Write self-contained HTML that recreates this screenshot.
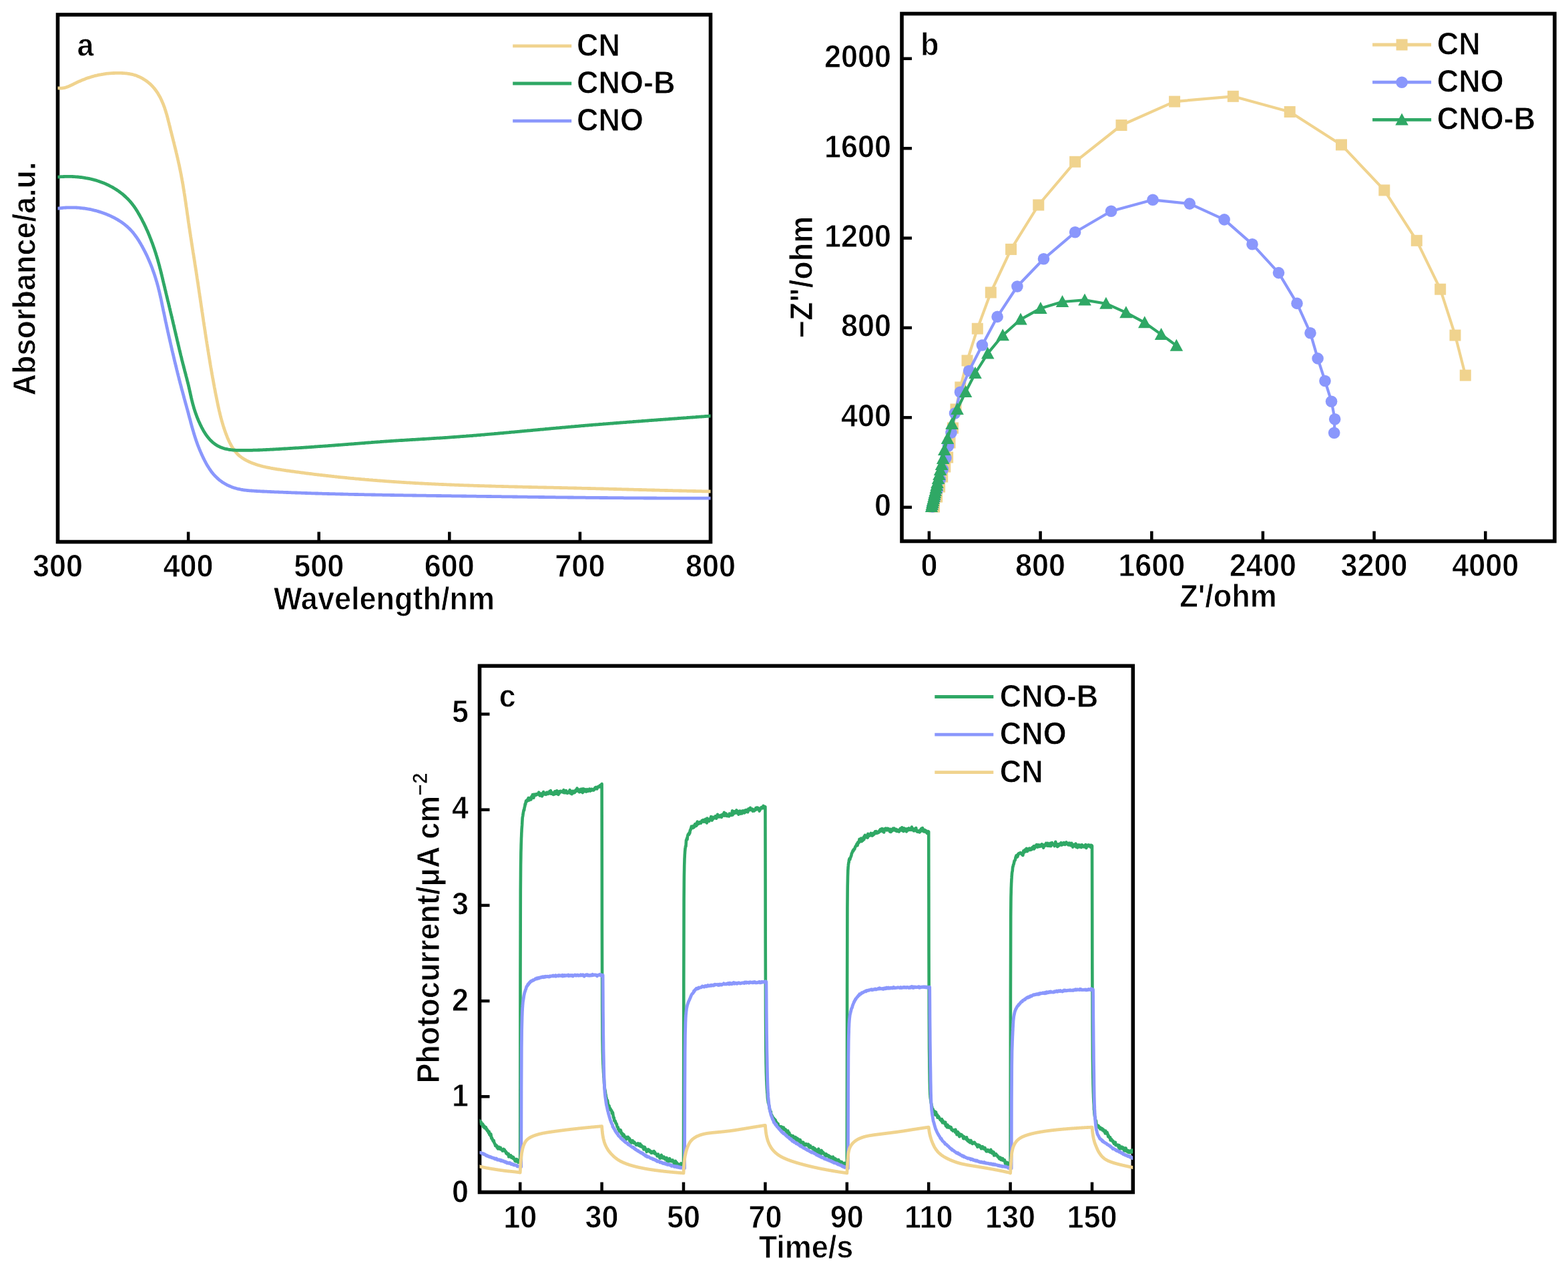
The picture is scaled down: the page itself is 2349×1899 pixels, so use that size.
<!DOCTYPE html>
<html><head><meta charset="utf-8"><title>Figure</title>
<style>html,body{margin:0;padding:0;background:#fff;overflow:hidden}svg{display:block}text{font-family:'Liberation Sans',Arial,sans-serif;font-weight:bold;stroke:#fff;stroke-width:0.9px;paint-order:fill}</style>
</head><body>
<svg width="2349" height="1899" viewBox="0 0 2349 1899">
<defs>
<clipPath id="ca"><rect x="86.5" y="22" width="978.0" height="789.5"/></clipPath>
<clipPath id="cc"><rect x="718.5" y="997.3" width="978.8" height="788.2"/></clipPath>
</defs>
<rect width="2349" height="1899" fill="#fff"/>
<rect x="86.5" y="22" width="978" height="789.5" fill="none" stroke="#000" stroke-width="5.6"/>
<text x="86.5" y="864" text-anchor="middle" font-size="47.5" textLength="75.1" lengthAdjust="spacingAndGlyphs">300</text>
<line x1="282.1" y1="811.5" x2="282.1" y2="796.5" stroke="#000" stroke-width="4.5"/>
<text x="282.1" y="864" text-anchor="middle" font-size="47.5" textLength="75.1" lengthAdjust="spacingAndGlyphs">400</text>
<line x1="477.7" y1="811.5" x2="477.7" y2="796.5" stroke="#000" stroke-width="4.5"/>
<text x="477.7" y="864" text-anchor="middle" font-size="47.5" textLength="75.1" lengthAdjust="spacingAndGlyphs">500</text>
<line x1="673.3" y1="811.5" x2="673.3" y2="796.5" stroke="#000" stroke-width="4.5"/>
<text x="673.3" y="864" text-anchor="middle" font-size="47.5" textLength="75.1" lengthAdjust="spacingAndGlyphs">600</text>
<line x1="868.9" y1="811.5" x2="868.9" y2="796.5" stroke="#000" stroke-width="4.5"/>
<text x="868.9" y="864" text-anchor="middle" font-size="47.5" textLength="75.1" lengthAdjust="spacingAndGlyphs">700</text>
<text x="1064.5" y="864" text-anchor="middle" font-size="47.5" textLength="75.1" lengthAdjust="spacingAndGlyphs">800</text>
<text x="575.5" y="912.5" text-anchor="middle" font-size="47.5" textLength="330.9" lengthAdjust="spacingAndGlyphs">Wavelength/nm</text>
<text x="53" y="417.5" text-anchor="middle" font-size="47.5" textLength="350.1" lengthAdjust="spacingAndGlyphs" transform="rotate(-90 53 417.5)">Absorbance/a.u.</text>
<text x="115.5" y="84" text-anchor="start" font-size="47.5" textLength="25" lengthAdjust="spacingAndGlyphs">a</text>
<g clip-path="url(#ca)">
<polyline points="86.5,131.8 88.1,132 89.6,132.2 91.1,132.2 92.6,132.1 94.1,131.9 95.6,131.7 97,131.4 98.4,131 99.8,130.5 101.2,130 102.6,129.5 104,128.9 105.3,128.3 106.7,127.6 108,127 109.4,126.3 110.7,125.6 112.1,125 113.4,124.3 114.8,123.6 116.1,123 117.5,122.4 118.9,121.8 120.3,121.2 121.6,120.6 123,120 124.4,119.4 125.8,118.9 127.2,118.4 128.6,117.8 130,117.3 131.4,116.8 132.8,116.4 134.2,115.9 135.7,115.5 137.1,115 138.5,114.6 139.9,114.2 141.4,113.8 142.8,113.4 144.3,113.1 145.7,112.8 147.2,112.4 148.7,112.1 150.1,111.8 151.6,111.6 153.1,111.3 154.5,111.1 156,110.8 157.5,110.6 159,110.4 160.5,110.2 162,110.1 163.5,109.9 165,109.8 166.5,109.7 168,109.6 169.6,109.5 171.1,109.5 172.6,109.4 174.1,109.4 175.6,109.4 177.1,109.4 178.6,109.4 180.1,109.4 181.7,109.4 183.2,109.5 184.7,109.6 186.2,109.7 187.7,109.8 189.2,109.9 190.7,110.1 192.1,110.3 193.6,110.5 195.1,110.8 196.5,111.1 198,111.4 199.4,111.8 200.9,112.2 202.3,112.6 203.7,113.1 205.1,113.6 206.5,114.2 207.9,114.8 209.3,115.4 210.6,116 211.9,116.7 213.3,117.4 214.6,118.2 215.8,119 217.1,119.8 218.3,120.6 219.6,121.5 220.8,122.4 222,123.3 223.1,124.3 224.2,125.2 225.4,126.2 226.4,127.3 227.5,128.3 228.5,129.4 229.5,130.5 230.5,131.7 231.5,132.8 232.4,134 233.3,135.2 234.2,136.4 235,137.6 235.9,138.9 236.7,140.1 237.4,141.4 238.2,142.7 238.9,144 239.7,145.4 240.4,146.7 241,148 241.7,149.4 242.3,150.8 242.9,152.2 243.5,153.6 244.1,155 244.7,156.4 245.2,157.8 245.7,159.2 246.3,160.6 246.8,162.1 247.2,163.5 247.7,164.9 248.2,166.4 248.6,167.8 249,169.3 249.5,170.7 249.9,172.1 250.3,173.6 250.7,175 251.1,176.5 251.4,177.9 251.8,179.4 252.2,180.8 252.5,182.3 252.9,183.7 253.3,185.2 253.6,186.6 254,188 254.4,189.5 254.7,190.9 255.1,192.4 255.4,193.8 255.8,195.3 256.2,196.8 256.5,198.2 256.9,199.7 257.3,201.1 257.6,202.6 258,204 258.4,205.5 258.7,206.9 259.1,208.4 259.5,209.8 259.8,211.3 260.2,212.7 260.6,214.2 260.9,215.6 261.3,217.1 261.6,218.6 262,220 262.4,221.5 262.7,222.9 263.1,224.4 263.4,225.9 263.8,227.3 264.1,228.8 264.5,230.2 264.8,231.7 265.2,233.2 265.5,234.6 265.9,236.1 266.2,237.5 266.5,239 266.9,240.5 267.2,241.9 267.5,243.4 267.8,244.9 268.2,246.3 268.5,247.8 268.8,249.3 269.1,250.7 269.4,252.2 269.7,253.7 270,255.1 270.3,256.6 270.6,258.1 270.9,259.6 271.2,261 271.5,262.5 271.7,264 272,265.5 272.3,266.9 272.6,268.4 272.8,269.9 273.1,271.4 273.3,272.8 273.6,274.3 273.9,275.8 274.1,277.3 274.4,278.8 274.6,280.2 274.8,281.7 275.1,283.2 275.3,284.7 275.6,286.2 275.8,287.6 276,289.1 276.3,290.6 276.5,292.1 276.7,293.6 277,295 277.2,296.5 277.4,298 277.6,299.5 277.8,301 278.1,302.5 278.3,303.9 278.5,305.4 278.7,306.9 278.9,308.4 279.1,309.9 279.4,311.4 279.6,312.8 279.8,314.3 280,315.8 280.2,317.3 280.4,318.8 280.6,320.3 280.8,321.8 281.1,323.2 281.3,324.7 281.5,326.2 281.7,327.7 281.9,329.2 282.1,330.7 282.3,332.2 282.5,333.6 282.8,335.1 283,336.6 283.2,338.1 283.4,339.6 283.6,341.1 283.9,342.5 284.1,344 284.3,345.5 284.5,347 284.7,348.5 285,350 285.2,351.4 285.4,352.9 285.6,354.4 285.9,355.9 286.1,357.4 286.3,358.8 286.6,360.3 286.8,361.8 287,363.3 287.2,364.8 287.5,366.3 287.7,367.7 287.9,369.2 288.2,370.7 288.4,372.2 288.6,373.7 288.9,375.1 289.1,376.6 289.3,378.1 289.6,379.6 289.8,381.1 290.1,382.5 290.3,384 290.5,385.5 290.8,387 291,388.5 291.2,390 291.5,391.4 291.7,392.9 291.9,394.4 292.1,395.9 292.4,397.4 292.6,398.8 292.8,400.3 293.1,401.8 293.3,403.3 293.5,404.8 293.8,406.3 294,407.7 294.2,409.2 294.4,410.7 294.7,412.2 294.9,413.7 295.1,415.1 295.3,416.6 295.6,418.1 295.8,419.6 296,421.1 296.2,422.6 296.5,424 296.7,425.5 296.9,427 297.1,428.5 297.3,430 297.6,431.5 297.8,433 298,434.4 298.2,435.9 298.4,437.4 298.7,438.9 298.9,440.4 299.1,441.9 299.3,443.3 299.5,444.8 299.8,446.3 300,447.8 300.2,449.3 300.4,450.8 300.6,452.3 300.9,453.7 301.1,455.2 301.3,456.7 301.5,458.2 301.7,459.7 302,461.2 302.2,462.6 302.4,464.1 302.6,465.6 302.8,467.1 303.1,468.6 303.3,470.1 303.5,471.5 303.7,473 303.9,474.5 304.2,476 304.4,477.5 304.6,479 304.8,480.5 305,481.9 305.3,483.4 305.5,484.9 305.7,486.4 305.9,487.9 306.2,489.4 306.4,490.8 306.6,492.3 306.8,493.8 307.1,495.3 307.3,496.8 307.5,498.3 307.7,499.7 308,501.2 308.2,502.7 308.4,504.2 308.6,505.7 308.9,507.2 309.1,508.6 309.3,510.1 309.6,511.6 309.8,513.1 310,514.6 310.3,516.1 310.5,517.5 310.7,519 311,520.5 311.2,522 311.4,523.5 311.7,524.9 311.9,526.4 312.2,527.9 312.4,529.4 312.6,530.9 312.9,532.3 313.1,533.8 313.4,535.3 313.6,536.8 313.9,538.3 314.1,539.7 314.3,541.2 314.6,542.7 314.8,544.2 315.1,545.7 315.3,547.1 315.6,548.6 315.8,550.1 316.1,551.6 316.4,553 316.6,554.5 316.9,556 317.1,557.5 317.4,558.9 317.6,560.4 317.9,561.9 318.2,563.4 318.4,564.9 318.7,566.3 319,567.8 319.2,569.3 319.5,570.8 319.8,572.2 320,573.7 320.3,575.2 320.6,576.6 320.9,578.1 321.1,579.6 321.4,581.1 321.7,582.5 322,584 322.3,585.5 322.5,587 322.8,588.4 323.1,589.9 323.4,591.4 323.7,592.8 324,594.3 324.3,595.8 324.6,597.2 324.9,598.7 325.2,600.2 325.5,601.6 325.8,603.1 326.1,604.6 326.4,606 326.7,607.5 327,609 327.3,610.4 327.7,611.9 328,613.4 328.3,614.8 328.7,616.3 329,617.7 329.4,619.2 329.7,620.7 330.1,622.1 330.4,623.6 330.8,625 331.2,626.5 331.6,627.9 332,629.4 332.4,630.8 332.8,632.2 333.2,633.7 333.6,635.1 334.1,636.6 334.5,638 335,639.4 335.4,640.9 335.9,642.3 336.4,643.7 336.9,645.2 337.4,646.6 337.9,648 338.4,649.4 338.9,650.8 339.5,652.2 340.1,653.7 340.6,655.1 341.2,656.5 341.8,657.9 342.4,659.3 343.1,660.6 343.7,662 344.4,663.4 345.1,664.7 345.8,666 346.5,667.3 347.2,668.6 348,669.9 348.8,671.2 349.7,672.4 350.5,673.6 351.4,674.8 352.3,676 353.2,677.1 354.2,678.2 355.2,679.3 356.2,680.4 357.3,681.4 358.4,682.4 359.5,683.3 360.7,684.2 361.9,685.1 363.2,686 364.4,686.8 365.7,687.6 367,688.3 368.3,689.1 369.7,689.8 371,690.5 372.4,691.1 373.7,691.8 375.1,692.4 376.5,693 377.9,693.5 379.3,694.1 380.7,694.6 382.1,695.1 383.5,695.6 384.9,696 386.4,696.5 387.8,696.9 389.3,697.3 390.7,697.7 392.2,698.1 393.6,698.5 395.1,698.8 396.6,699.2 398,699.5 399.5,699.8 401,700.1 402.4,700.4 403.9,700.7 405.4,701 406.9,701.3 408.4,701.5 409.9,701.8 411.4,702 412.9,702.3 414.3,702.5 415.8,702.8 417.3,703 418.8,703.2 420.3,703.4 421.8,703.7 423.3,703.9 424.8,704.1 426.3,704.3 427.7,704.5 429.2,704.8 430.7,705 432.2,705.2 433.7,705.4 435.2,705.6 436.7,705.8 438.1,706 439.6,706.2 441.1,706.4 442.6,706.6 444.1,706.8 445.6,707 447,707.2 448.5,707.4 450,707.6 451.5,707.8 453,708 454.5,708.2 455.9,708.4 457.4,708.6 458.9,708.8 460.4,709 461.9,709.2 463.4,709.4 464.8,709.5 466.3,709.7 467.8,709.9 469.3,710.1 470.8,710.3 472.3,710.5 473.8,710.6 475.3,710.8 476.7,711 478.2,711.2 479.7,711.3 481.2,711.5 482.7,711.7 484.2,711.9 485.7,712 487.2,712.2 488.6,712.4 490.1,712.5 491.6,712.7 493.1,712.9 494.6,713 496.1,713.2 497.6,713.4 499.1,713.5 500.6,713.7 502.1,713.8 503.6,714 505,714.2 506.5,714.3 508,714.5 509.5,714.6 511,714.8 512.5,714.9 514,715.1 515.5,715.2 517,715.4 518.5,715.5 520,715.7 521.5,715.8 523,716 524.4,716.1 525.9,716.3 527.4,716.4 528.9,716.5 530.4,716.7 531.9,716.8 533.4,717 534.9,717.1 536.4,717.2 537.9,717.4 539.4,717.5 540.9,717.6 542.4,717.8 543.9,717.9 545.4,718 546.9,718.2 548.4,718.3 549.9,718.4 551.3,718.5 552.8,718.7 554.3,718.8 555.8,718.9 557.3,719 558.8,719.2 560.3,719.3 561.8,719.4 563.3,719.5 564.8,719.6 566.3,719.8 567.8,719.9 569.3,720 570.8,720.1 572.3,720.2 573.8,720.3 575.3,720.4 576.8,720.6 578.3,720.7 579.8,720.8 581.3,720.9 582.8,721 584.3,721.1 585.8,721.2 587.3,721.3 588.8,721.4 590.3,721.5 591.8,721.6 593.3,721.7 594.8,721.8 596.2,721.9 597.7,722 599.2,722.1 600.7,722.2 602.2,722.3 603.7,722.4 605.2,722.5 606.7,722.6 608.2,722.7 609.7,722.8 611.2,722.9 612.7,722.9 614.2,723 615.7,723.1 617.2,723.2 618.7,723.3 620.2,723.4 621.7,723.5 623.2,723.6 624.7,723.6 626.2,723.7 627.7,723.8 629.2,723.9 630.7,724 632.2,724 633.7,724.1 635.2,724.2 636.7,724.3 638.2,724.3 639.7,724.4 641.2,724.5 642.7,724.6 644.2,724.6 645.7,724.7 647.2,724.8 648.7,724.9 650.2,724.9 651.7,725 653.2,725.1 654.7,725.1 656.2,725.2 657.7,725.3 659.2,725.3 660.7,725.4 662.2,725.5 663.7,725.5 665.2,725.6 666.7,725.7 668.2,725.7 669.7,725.8 671.2,725.9 672.6,725.9 674.1,726 675.6,726 677.1,726.1 678.6,726.2 680.1,726.2 681.6,726.3 683.1,726.3 684.6,726.4 686.1,726.4 687.6,726.5 689.1,726.6 690.6,726.6 692.1,726.7 693.6,726.7 695.1,726.8 696.6,726.8 698.1,726.9 699.6,726.9 701.1,727 702.6,727 704.1,727.1 705.6,727.1 707.1,727.2 708.6,727.2 710.1,727.3 711.6,727.3 713.1,727.4 714.6,727.4 716.1,727.5 717.6,727.5 719.1,727.6 720.6,727.6 722.1,727.7 723.6,727.7 725.1,727.7 726.6,727.8 728.1,727.8 729.6,727.9 731.1,727.9 732.6,728 734.1,728 735.6,728 737.1,728.1 738.6,728.1 740.1,728.2 741.6,728.2 743.1,728.3 744.6,728.3 746.1,728.3 747.6,728.4 749.1,728.4 750.6,728.4 752.1,728.5 753.6,728.5 755.1,728.6 756.6,728.6 758.1,728.6 759.6,728.7 761.1,728.7 762.6,728.8 764.1,728.8 765.6,728.8 767.1,728.9 768.6,728.9 770.1,728.9 771.6,729 773.1,729 774.6,729 776.1,729.1 777.6,729.1 779.1,729.1 780.6,729.2 782.1,729.2 783.6,729.3 785.1,729.3 786.6,729.3 788.1,729.4 789.6,729.4 791.1,729.4 792.6,729.5 794.1,729.5 795.6,729.5 797.1,729.6 798.6,729.6 800.1,729.6 801.6,729.7 803.1,729.7 804.6,729.7 806.1,729.8 807.6,729.8 809.1,729.8 810.6,729.9 812.1,729.9 813.6,729.9 815.1,730 816.6,730 818.1,730 819.6,730.1 821.1,730.1 822.6,730.1 824.1,730.2 825.6,730.2 827.1,730.2 828.6,730.2 830.1,730.3 831.6,730.3 833.1,730.3 834.6,730.4 836.1,730.4 837.6,730.4 839.1,730.5 840.6,730.5 842.1,730.6 843.6,730.6 845.1,730.6 846.6,730.7 848.1,730.7 849.6,730.7 851.1,730.8 852.6,730.8 854.1,730.8 855.6,730.9 857.1,730.9 858.6,730.9 860.1,731 861.6,731 863.1,731 864.6,731.1 866.1,731.1 867.6,731.1 869.1,731.2 870.6,731.2 872.1,731.3 873.6,731.3 875.1,731.3 876.6,731.4 878.1,731.4 879.6,731.4 881.1,731.5 882.6,731.5 884.1,731.5 885.6,731.6 887.1,731.6 888.6,731.7 890.1,731.7 891.6,731.7 893.1,731.8 894.6,731.8 896.1,731.8 897.6,731.9 899.1,731.9 900.6,732 902.1,732 903.6,732 905.1,732.1 906.6,732.1 908.1,732.2 909.6,732.2 911.1,732.2 912.6,732.3 914,732.3 915.5,732.4 917,732.4 918.5,732.4 920,732.5 921.5,732.5 923,732.5 924.5,732.6 926,732.6 927.5,732.7 929,732.7 930.5,732.7 932,732.8 933.5,732.8 935,732.9 936.5,732.9 938,732.9 939.5,733 941,733 942.5,733.1 944,733.1 945.5,733.1 947,733.2 948.5,733.2 950,733.3 951.5,733.3 953,733.3 954.5,733.4 956,733.4 957.5,733.5 959,733.5 960.5,733.5 962,733.6 963.5,733.6 965,733.6 966.5,733.7 968,733.7 969.5,733.8 971,733.8 972.5,733.8 974,733.9 975.5,733.9 977,734 978.5,734 980,734 981.5,734.1 983,734.1 984.5,734.2 986,734.2 987.5,734.2 989,734.3 990.5,734.3 992,734.3 993.5,734.4 995,734.4 996.5,734.5 998,734.5 999.5,734.5 1001,734.6 1002.5,734.6 1004,734.6 1005.5,734.7 1007,734.7 1008.5,734.8 1010,734.8 1011.5,734.8 1013,734.9 1014.5,734.9 1016,734.9 1017.5,735 1019,735 1020.5,735 1022,735.1 1023.5,735.1 1025,735.1 1026.5,735.2 1028,735.2 1029.5,735.3 1031,735.3 1032.5,735.3 1034,735.4 1035.5,735.4 1037,735.4 1038.5,735.5 1040,735.5 1041.5,735.5 1043,735.6 1044.5,735.6 1046,735.6 1047.5,735.7 1049,735.7 1050.5,735.7 1052,735.8 1053.5,735.8 1055,735.8 1056.5,735.8 1058,735.9 1059.5,735.9 1061,735.9 1062.5,736 1064,736" fill="none" stroke="#F0D38E" stroke-width="4.8" stroke-linejoin="round" stroke-linecap="round"/>
<polyline points="86.5,312.2 88,312 89.5,311.8 91,311.6 92.5,311.5 94,311.3 95.5,311.2 97,311.1 98.5,311 100,310.9 101.5,310.9 103,310.8 104.5,310.8 106,310.8 107.5,310.8 109,310.8 110.5,310.8 112,310.9 113.5,310.9 115,311 116.5,311.1 117.9,311.2 119.4,311.3 120.9,311.5 122.4,311.6 123.9,311.8 125.4,312 126.9,312.2 128.3,312.4 129.8,312.6 131.3,312.9 132.8,313.1 134.2,313.4 135.7,313.7 137.2,314 138.6,314.4 140.1,314.7 141.5,315.1 143,315.4 144.4,315.8 145.9,316.2 147.3,316.6 148.8,317.1 150.2,317.5 151.6,318 153.1,318.5 154.5,319 155.9,319.5 157.3,320 158.7,320.6 160.1,321.1 161.5,321.7 162.9,322.3 164.3,322.9 165.7,323.5 167,324.2 168.4,324.8 169.7,325.5 171.1,326.2 172.4,326.9 173.7,327.6 175,328.3 176.3,329.1 177.6,329.9 178.9,330.7 180.2,331.5 181.4,332.3 182.7,333.2 183.9,334.1 185.1,334.9 186.3,335.8 187.4,336.8 188.6,337.7 189.7,338.7 190.9,339.7 192,340.7 193.1,341.7 194.1,342.7 195.2,343.8 196.2,344.9 197.2,346 198.2,347.1 199.2,348.2 200.1,349.4 201,350.6 201.9,351.8 202.8,353 203.7,354.2 204.6,355.4 205.4,356.6 206.2,357.9 207.1,359.2 207.9,360.4 208.7,361.7 209.4,363 210.2,364.3 211,365.6 211.7,366.9 212.5,368.2 213.2,369.5 213.9,370.8 214.6,372.1 215.3,373.5 216,374.8 216.7,376.1 217.4,377.5 218.1,378.8 218.7,380.2 219.4,381.5 220,382.9 220.7,384.2 221.3,385.6 221.9,387 222.5,388.3 223.1,389.7 223.7,391.1 224.3,392.5 224.9,393.9 225.5,395.2 226,396.6 226.6,398 227.1,399.4 227.7,400.8 228.2,402.2 228.7,403.7 229.2,405.1 229.7,406.5 230.2,407.9 230.7,409.3 231.2,410.7 231.7,412.2 232.1,413.6 232.6,415 233,416.5 233.5,417.9 233.9,419.3 234.3,420.8 234.8,422.2 235.2,423.6 235.6,425.1 236,426.5 236.4,428 236.8,429.4 237.2,430.9 237.5,432.3 237.9,433.8 238.3,435.2 238.6,436.7 239,438.2 239.3,439.6 239.6,441.1 240,442.5 240.3,444 240.6,445.5 241,446.9 241.3,448.4 241.6,449.9 241.9,451.3 242.2,452.8 242.5,454.3 242.8,455.7 243.1,457.2 243.4,458.7 243.7,460.1 244,461.6 244.3,463.1 244.6,464.5 244.9,466 245.3,467.5 245.6,468.9 245.9,470.4 246.2,471.9 246.5,473.3 246.8,474.8 247.1,476.3 247.4,477.7 247.7,479.2 248,480.7 248.3,482.1 248.7,483.6 249,485.1 249.3,486.5 249.6,488 249.9,489.5 250.2,490.9 250.6,492.4 250.9,493.9 251.2,495.3 251.5,496.8 251.9,498.3 252.2,499.7 252.5,501.2 252.8,502.7 253.2,504.1 253.5,505.6 253.8,507.1 254.2,508.5 254.5,510 254.8,511.5 255.2,512.9 255.5,514.4 255.8,515.8 256.2,517.3 256.5,518.8 256.8,520.2 257.2,521.7 257.5,523.2 257.8,524.6 258.2,526.1 258.5,527.5 258.9,529 259.2,530.5 259.6,531.9 259.9,533.4 260.3,534.8 260.6,536.3 260.9,537.7 261.3,539.2 261.6,540.7 262,542.1 262.3,543.6 262.7,545 263.1,546.5 263.4,548 263.8,549.4 264.1,550.9 264.5,552.3 264.8,553.8 265.2,555.2 265.6,556.7 265.9,558.1 266.3,559.6 266.7,561 267,562.5 267.4,564 267.8,565.4 268.1,566.9 268.5,568.3 268.9,569.8 269.3,571.2 269.6,572.7 270,574.1 270.4,575.6 270.8,577 271.2,578.5 271.5,579.9 271.9,581.4 272.3,582.8 272.7,584.3 273.1,585.7 273.5,587.2 273.9,588.6 274.3,590.1 274.7,591.5 275.1,593 275.4,594.4 275.8,595.9 276.2,597.3 276.6,598.7 277,600.2 277.4,601.6 277.8,603.1 278.2,604.5 278.6,606 279,607.4 279.4,608.9 279.8,610.3 280.2,611.8 280.6,613.2 281,614.7 281.4,616.1 281.8,617.6 282.2,619 282.5,620.5 282.9,621.9 283.3,623.4 283.7,624.8 284.1,626.3 284.5,627.7 284.9,629.2 285.3,630.6 285.6,632.1 286,633.5 286.4,634.9 286.8,636.4 287.2,637.8 287.6,639.3 288,640.7 288.4,642.2 288.8,643.6 289.3,645 289.7,646.5 290.1,647.9 290.5,649.4 291,650.8 291.4,652.2 291.8,653.6 292.3,655.1 292.8,656.5 293.2,657.9 293.7,659.3 294.2,660.7 294.7,662.1 295.2,663.6 295.7,665 296.2,666.4 296.8,667.8 297.3,669.1 297.9,670.5 298.4,671.9 299,673.3 299.6,674.7 300.2,676.1 300.8,677.5 301.4,678.8 302,680.2 302.6,681.6 303.2,682.9 303.9,684.3 304.5,685.7 305.2,687 305.9,688.4 306.6,689.8 307.3,691.1 308,692.4 308.7,693.8 309.4,695.1 310.2,696.4 311,697.7 311.8,699 312.6,700.3 313.4,701.6 314.2,702.8 315.1,704 315.9,705.3 316.8,706.5 317.7,707.7 318.7,708.8 319.6,710 320.6,711.1 321.6,712.2 322.6,713.3 323.7,714.3 324.8,715.4 325.9,716.4 327,717.4 328.1,718.3 329.3,719.3 330.5,720.2 331.7,721.1 332.9,721.9 334.1,722.7 335.4,723.5 336.7,724.3 338,725 339.3,725.8 340.6,726.5 342,727.1 343.4,727.7 344.7,728.3 346.1,728.9 347.5,729.5 348.9,730 350.4,730.5 351.8,730.9 353.2,731.3 354.7,731.7 356.1,732.1 357.6,732.4 359.1,732.7 360.5,733 362,733.3 363.5,733.5 365,733.8 366.5,734 368,734.1 369.5,734.3 371,734.5 372.5,734.6 374,734.8 375.5,734.9 377,735 378.5,735.1 380,735.2 381.5,735.3 383,735.4 384.5,735.5 386,735.6 387.5,735.7 389,735.7 390.5,735.8 392,735.9 393.5,736 395,736 396.5,736.1 398,736.2 399.5,736.2 401,736.3 402.5,736.4 404,736.4 405.5,736.5 407,736.6 408.5,736.6 410,736.7 411.5,736.8 413,736.8 414.5,736.9 416,736.9 417.5,737 419,737.1 420.5,737.1 422,737.2 423.5,737.2 425,737.3 426.5,737.4 428,737.4 429.5,737.5 431,737.5 432.4,737.6 433.9,737.6 435.4,737.7 436.9,737.8 438.4,737.8 439.9,737.9 441.4,737.9 442.9,738 444.4,738 445.9,738.1 447.4,738.1 448.9,738.2 450.4,738.2 451.9,738.3 453.4,738.3 454.9,738.4 456.4,738.4 457.9,738.5 459.4,738.5 460.9,738.6 462.4,738.6 463.9,738.7 465.4,738.7 466.9,738.8 468.4,738.8 469.9,738.9 471.4,738.9 472.9,739 474.4,739 475.9,739 477.4,739.1 478.9,739.1 480.4,739.2 481.9,739.2 483.4,739.3 484.9,739.3 486.4,739.3 487.9,739.4 489.4,739.4 490.9,739.5 492.4,739.5 493.9,739.6 495.4,739.6 496.9,739.6 498.4,739.7 499.9,739.7 501.4,739.7 502.9,739.8 504.4,739.8 505.9,739.9 507.4,739.9 508.9,739.9 510.4,740 511.9,740 513.4,740 514.9,740.1 516.4,740.1 517.9,740.1 519.4,740.2 520.9,740.2 522.4,740.3 523.9,740.3 525.4,740.3 526.9,740.4 528.4,740.4 529.9,740.4 531.4,740.5 532.9,740.5 534.4,740.5 535.9,740.5 537.4,740.6 538.9,740.6 540.4,740.6 541.9,740.7 543.4,740.7 544.9,740.7 546.4,740.8 547.9,740.8 549.4,740.8 550.9,740.9 552.4,740.9 553.9,740.9 555.4,740.9 556.9,741 558.4,741 559.9,741 561.4,741 562.9,741.1 564.4,741.1 565.9,741.1 567.4,741.2 568.9,741.2 570.4,741.2 571.9,741.2 573.4,741.3 574.9,741.3 576.4,741.3 577.9,741.3 579.4,741.4 580.9,741.4 582.4,741.4 583.9,741.4 585.4,741.5 586.9,741.5 588.4,741.5 589.9,741.5 591.4,741.6 592.9,741.6 594.4,741.6 595.9,741.6 597.4,741.7 598.9,741.7 600.4,741.7 601.9,741.7 603.4,741.7 604.9,741.8 606.4,741.8 607.9,741.8 609.4,741.8 610.9,741.9 612.4,741.9 613.9,741.9 615.4,741.9 616.9,741.9 618.4,742 619.9,742 621.4,742 622.9,742 624.4,742.1 625.9,742.1 627.4,742.1 628.9,742.1 630.4,742.1 631.9,742.2 633.4,742.2 634.9,742.2 636.4,742.2 637.9,742.2 639.4,742.3 640.9,742.3 642.4,742.3 643.9,742.3 645.4,742.3 646.9,742.4 648.4,742.4 649.9,742.4 651.4,742.4 652.9,742.4 654.4,742.5 655.9,742.5 657.4,742.5 658.9,742.5 660.4,742.5 661.9,742.6 663.4,742.6 664.9,742.6 666.4,742.6 667.9,742.6 669.4,742.7 670.9,742.7 672.4,742.7 673.9,742.7 675.4,742.7 676.9,742.8 678.4,742.8 679.9,742.8 681.4,742.8 682.9,742.8 684.4,742.9 685.9,742.9 687.4,742.9 688.9,742.9 690.4,742.9 691.9,743 693.4,743 694.9,743 696.4,743 697.9,743 699.4,743.1 700.9,743.1 702.4,743.1 703.9,743.1 705.4,743.1 706.9,743.2 708.4,743.2 709.9,743.2 711.4,743.2 712.9,743.2 714.4,743.3 715.9,743.3 717.4,743.3 718.9,743.3 720.4,743.3 721.9,743.4 723.4,743.4 724.9,743.4 726.4,743.4 727.9,743.4 729.4,743.5 730.9,743.5 732.4,743.5 733.9,743.5 735.4,743.5 736.9,743.6 738.4,743.6 739.9,743.6 741.4,743.6 742.9,743.6 744.4,743.7 745.9,743.7 747.4,743.7 748.9,743.7 750.4,743.7 751.9,743.8 753.4,743.8 754.9,743.8 756.4,743.8 757.9,743.8 759.4,743.8 760.9,743.9 762.4,743.9 763.9,743.9 765.4,743.9 766.9,743.9 768.4,744 769.9,744 771.4,744 772.9,744 774.4,744 775.9,744.1 777.4,744.1 778.9,744.1 780.4,744.1 781.9,744.1 783.4,744.2 784.9,744.2 786.4,744.2 787.9,744.2 789.4,744.2 790.9,744.3 792.4,744.3 793.9,744.3 795.4,744.3 796.9,744.3 798.4,744.3 799.9,744.4 801.4,744.4 802.9,744.4 804.4,744.4 805.9,744.4 807.4,744.5 808.9,744.5 810.4,744.5 811.9,744.5 813.4,744.5 814.9,744.5 816.4,744.6 817.9,744.6 819.4,744.6 820.9,744.6 822.4,744.6 823.9,744.7 825.4,744.7 826.9,744.7 828.4,744.7 829.9,744.7 831.4,744.7 832.9,744.8 834.4,744.8 835.9,744.8 837.4,744.8 838.9,744.8 840.4,744.8 841.9,744.9 843.4,744.9 844.9,744.9 846.4,744.9 847.9,744.9 849.4,744.9 850.9,745 852.4,745 853.9,745 855.4,745 856.9,745 858.4,745 859.9,745.1 861.4,745.1 862.9,745.1 864.4,745.1 865.9,745.1 867.4,745.1 868.9,745.2 870.4,745.2 871.9,745.2 873.4,745.2 874.9,745.2 876.4,745.2 877.9,745.3 879.4,745.3 880.9,745.3 882.4,745.3 883.9,745.3 885.4,745.3 886.9,745.3 888.4,745.4 889.9,745.4 891.4,745.4 892.9,745.4 894.4,745.4 895.9,745.4 897.4,745.4 898.9,745.5 900.4,745.5 901.9,745.5 903.4,745.5 904.9,745.5 906.4,745.5 907.9,745.5 909.4,745.5 910.9,745.6 912.4,745.6 913.9,745.6 915.4,745.6 916.9,745.6 918.4,745.6 919.9,745.6 921.4,745.6 922.9,745.7 924.4,745.7 925.9,745.7 927.4,745.7 928.9,745.7 930.4,745.7 931.9,745.7 933.4,745.7 934.9,745.8 936.4,745.8 937.9,745.8 939.4,745.8 940.9,745.8 942.4,745.8 943.9,745.8 945.4,745.8 946.9,745.8 948.4,745.9 949.9,745.9 951.4,745.9 952.9,745.9 954.4,745.9 955.9,745.9 957.4,745.9 958.9,745.9 960.4,745.9 961.9,745.9 963.4,745.9 964.9,746 966.4,746 967.9,746 969.4,746 970.9,746 972.4,746 973.9,746 975.4,746 976.9,746 978.4,746 979.9,746 981.4,746 982.9,746 984.4,746.1 985.9,746.1 987.4,746.1 988.9,746.1 990.4,746.1 991.9,746.1 993.4,746.1 994.9,746.1 996.4,746.1 997.9,746.1 999.4,746.1 1000.9,746.1 1002.4,746.1 1003.9,746.1 1005.4,746.1 1006.9,746.1 1008.4,746.1 1009.9,746.2 1011.4,746.2 1012.9,746.2 1014.4,746.2 1015.9,746.2 1017.4,746.2 1018.9,746.2 1020.4,746.2 1021.9,746.2 1023.4,746.2 1024.9,746.2 1026.4,746.2 1027.9,746.2 1029.4,746.2 1030.9,746.2 1032.4,746.2 1033.9,746.2 1035.4,746.2 1036.9,746.2 1038.4,746.2 1039.9,746.2 1041.4,746.2 1042.9,746.2 1044.4,746.2 1045.9,746.2 1047.4,746.2 1048.9,746.2 1050.4,746.2 1051.9,746.2 1053.4,746.2 1054.9,746.2 1056.4,746.2 1057.9,746.2 1059.4,746.2 1060.9,746.2 1062.4,746.2 1063.9,746.2 1064,746.2" fill="none" stroke="#8A97FC" stroke-width="4.8" stroke-linejoin="round" stroke-linecap="round"/>
<polyline points="86.5,265.1 88,265 89.5,264.8 91,264.7 92.5,264.6 94,264.6 95.5,264.5 97,264.4 98.5,264.4 100,264.4 101.5,264.4 103,264.4 104.5,264.4 106,264.4 107.5,264.4 109,264.5 110.5,264.6 112,264.7 113.5,264.8 115,264.9 116.5,265 117.9,265.1 119.4,265.3 120.9,265.5 122.4,265.7 123.9,265.9 125.4,266.1 126.9,266.3 128.3,266.6 129.8,266.8 131.3,267.1 132.8,267.4 134.2,267.7 135.7,268 137.2,268.4 138.6,268.7 140.1,269.1 141.5,269.5 143,269.9 144.4,270.3 145.8,270.8 147.3,271.2 148.7,271.7 150.1,272.2 151.5,272.7 152.9,273.2 154.3,273.8 155.7,274.3 157.1,274.9 158.5,275.5 159.9,276.1 161.2,276.8 162.6,277.4 163.9,278.1 165.3,278.8 166.6,279.5 167.9,280.2 169.2,280.9 170.5,281.7 171.8,282.5 173.1,283.3 174.4,284.1 175.6,284.9 176.9,285.7 178.1,286.6 179.3,287.5 180.5,288.4 181.7,289.3 182.9,290.2 184.1,291.2 185.2,292.1 186.3,293.1 187.4,294.1 188.5,295.1 189.6,296.2 190.7,297.2 191.7,298.3 192.8,299.4 193.8,300.5 194.8,301.6 195.8,302.7 196.7,303.9 197.7,305 198.6,306.2 199.5,307.4 200.4,308.6 201.3,309.8 202.1,311.1 203,312.3 203.8,313.6 204.6,314.8 205.4,316.1 206.2,317.4 206.9,318.7 207.7,320 208.4,321.3 209.2,322.6 209.9,323.9 210.6,325.2 211.4,326.5 212.1,327.9 212.8,329.2 213.4,330.5 214.1,331.9 214.8,333.2 215.5,334.5 216.1,335.9 216.8,337.2 217.4,338.6 218.1,339.9 218.7,341.3 219.3,342.7 219.9,344 220.6,345.4 221.2,346.8 221.8,348.2 222.3,349.5 222.9,350.9 223.5,352.3 224.1,353.7 224.6,355.1 225.2,356.5 225.7,357.9 226.3,359.3 226.8,360.7 227.3,362.1 227.9,363.5 228.4,364.9 228.9,366.3 229.4,367.7 229.9,369.2 230.4,370.6 230.9,372 231.4,373.4 231.8,374.8 232.3,376.3 232.8,377.7 233.2,379.1 233.7,380.6 234.1,382 234.6,383.4 235,384.9 235.4,386.3 235.9,387.7 236.3,389.2 236.7,390.6 237.1,392.1 237.5,393.5 237.9,395 238.3,396.4 238.7,397.9 239.1,399.3 239.4,400.8 239.8,402.2 240.2,403.7 240.6,405.1 240.9,406.6 241.3,408 241.6,409.5 242,410.9 242.4,412.4 242.7,413.8 243.1,415.3 243.4,416.8 243.7,418.2 244.1,419.7 244.4,421.1 244.8,422.6 245.1,424 245.5,425.5 245.8,427 246.2,428.4 246.5,429.9 246.9,431.3 247.2,432.8 247.6,434.3 247.9,435.7 248.3,437.2 248.6,438.6 249,440.1 249.3,441.5 249.7,443 250,444.5 250.4,445.9 250.7,447.4 251.1,448.8 251.4,450.3 251.8,451.7 252.2,453.2 252.5,454.7 252.9,456.1 253.2,457.6 253.6,459 253.9,460.5 254.3,462 254.6,463.4 255,464.9 255.3,466.3 255.7,467.8 256,469.3 256.4,470.7 256.7,472.2 257.1,473.6 257.4,475.1 257.8,476.6 258.1,478 258.5,479.5 258.8,480.9 259.1,482.4 259.5,483.9 259.8,485.3 260.2,486.8 260.5,488.2 260.9,489.7 261.2,491.2 261.5,492.6 261.9,494.1 262.2,495.5 262.6,497 262.9,498.5 263.2,499.9 263.6,501.4 263.9,502.8 264.3,504.3 264.6,505.8 264.9,507.2 265.3,508.7 265.6,510.1 266,511.6 266.3,513.1 266.7,514.5 267,516 267.3,517.4 267.7,518.9 268,520.4 268.4,521.8 268.7,523.3 269.1,524.7 269.4,526.2 269.8,527.6 270.1,529.1 270.5,530.6 270.8,532 271.2,533.5 271.6,534.9 271.9,536.4 272.3,537.8 272.6,539.3 273,540.8 273.4,542.2 273.7,543.7 274.1,545.1 274.5,546.6 274.9,548 275.2,549.5 275.6,550.9 276,552.4 276.4,553.8 276.7,555.3 277.1,556.7 277.5,558.2 277.9,559.6 278.3,561.1 278.6,562.5 279,564 279.4,565.5 279.8,566.9 280.1,568.4 280.5,569.8 280.9,571.3 281.2,572.7 281.6,574.2 282,575.6 282.3,577.1 282.7,578.6 283,580 283.3,581.5 283.7,582.9 284,584.4 284.3,585.9 284.7,587.3 285,588.8 285.3,590.3 285.6,591.7 286,593.2 286.3,594.7 286.6,596.1 287,597.6 287.3,599 287.7,600.5 288,601.9 288.4,603.4 288.8,604.8 289.2,606.3 289.6,607.7 290,609.1 290.4,610.6 290.8,612 291.3,613.4 291.7,614.8 292.2,616.3 292.7,617.7 293.2,619.1 293.7,620.5 294.2,621.9 294.7,623.3 295.2,624.7 295.8,626.1 296.4,627.5 296.9,628.9 297.5,630.3 298.1,631.6 298.8,633 299.4,634.4 300,635.8 300.7,637.1 301.4,638.5 302,639.8 302.7,641.2 303.5,642.5 304.2,643.9 304.9,645.2 305.7,646.5 306.5,647.8 307.3,649.1 308.2,650.4 309,651.6 309.9,652.8 310.8,654 311.8,655.2 312.7,656.4 313.7,657.5 314.7,658.7 315.8,659.7 316.8,660.8 317.9,661.8 319,662.8 320.2,663.7 321.4,664.6 322.6,665.5 323.8,666.3 325.1,667.1 326.4,667.8 327.7,668.5 329,669.1 330.3,669.7 331.7,670.3 333.1,670.8 334.5,671.3 335.9,671.7 337.3,672.1 338.7,672.4 340.2,672.7 341.6,673 343.1,673.3 344.6,673.5 346.1,673.7 347.6,673.8 349.1,674 350.6,674.1 352.1,674.2 353.6,674.3 355.2,674.3 356.7,674.4 358.2,674.4 359.7,674.4 361.3,674.4 362.8,674.4 364.3,674.4 365.9,674.4 367.4,674.4 368.9,674.4 370.4,674.4 371.9,674.4 373.4,674.4 375,674.3 376.5,674.3 378,674.3 379.5,674.2 381,674.2 382.5,674.2 384,674.1 385.5,674.1 387,674 388.5,674 390,673.9 391.5,673.8 393,673.8 394.4,673.7 395.9,673.7 397.4,673.6 398.9,673.5 400.4,673.4 401.9,673.4 403.4,673.3 404.9,673.2 406.4,673.1 407.9,673.1 409.3,673 410.8,672.9 412.3,672.8 413.8,672.7 415.3,672.7 416.8,672.6 418.3,672.5 419.8,672.4 421.3,672.3 422.7,672.2 424.2,672.1 425.7,672 427.2,672 428.7,671.9 430.2,671.8 431.7,671.7 433.2,671.6 434.7,671.5 436.2,671.4 437.7,671.3 439.2,671.2 440.7,671.1 442.2,671 443.7,670.9 445.2,670.8 446.7,670.8 448.2,670.7 449.7,670.6 451.1,670.5 452.6,670.4 454.1,670.3 455.6,670.2 457.1,670.1 458.6,670 460.1,669.9 461.6,669.8 463.1,669.7 464.6,669.6 466.1,669.5 467.6,669.4 469.1,669.3 470.6,669.2 472.1,669 473.6,668.9 475.1,668.8 476.6,668.7 478.1,668.6 479.6,668.5 481.1,668.4 482.6,668.3 484.1,668.2 485.6,668.1 487.1,668 488.6,667.9 490.1,667.8 491.6,667.6 493.1,667.5 494.6,667.4 496.1,667.3 497.6,667.2 499.1,667.1 500.6,667 502.1,666.9 503.6,666.7 505.1,666.6 506.6,666.5 508.1,666.4 509.6,666.3 511.1,666.2 512.6,666.1 514.1,665.9 515.6,665.8 517.1,665.7 518.6,665.6 520.1,665.5 521.6,665.4 523.1,665.2 524.6,665.1 526.1,665 527.6,664.9 529.1,664.8 530.6,664.6 532,664.5 533.5,664.4 535,664.3 536.5,664.2 538,664.1 539.5,663.9 541,663.8 542.5,663.7 544,663.6 545.5,663.5 547,663.3 548.5,663.2 550,663.1 551.5,663 553,662.9 554.5,662.8 555.9,662.7 557.4,662.5 558.9,662.4 560.4,662.3 561.9,662.2 563.4,662.1 564.9,662 566.4,661.9 567.9,661.8 569.4,661.7 570.9,661.5 572.4,661.4 573.9,661.3 575.4,661.2 576.9,661.1 578.4,661 579.9,660.9 581.3,660.8 582.8,660.7 584.3,660.6 585.8,660.5 587.3,660.4 588.8,660.3 590.3,660.2 591.8,660.1 593.3,660 594.8,659.9 596.3,659.8 597.8,659.7 599.3,659.6 600.8,659.5 602.3,659.5 603.8,659.4 605.3,659.3 606.8,659.2 608.3,659.1 609.8,659 611.3,658.9 612.8,658.8 614.3,658.7 615.8,658.6 617.3,658.5 618.8,658.4 620.3,658.4 621.8,658.3 623.3,658.2 624.8,658.1 626.3,658 627.8,657.9 629.2,657.8 630.7,657.7 632.2,657.6 633.7,657.5 635.2,657.5 636.7,657.4 638.2,657.3 639.7,657.2 641.2,657.1 642.7,657 644.2,656.9 645.7,656.8 647.2,656.7 648.7,656.6 650.2,656.5 651.7,656.4 653.2,656.3 654.7,656.2 656.2,656.2 657.7,656.1 659.2,656 660.7,655.9 662.2,655.8 663.7,655.7 665.2,655.6 666.7,655.5 668.2,655.4 669.7,655.3 671.2,655.2 672.7,655.1 674.2,654.9 675.7,654.8 677.2,654.7 678.7,654.6 680.2,654.5 681.7,654.4 683.2,654.3 684.6,654.2 686.1,654.1 687.6,654 689.1,653.9 690.6,653.7 692.1,653.6 693.6,653.5 695.1,653.4 696.6,653.3 698.1,653.2 699.6,653 701.1,652.9 702.6,652.8 704.1,652.7 705.6,652.6 707.1,652.5 708.6,652.3 710.1,652.2 711.6,652.1 713.1,652 714.6,651.8 716.1,651.7 717.5,651.6 719,651.5 720.5,651.3 722,651.2 723.5,651.1 725,651 726.5,650.8 728,650.7 729.5,650.6 731,650.4 732.5,650.3 734,650.2 735.5,650.1 737,649.9 738.5,649.8 740,649.7 741.5,649.5 743,649.4 744.4,649.3 745.9,649.1 747.4,649 748.9,648.9 750.4,648.7 751.9,648.6 753.4,648.5 754.9,648.3 756.4,648.2 757.9,648.1 759.4,647.9 760.9,647.8 762.4,647.7 763.9,647.5 765.4,647.4 766.9,647.2 768.4,647.1 769.8,647 771.3,646.8 772.8,646.7 774.3,646.6 775.8,646.4 777.3,646.3 778.8,646.1 780.3,646 781.8,645.9 783.3,645.7 784.8,645.6 786.3,645.4 787.8,645.3 789.3,645.2 790.8,645 792.2,644.9 793.7,644.8 795.2,644.6 796.7,644.5 798.2,644.3 799.7,644.2 801.2,644.1 802.7,643.9 804.2,643.8 805.7,643.6 807.2,643.5 808.7,643.4 810.2,643.2 811.7,643.1 813.2,643 814.6,642.8 816.1,642.7 817.6,642.5 819.1,642.4 820.6,642.3 822.1,642.1 823.6,642 825.1,641.9 826.6,641.7 828.1,641.6 829.6,641.4 831.1,641.3 832.6,641.2 834.1,641 835.6,640.9 837.1,640.8 838.5,640.6 840,640.5 841.5,640.4 843,640.2 844.5,640.1 846,640 847.5,639.8 849,639.7 850.5,639.6 852,639.4 853.5,639.3 855,639.2 856.5,639 858,638.9 859.5,638.8 861,638.6 862.5,638.5 863.9,638.4 865.4,638.3 866.9,638.1 868.4,638 869.9,637.9 871.4,637.7 872.9,637.6 874.4,637.5 875.9,637.4 877.4,637.2 878.9,637.1 880.4,637 881.9,636.9 883.4,636.7 884.9,636.6 886.4,636.5 887.9,636.4 889.4,636.2 890.9,636.1 892.3,636 893.8,635.9 895.3,635.8 896.8,635.6 898.3,635.5 899.8,635.4 901.3,635.3 902.8,635.2 904.3,635 905.8,634.9 907.3,634.8 908.8,634.7 910.3,634.6 911.8,634.4 913.3,634.3 914.8,634.2 916.3,634.1 917.8,634 919.3,633.8 920.8,633.7 922.3,633.6 923.8,633.5 925.2,633.4 926.7,633.3 928.2,633.1 929.7,633 931.2,632.9 932.7,632.8 934.2,632.7 935.7,632.6 937.2,632.5 938.7,632.3 940.2,632.2 941.7,632.1 943.2,632 944.7,631.9 946.2,631.8 947.7,631.7 949.2,631.5 950.7,631.4 952.2,631.3 953.7,631.2 955.2,631.1 956.7,631 958.2,630.9 959.6,630.8 961.1,630.6 962.6,630.5 964.1,630.4 965.6,630.3 967.1,630.2 968.6,630.1 970.1,630 971.6,629.9 973.1,629.7 974.6,629.6 976.1,629.5 977.6,629.4 979.1,629.3 980.6,629.2 982.1,629.1 983.6,629 985.1,628.9 986.6,628.7 988.1,628.6 989.6,628.5 991.1,628.4 992.6,628.3 994.1,628.2 995.6,628.1 997,628 998.5,627.9 1000,627.8 1001.5,627.6 1003,627.5 1004.5,627.4 1006,627.3 1007.5,627.2 1009,627.1 1010.5,627 1012,626.9 1013.5,626.8 1015,626.6 1016.5,626.5 1018,626.4 1019.5,626.3 1021,626.2 1022.5,626.1 1024,626 1025.5,625.9 1027,625.8 1028.5,625.7 1030,625.5 1031.5,625.4 1033,625.3 1034.4,625.2 1035.9,625.1 1037.4,625 1038.9,624.9 1040.4,624.8 1041.9,624.7 1043.4,624.5 1044.9,624.4 1046.4,624.3 1047.9,624.2 1049.4,624.1 1050.9,624 1052.4,623.9 1053.9,623.8 1055.4,623.6 1056.9,623.5 1058.4,623.4 1059.9,623.3 1061.4,623.2 1062.9,623.1 1064,623" fill="none" stroke="#2FA865" stroke-width="4.8" stroke-linejoin="round" stroke-linecap="round"/>
</g>
<line x1="768.2" y1="68.9" x2="856.2" y2="68.9" stroke="#F0D38E" stroke-width="4.8"/>
<text x="864" y="83.6" text-anchor="start" font-size="47.5" textLength="65" lengthAdjust="spacingAndGlyphs">CN</text>
<line x1="768.2" y1="125" x2="856.2" y2="125" stroke="#2FA865" stroke-width="4.8"/>
<text x="864" y="139.7" text-anchor="start" font-size="47.5" textLength="147.5" lengthAdjust="spacingAndGlyphs">CNO-B</text>
<line x1="768.2" y1="181.1" x2="856.2" y2="181.1" stroke="#8A97FC" stroke-width="4.8"/>
<text x="864" y="195.8" text-anchor="start" font-size="47.5" textLength="100" lengthAdjust="spacingAndGlyphs">CNO</text>
<rect x="1351" y="20.5" width="978" height="790" fill="none" stroke="#000" stroke-width="5.6"/>
<line x1="1391.9" y1="810.5" x2="1391.9" y2="795.5" stroke="#000" stroke-width="4.5"/>
<text x="1391.9" y="863" text-anchor="middle" font-size="47.5" textLength="25" lengthAdjust="spacingAndGlyphs">0</text>
<line x1="1558.6" y1="810.5" x2="1558.6" y2="795.5" stroke="#000" stroke-width="4.5"/>
<text x="1558.6" y="863" text-anchor="middle" font-size="47.5" textLength="75.1" lengthAdjust="spacingAndGlyphs">800</text>
<line x1="1725.3" y1="810.5" x2="1725.3" y2="795.5" stroke="#000" stroke-width="4.5"/>
<text x="1725.3" y="863" text-anchor="middle" font-size="47.5" textLength="100.1" lengthAdjust="spacingAndGlyphs">1600</text>
<line x1="1891.9" y1="810.5" x2="1891.9" y2="795.5" stroke="#000" stroke-width="4.5"/>
<text x="1891.9" y="863" text-anchor="middle" font-size="47.5" textLength="100.1" lengthAdjust="spacingAndGlyphs">2400</text>
<line x1="2058.6" y1="810.5" x2="2058.6" y2="795.5" stroke="#000" stroke-width="4.5"/>
<text x="2058.6" y="863" text-anchor="middle" font-size="47.5" textLength="100.1" lengthAdjust="spacingAndGlyphs">3200</text>
<line x1="2225.3" y1="810.5" x2="2225.3" y2="795.5" stroke="#000" stroke-width="4.5"/>
<text x="2225.3" y="863" text-anchor="middle" font-size="47.5" textLength="100.1" lengthAdjust="spacingAndGlyphs">4000</text>
<line x1="1351" y1="759.7" x2="1366" y2="759.7" stroke="#000" stroke-width="4.5"/>
<text x="1335" y="773.1" text-anchor="end" font-size="47.5" textLength="25" lengthAdjust="spacingAndGlyphs">0</text>
<line x1="1351" y1="625.3" x2="1366" y2="625.3" stroke="#000" stroke-width="4.5"/>
<text x="1335" y="638.7" text-anchor="end" font-size="47.5" textLength="75.1" lengthAdjust="spacingAndGlyphs">400</text>
<line x1="1351" y1="490.9" x2="1366" y2="490.9" stroke="#000" stroke-width="4.5"/>
<text x="1335" y="504.3" text-anchor="end" font-size="47.5" textLength="75.1" lengthAdjust="spacingAndGlyphs">800</text>
<line x1="1351" y1="356.6" x2="1366" y2="356.6" stroke="#000" stroke-width="4.5"/>
<text x="1335" y="370" text-anchor="end" font-size="47.5" textLength="100.1" lengthAdjust="spacingAndGlyphs">1200</text>
<line x1="1351" y1="222.2" x2="1366" y2="222.2" stroke="#000" stroke-width="4.5"/>
<text x="1335" y="235.6" text-anchor="end" font-size="47.5" textLength="100.1" lengthAdjust="spacingAndGlyphs">1600</text>
<line x1="1351" y1="87.8" x2="1366" y2="87.8" stroke="#000" stroke-width="4.5"/>
<text x="1335" y="101.2" text-anchor="end" font-size="47.5" textLength="100.1" lengthAdjust="spacingAndGlyphs">2000</text>
<text x="1840" y="909.2" text-anchor="middle" font-size="47.5" textLength="145.7" lengthAdjust="spacingAndGlyphs">Z'/ohm</text>
<text x="1217" y="415" text-anchor="middle" font-size="47.5" textLength="182.6" lengthAdjust="spacingAndGlyphs" transform="rotate(-90 1217 415)">−Z"/ohm</text>
<text x="1379" y="82.5" text-anchor="start" font-size="47.5" textLength="27.5" lengthAdjust="spacingAndGlyphs">b</text>
<polyline points="1399.5,759 1403.6,744 1407.6,729 1411.7,714 1415.8,699 1419.6,685 1423,663 1427.5,641 1432,613 1438.8,580 1449,540 1464.3,492.2 1484.3,438 1514.6,373.4 1555.8,307 1610.6,242.3 1680,187.5 1759.6,152.1 1847.3,144.3 1932.2,167.5 2009.5,216.9 2073.8,284.9 2122.3,360.3 2157.7,433.2 2180,502.1 2195.3,562.1" fill="none" stroke="#F0D38E" stroke-width="4.2" stroke-linejoin="round" stroke-linecap="round"/>
<rect x="1391" y="750.5" width="17" height="17" fill="#F0D38E"/>
<rect x="1395.1" y="735.5" width="17" height="17" fill="#F0D38E"/>
<rect x="1399.1" y="720.5" width="17" height="17" fill="#F0D38E"/>
<rect x="1403.2" y="705.5" width="17" height="17" fill="#F0D38E"/>
<rect x="1407.3" y="690.5" width="17" height="17" fill="#F0D38E"/>
<rect x="1411.1" y="676.5" width="17" height="17" fill="#F0D38E"/>
<rect x="1414.5" y="654.5" width="17" height="17" fill="#F0D38E"/>
<rect x="1419" y="632.5" width="17" height="17" fill="#F0D38E"/>
<rect x="1423.5" y="604.5" width="17" height="17" fill="#F0D38E"/>
<rect x="1430.3" y="571.5" width="17" height="17" fill="#F0D38E"/>
<rect x="1440.5" y="531.5" width="17" height="17" fill="#F0D38E"/>
<rect x="1455.8" y="483.7" width="17" height="17" fill="#F0D38E"/>
<rect x="1475.8" y="429.5" width="17" height="17" fill="#F0D38E"/>
<rect x="1506.1" y="364.9" width="17" height="17" fill="#F0D38E"/>
<rect x="1547.3" y="298.5" width="17" height="17" fill="#F0D38E"/>
<rect x="1602.1" y="233.8" width="17" height="17" fill="#F0D38E"/>
<rect x="1671.5" y="179" width="17" height="17" fill="#F0D38E"/>
<rect x="1751.1" y="143.6" width="17" height="17" fill="#F0D38E"/>
<rect x="1838.8" y="135.8" width="17" height="17" fill="#F0D38E"/>
<rect x="1923.7" y="159" width="17" height="17" fill="#F0D38E"/>
<rect x="2001" y="208.4" width="17" height="17" fill="#F0D38E"/>
<rect x="2065.3" y="276.4" width="17" height="17" fill="#F0D38E"/>
<rect x="2113.8" y="351.8" width="17" height="17" fill="#F0D38E"/>
<rect x="2149.2" y="424.7" width="17" height="17" fill="#F0D38E"/>
<rect x="2171.5" y="493.6" width="17" height="17" fill="#F0D38E"/>
<rect x="2186.8" y="553.6" width="17" height="17" fill="#F0D38E"/>
<polyline points="1397,759 1400.1,748 1404,734 1408.3,718 1412.3,703 1416.9,686 1420.5,668 1425,648 1430.5,619 1438.5,587.2 1451.7,555.5 1471.4,517 1494.1,474.4 1523.9,429 1563.5,387.8 1610.6,347.8 1664.6,316.3 1727,299.3 1782.2,305.1 1834.1,328.9 1876,365.7 1915.5,408.6 1943,454.4 1963,498.7 1974.1,536.9 1985,570.5 1994.6,601.2 1999.7,627.7 1998.7,648.3" fill="none" stroke="#8A97FC" stroke-width="4.2" stroke-linejoin="round" stroke-linecap="round"/>
<circle cx="1397" cy="759" r="8.8" fill="#8A97FC"/>
<circle cx="1400.1" cy="748" r="8.8" fill="#8A97FC"/>
<circle cx="1404" cy="734" r="8.8" fill="#8A97FC"/>
<circle cx="1408.3" cy="718" r="8.8" fill="#8A97FC"/>
<circle cx="1412.3" cy="703" r="8.8" fill="#8A97FC"/>
<circle cx="1416.9" cy="686" r="8.8" fill="#8A97FC"/>
<circle cx="1420.5" cy="668" r="8.8" fill="#8A97FC"/>
<circle cx="1425" cy="648" r="8.8" fill="#8A97FC"/>
<circle cx="1430.5" cy="619" r="8.8" fill="#8A97FC"/>
<circle cx="1438.5" cy="587.2" r="8.8" fill="#8A97FC"/>
<circle cx="1451.7" cy="555.5" r="8.8" fill="#8A97FC"/>
<circle cx="1471.4" cy="517" r="8.8" fill="#8A97FC"/>
<circle cx="1494.1" cy="474.4" r="8.8" fill="#8A97FC"/>
<circle cx="1523.9" cy="429" r="8.8" fill="#8A97FC"/>
<circle cx="1563.5" cy="387.8" r="8.8" fill="#8A97FC"/>
<circle cx="1610.6" cy="347.8" r="8.8" fill="#8A97FC"/>
<circle cx="1664.6" cy="316.3" r="8.8" fill="#8A97FC"/>
<circle cx="1727" cy="299.3" r="8.8" fill="#8A97FC"/>
<circle cx="1782.2" cy="305.1" r="8.8" fill="#8A97FC"/>
<circle cx="1834.1" cy="328.9" r="8.8" fill="#8A97FC"/>
<circle cx="1876" cy="365.7" r="8.8" fill="#8A97FC"/>
<circle cx="1915.5" cy="408.6" r="8.8" fill="#8A97FC"/>
<circle cx="1943" cy="454.4" r="8.8" fill="#8A97FC"/>
<circle cx="1963" cy="498.7" r="8.8" fill="#8A97FC"/>
<circle cx="1974.1" cy="536.9" r="8.8" fill="#8A97FC"/>
<circle cx="1985" cy="570.5" r="8.8" fill="#8A97FC"/>
<circle cx="1994.6" cy="601.2" r="8.8" fill="#8A97FC"/>
<circle cx="1999.7" cy="627.7" r="8.8" fill="#8A97FC"/>
<circle cx="1998.7" cy="648.3" r="8.8" fill="#8A97FC"/>
<polyline points="1395.5,759 1396.2,756 1396.9,753 1397.6,750 1398.4,747 1399.1,744 1399.8,741 1400.5,738 1401.2,735 1402.2,731 1403.1,727 1404.1,723 1405.5,717 1406.9,711 1408.6,704 1410.5,696 1412.6,687 1414.8,674 1419.4,657 1426,635 1434,613 1446.6,587 1461,559 1479.7,529.4 1502.2,502.2 1529,478.4 1558.9,461.8 1591.5,452 1625,449.4 1656.9,454.7 1686.9,468.2 1714.8,483.2 1739.6,500.9 1762.4,517.6" fill="none" stroke="#2FA865" stroke-width="4.2" stroke-linejoin="round" stroke-linecap="round"/>
<polygon points="1395.5,749.1 1385.8,767.1 1405.2,767.1" fill="#2FA865"/>
<polygon points="1396.2,746.1 1386.5,764.1 1406,764.1" fill="#2FA865"/>
<polygon points="1396.9,743.1 1387.2,761.1 1406.7,761.1" fill="#2FA865"/>
<polygon points="1397.6,740.1 1387.9,758.1 1407.4,758.1" fill="#2FA865"/>
<polygon points="1398.4,737.1 1388.6,755.1 1408.1,755.1" fill="#2FA865"/>
<polygon points="1399.1,734.1 1389.3,752.1 1408.8,752.1" fill="#2FA865"/>
<polygon points="1399.8,731.1 1390,749.1 1409.5,749.1" fill="#2FA865"/>
<polygon points="1400.5,728.1 1390.8,746.1 1410.2,746.1" fill="#2FA865"/>
<polygon points="1401.2,725.1 1391.5,743.1 1411,743.1" fill="#2FA865"/>
<polygon points="1402.2,721.1 1392.4,739.1 1411.9,739.1" fill="#2FA865"/>
<polygon points="1403.1,717.1 1393.4,735.1 1412.9,735.1" fill="#2FA865"/>
<polygon points="1404.1,713.1 1394.3,731.1 1413.8,731.1" fill="#2FA865"/>
<polygon points="1405.5,707.1 1395.8,725.1 1415.2,725.1" fill="#2FA865"/>
<polygon points="1406.9,701.1 1397.2,719.1 1416.7,719.1" fill="#2FA865"/>
<polygon points="1408.6,694.1 1398.8,712.1 1418.3,712.1" fill="#2FA865"/>
<polygon points="1410.5,686.1 1400.8,704.1 1420.2,704.1" fill="#2FA865"/>
<polygon points="1412.6,677.1 1402.9,695.1 1422.4,695.1" fill="#2FA865"/>
<polygon points="1414.8,664.1 1405,682.1 1424.5,682.1" fill="#2FA865"/>
<polygon points="1419.4,647.1 1409.7,665.1 1429.2,665.1" fill="#2FA865"/>
<polygon points="1426,625.1 1416.2,643.1 1435.8,643.1" fill="#2FA865"/>
<polygon points="1434,603.1 1424.2,621.1 1443.8,621.1" fill="#2FA865"/>
<polygon points="1446.6,577.1 1436.8,595.1 1456.3,595.1" fill="#2FA865"/>
<polygon points="1461,549.1 1451.2,567.1 1470.8,567.1" fill="#2FA865"/>
<polygon points="1479.7,519.5 1470,537.5 1489.5,537.5" fill="#2FA865"/>
<polygon points="1502.2,492.3 1492.5,510.3 1512,510.3" fill="#2FA865"/>
<polygon points="1529,468.5 1519.2,486.5 1538.8,486.5" fill="#2FA865"/>
<polygon points="1558.9,451.9 1549.2,469.9 1568.7,469.9" fill="#2FA865"/>
<polygon points="1591.5,442.1 1581.8,460.1 1601.2,460.1" fill="#2FA865"/>
<polygon points="1625,439.5 1615.2,457.5 1634.8,457.5" fill="#2FA865"/>
<polygon points="1656.9,444.8 1647.2,462.8 1666.7,462.8" fill="#2FA865"/>
<polygon points="1686.9,458.3 1677.2,476.3 1696.7,476.3" fill="#2FA865"/>
<polygon points="1714.8,473.3 1705,491.3 1724.5,491.3" fill="#2FA865"/>
<polygon points="1739.6,491 1729.8,509 1749.3,509" fill="#2FA865"/>
<polygon points="1762.4,507.7 1752.7,525.7 1772.2,525.7" fill="#2FA865"/>
<line x1="2056.1" y1="67" x2="2144.1" y2="67" stroke="#F0D38E" stroke-width="4.8"/>
<rect x="2091.6" y="58.5" width="17" height="17" fill="#F0D38E"/>
<text x="2152.8" y="81.5" text-anchor="start" font-size="47.5" textLength="65" lengthAdjust="spacingAndGlyphs">CN</text>
<line x1="2056.1" y1="123.2" x2="2144.1" y2="123.2" stroke="#8A97FC" stroke-width="4.8"/>
<circle cx="2100.1" cy="123.2" r="8.8" fill="#8A97FC"/>
<text x="2152.8" y="137.7" text-anchor="start" font-size="47.5" textLength="100" lengthAdjust="spacingAndGlyphs">CNO</text>
<line x1="2056.1" y1="179.4" x2="2144.1" y2="179.4" stroke="#2FA865" stroke-width="4.8"/>
<polygon points="2100.1,169.5 2090.3,187.5 2109.8,187.5" fill="#2FA865"/>
<text x="2152.8" y="193.9" text-anchor="start" font-size="47.5" textLength="147.5" lengthAdjust="spacingAndGlyphs">CNO-B</text>
<rect x="718.5" y="997.3" width="978.8" height="788.2" fill="none" stroke="#000" stroke-width="5.6"/>
<line x1="779.2" y1="1785.5" x2="779.2" y2="1770.5" stroke="#000" stroke-width="4.5"/>
<text x="779.2" y="1839" text-anchor="middle" font-size="47.5" textLength="50.1" lengthAdjust="spacingAndGlyphs">10</text>
<line x1="901.6" y1="1785.5" x2="901.6" y2="1770.5" stroke="#000" stroke-width="4.5"/>
<text x="901.6" y="1839" text-anchor="middle" font-size="47.5" textLength="50.1" lengthAdjust="spacingAndGlyphs">30</text>
<line x1="1024" y1="1785.5" x2="1024" y2="1770.5" stroke="#000" stroke-width="4.5"/>
<text x="1024" y="1839" text-anchor="middle" font-size="47.5" textLength="50.1" lengthAdjust="spacingAndGlyphs">50</text>
<line x1="1146.4" y1="1785.5" x2="1146.4" y2="1770.5" stroke="#000" stroke-width="4.5"/>
<text x="1146.4" y="1839" text-anchor="middle" font-size="47.5" textLength="50.1" lengthAdjust="spacingAndGlyphs">70</text>
<line x1="1268.8" y1="1785.5" x2="1268.8" y2="1770.5" stroke="#000" stroke-width="4.5"/>
<text x="1268.8" y="1839" text-anchor="middle" font-size="47.5" textLength="50.1" lengthAdjust="spacingAndGlyphs">90</text>
<line x1="1391.2" y1="1785.5" x2="1391.2" y2="1770.5" stroke="#000" stroke-width="4.5"/>
<text x="1391.2" y="1839" text-anchor="middle" font-size="47.5" textLength="72.6" lengthAdjust="spacingAndGlyphs">110</text>
<line x1="1513.6" y1="1785.5" x2="1513.6" y2="1770.5" stroke="#000" stroke-width="4.5"/>
<text x="1513.6" y="1839" text-anchor="middle" font-size="47.5" textLength="75.1" lengthAdjust="spacingAndGlyphs">130</text>
<line x1="1636" y1="1785.5" x2="1636" y2="1770.5" stroke="#000" stroke-width="4.5"/>
<text x="1636" y="1839" text-anchor="middle" font-size="47.5" textLength="75.1" lengthAdjust="spacingAndGlyphs">150</text>
<text x="702" y="1801.2" text-anchor="end" font-size="47.5" textLength="25" lengthAdjust="spacingAndGlyphs">0</text>
<line x1="718.5" y1="1642.3" x2="733.5" y2="1642.3" stroke="#000" stroke-width="4.5"/>
<text x="702" y="1657.4" text-anchor="end" font-size="47.5" textLength="25" lengthAdjust="spacingAndGlyphs">1</text>
<line x1="718.5" y1="1499.1" x2="733.5" y2="1499.1" stroke="#000" stroke-width="4.5"/>
<text x="702" y="1513.6" text-anchor="end" font-size="47.5" textLength="25" lengthAdjust="spacingAndGlyphs">2</text>
<line x1="718.5" y1="1355.9" x2="733.5" y2="1355.9" stroke="#000" stroke-width="4.5"/>
<text x="702" y="1369.9" text-anchor="end" font-size="47.5" textLength="25" lengthAdjust="spacingAndGlyphs">3</text>
<line x1="718.5" y1="1212.7" x2="733.5" y2="1212.7" stroke="#000" stroke-width="4.5"/>
<text x="702" y="1226.1" text-anchor="end" font-size="47.5" textLength="25" lengthAdjust="spacingAndGlyphs">4</text>
<line x1="718.5" y1="1069.5" x2="733.5" y2="1069.5" stroke="#000" stroke-width="4.5"/>
<text x="702" y="1082.3" text-anchor="end" font-size="47.5" textLength="25" lengthAdjust="spacingAndGlyphs">5</text>
<text x="1207.5" y="1884" text-anchor="middle" font-size="47.5" textLength="141.7" lengthAdjust="spacingAndGlyphs">Time/s</text>
<text x="658" y="1622.6" font-size="47.5" textLength="430.9" lengthAdjust="spacingAndGlyphs" transform="rotate(-90 658 1622.6)">Photocurrent/μA cm</text>
<text x="640" y="1191.6" font-size="31.7" textLength="34.2" lengthAdjust="spacingAndGlyphs" transform="rotate(-90 640 1191.6)">−2</text>
<text x="747.7" y="1058.5" text-anchor="start" font-size="47.5" textLength="25" lengthAdjust="spacingAndGlyphs">c</text>
<g clip-path="url(#cc)">
<polyline points="718,1678.1 718.2,1678.2 718.3,1678.4 718.5,1678.5 718.6,1678.6 718.8,1678.7 718.9,1678.9 719.1,1679 719.2,1679.1 719.4,1679.3 719.5,1679.4 719.7,1679.6 719.8,1679.7 720,1679.9 720.1,1680 720.3,1680.2 720.4,1680.3 720.6,1680.5 720.8,1680.6 720.9,1683 721.1,1683.7 721.5,1682.8 722,1684 722.5,1683 723,1683.3 723.5,1683.9 724,1687.5 724.5,1686.1 725,1686.6 725.5,1686.4 726,1689.3 726.4,1688.4 726.9,1689.7 727.4,1689.9 727.9,1688.2 728.4,1691.3 728.9,1691.1 729.4,1690.9 729.9,1693.3 730.4,1693 730.9,1693.1 731.3,1694 731.8,1696.3 732.3,1695.9 732.8,1694.9 733.3,1699.2 733.8,1697.6 734.3,1699.4 734.8,1700.9 735.3,1698.3 735.7,1700.8 736.2,1704.7 736.7,1703.8 737.2,1704.9 737.7,1706.8 738.2,1707 738.7,1708.8 739.2,1708.2 739.7,1708.1 740.2,1711.2 740.6,1711.6 741.1,1712.8 741.6,1713.3 742.1,1715.9 742.6,1715.8 743.1,1716 743.6,1715.3 744.1,1715.6 744.6,1718.5 745.1,1718.3 745.5,1717.3 746,1720.4 746.5,1718.8 747,1718.9 747.5,1717.9 748,1719.3 748.5,1720.7 749,1720.8 749.5,1720.3 749.9,1718.8 750.4,1721.3 750.9,1721.2 751.4,1721.2 751.9,1721.9 752.4,1722.7 752.9,1723.6 753.4,1722.3 753.9,1722.2 754.4,1720.8 754.8,1721.5 755.3,1722.4 755.8,1722 756.3,1724.1 756.8,1723.7 757.3,1724.6 757.8,1724.6 758.3,1727.2 758.8,1725.8 759.2,1727.7 759.7,1728.4 760.2,1727.7 760.7,1729 761.2,1728.9 761.7,1727.8 762.2,1732.4 762.7,1732.1 763.2,1730.9 763.7,1731.2 764.1,1732.1 764.6,1731.1 765.1,1730.3 765.6,1731.3 766.1,1733.6 766.6,1732.5 767.1,1732.2 767.6,1734.1 768.1,1732.9 768.6,1735 769,1733 769.5,1734.5 770,1734.9 770.5,1736.6 771,1736.5 771.5,1738.7 772,1738.6 772.5,1736.4 773,1739.4 773.4,1736 773.9,1739 774.4,1736.2 774.9,1738.7 775.4,1737.5 775.9,1739 776.4,1741 776.9,1738.5 777.4,1738.7 777.9,1739.9 778.3,1740.1 778.8,1740 779.2,1740 779.4,1578.2 779.5,1462.1 779.7,1383.2 779.8,1334.2 780,1309.5 780.1,1295.2 780.3,1284.6 780.4,1276.4 780.6,1270 780.7,1264.6 780.9,1259.9 781,1255.7 781.2,1251.8 781.3,1248.2 781.5,1245.1 781.6,1242.2 781.8,1239.5 782,1237.1 782.1,1235.9 782.3,1231.6 782.7,1224.6 783.2,1222.1 783.7,1218.4 784.2,1215.6 784.7,1212.9 785.2,1213.2 785.7,1209.3 786.2,1208 786.7,1204.1 787.2,1204.7 787.6,1201.8 788.1,1199.4 788.6,1200.6 789.1,1200.3 789.6,1198.3 790.1,1197.7 790.6,1199 791.1,1197.3 791.6,1195 792.1,1197.6 792.5,1196.9 793,1198.3 793.5,1195.9 794,1197.3 794.5,1197.3 795,1194.7 795.5,1197.4 796,1193.7 796.5,1192.6 796.9,1194 797.4,1193.1 797.9,1190 798.4,1193.4 798.9,1194.1 799.4,1194.8 799.9,1192.4 800.4,1189.7 800.9,1190.1 801.4,1191.3 801.8,1190.9 802.3,1190.2 802.8,1189.5 803.3,1190.6 803.8,1190 804.3,1189.1 804.8,1189.9 805.3,1189.8 805.8,1189.1 806.3,1188.9 806.7,1188.3 807.2,1186.6 807.7,1188.4 808.2,1189.1 808.7,1191.4 809.2,1188.8 809.7,1191.3 810.2,1191.6 810.7,1188.5 811.1,1188.5 811.6,1189.6 812.1,1192.4 812.6,1190.6 813.1,1190.2 813.6,1187.9 814.1,1186 814.6,1188 815.1,1188.8 815.6,1189.2 816,1188.2 816.5,1188.7 817,1189.7 817.5,1188.6 818,1189.8 818.5,1187.1 819,1187.1 819.5,1186.7 820,1188.9 820.4,1187 820.9,1188.2 821.4,1188.8 821.9,1187.9 822.4,1188.3 822.9,1187.7 823.4,1185 823.9,1186 824.4,1184.7 824.9,1184.1 825.3,1188.7 825.8,1188.1 826.3,1186.7 826.8,1186.8 827.3,1188.8 827.8,1187.5 828.3,1187.9 828.8,1190 829.3,1189.8 829.8,1187.2 830.2,1186.8 830.7,1189.4 831.2,1185.3 831.7,1186.2 832.2,1185.3 832.7,1188 833.2,1187.6 833.7,1188.6 834.2,1184.2 834.6,1187.5 835.1,1185.2 835.6,1187.4 836.1,1187.3 836.6,1190 837.1,1188.2 837.6,1185.3 838.1,1187.8 838.6,1185 839.1,1185.1 839.5,1185.8 840,1185 840.5,1186 841,1185.3 841.5,1185.7 842,1186 842.5,1186.2 843,1186.4 843.5,1185.9 843.9,1184.5 844.4,1183.2 844.9,1187.3 845.4,1184.8 845.9,1186.4 846.4,1187.2 846.9,1184.8 847.4,1186.9 847.9,1184.1 848.4,1187.1 848.8,1185.8 849.3,1186.8 849.8,1187.9 850.3,1186.1 850.8,1187.2 851.3,1185.9 851.8,1186.4 852.3,1187.2 852.8,1184.9 853.3,1184.6 853.7,1183.2 854.2,1186.3 854.7,1185.6 855.2,1188.3 855.7,1185.9 856.2,1188.8 856.7,1189 857.2,1186.9 857.7,1184.8 858.1,1188 858.6,1187.6 859.1,1186.4 859.6,1187.2 860.1,1184.9 860.6,1187.1 861.1,1186.9 861.6,1184.4 862.1,1185.4 862.6,1183.2 863,1184.5 863.5,1184.4 864,1184.6 864.5,1180.5 865,1184 865.5,1183.8 866,1184.3 866.5,1183.9 867,1184.6 867.5,1182.5 867.9,1186.3 868.4,1186 868.9,1185.4 869.4,1185.7 869.9,1182.7 870.4,1181.9 870.9,1184.4 871.4,1185.8 871.9,1184.1 872.3,1181.6 872.8,1187.1 873.3,1182.4 873.8,1184.3 874.3,1181.4 874.8,1184.6 875.3,1183.1 875.8,1185.3 876.3,1185.3 876.8,1182.2 877.2,1182.6 877.7,1183.8 878.2,1184.3 878.7,1185.5 879.2,1183 879.7,1182.3 880.2,1182.8 880.7,1182.8 881.2,1184.8 881.6,1183.6 882.1,1183.8 882.6,1182.5 883.1,1181.6 883.6,1184.2 884.1,1184.5 884.6,1182.2 885.1,1182.8 885.6,1182.9 886.1,1182 886.5,1183.6 887,1181.9 887.5,1183.1 888,1182.8 888.5,1183.4 889,1183.5 889.5,1183.4 890,1181.8 890.5,1182.2 891,1180.5 891.4,1179.9 891.9,1181.3 892.4,1179 892.9,1180.6 893.4,1179.3 893.9,1179.3 894.4,1181.4 894.9,1178.8 895.4,1178.5 895.8,1179.2 896.3,1178.7 896.8,1177.8 897.3,1178.6 897.8,1177.8 898.3,1178 898.8,1176.4 899.3,1178.5 899.8,1176.4 900.3,1175.9 900.7,1175.2 901.2,1175.4 901.6,1174 901.8,1299.4 901.9,1392.7 902.1,1460.5 902.2,1507.9 902.4,1538.9 902.5,1556.4 902.7,1566.5 902.8,1574.2 903,1580.3 903.1,1585.3 903.3,1589.5 903.4,1593.1 903.6,1596.3 903.7,1599.3 903.9,1602.2 904,1605.1 904.2,1607.8 904.4,1610.4 904.5,1613.5 904.7,1613.9 905.1,1622.2 905.6,1627.8 906.1,1631.8 906.6,1633.1 907.1,1637.8 907.6,1639.9 908.1,1643.6 908.6,1644.6 909.1,1647.8 909.6,1648.9 910,1647.9 910.5,1651.3 911,1654.8 911.5,1655.4 912,1656.2 912.5,1656 913,1658.9 913.5,1661.6 914,1660 914.5,1660.8 914.9,1662.3 915.4,1662.1 915.9,1663.4 916.4,1663.5 916.9,1667.5 917.4,1666.5 917.9,1666.2 918.4,1669.6 918.9,1672.6 919.3,1674.3 919.8,1674 920.3,1678.5 920.8,1678.9 921.3,1678.4 921.8,1679.2 922.3,1681.7 922.8,1681.7 923.3,1683.2 923.8,1683.5 924.2,1685.7 924.7,1687.8 925.2,1687.9 925.7,1688 926.2,1691 926.7,1691.3 927.2,1691.3 927.7,1694 928.2,1692.8 928.7,1694.5 929.1,1693 929.6,1692.5 930.1,1693.7 930.6,1697.2 931.1,1696.2 931.6,1698.4 932.1,1698.9 932.6,1697.7 933.1,1701.1 933.5,1698.7 934,1701 934.5,1699.1 935,1700.9 935.5,1703.1 936,1702.3 936.5,1702.2 937,1703.6 937.5,1703.4 938,1704.8 938.4,1706.2 938.9,1703.1 939.4,1703.2 939.9,1703.6 940.4,1703.8 940.9,1702.8 941.4,1705.2 941.9,1705.7 942.4,1705.4 942.8,1705 943.3,1708.6 943.8,1706.5 944.3,1709 944.8,1710.3 945.3,1708.5 945.8,1709.9 946.3,1711.4 946.8,1710.1 947.3,1708.8 947.7,1708.3 948.2,1710.4 948.7,1709.6 949.2,1709.9 949.7,1711.9 950.2,1710.4 950.7,1711.1 951.2,1712.2 951.7,1712.8 952.2,1712.8 952.6,1713.7 953.1,1714.8 953.6,1714.8 954.1,1713.3 954.6,1714.2 955.1,1712.8 955.6,1712.4 956.1,1714.1 956.6,1712.6 957,1715.8 957.5,1714.2 958,1715.8 958.5,1713.1 959,1713 959.5,1716.9 960,1715.9 960.5,1715 961,1715.5 961.5,1716.2 961.9,1717.9 962.4,1717.7 962.9,1718.1 963.4,1719 963.9,1717.5 964.4,1721.5 964.9,1718.2 965.4,1720.4 965.9,1717.9 966.3,1719.1 966.8,1721.4 967.3,1720.6 967.8,1722.6 968.3,1723.5 968.8,1724.8 969.3,1723 969.8,1722 970.3,1721.9 970.8,1722.7 971.2,1721.4 971.7,1723.3 972.2,1724 972.7,1723.2 973.2,1722.8 973.7,1725 974.2,1725.2 974.7,1725.3 975.2,1725.3 975.7,1726.6 976.1,1724.6 976.6,1726.6 977.1,1725.7 977.6,1726.3 978.1,1725.5 978.6,1725.5 979.1,1726.5 979.6,1724 980.1,1725.9 980.5,1725.2 981,1725.7 981.5,1728.2 982,1728.3 982.5,1727.7 983,1728.5 983.5,1728.8 984,1729.4 984.5,1731.4 985,1729.2 985.4,1731.1 985.9,1728.5 986.4,1730.6 986.9,1731.7 987.4,1731.9 987.9,1731.4 988.4,1734.3 988.9,1734.6 989.4,1733.4 989.9,1733.8 990.3,1732 990.8,1729.8 991.3,1732.9 991.8,1731.5 992.3,1734.2 992.8,1733.2 993.3,1734.4 993.8,1733.8 994.3,1733.7 994.7,1732.5 995.2,1734.9 995.7,1734.9 996.2,1736.1 996.7,1735.1 997.2,1735.4 997.7,1735 998.2,1735.6 998.7,1733.9 999.2,1738.5 999.6,1736.7 1000.1,1736.6 1000.6,1737.9 1001.1,1738.9 1001.6,1737.8 1002.1,1739.4 1002.6,1737.8 1003.1,1735 1003.6,1736 1004,1738.3 1004.5,1738.7 1005,1738.5 1005.5,1737.6 1006,1739.2 1006.5,1738.8 1007,1737.5 1007.5,1737.4 1008,1738.7 1008.5,1739.6 1008.9,1740.1 1009.4,1740.6 1009.9,1742.8 1010.4,1739.9 1010.9,1741.5 1011.4,1740 1011.9,1738.9 1012.4,1739.7 1012.9,1742.9 1013.4,1740.8 1013.8,1741.1 1014.3,1744.1 1014.8,1745 1015.3,1744.1 1015.8,1746.2 1016.3,1743.3 1016.8,1748.2 1017.3,1746.4 1017.8,1745.1 1018.2,1744.4 1018.7,1744 1019.2,1743.9 1019.7,1743.8 1020.2,1742.5 1020.7,1746.7 1021.2,1744.5 1021.7,1745.1 1022.2,1744.5 1022.7,1745.2 1023.1,1746.5 1023.6,1746.2 1024,1745.4 1024.2,1585.3 1024.3,1470.6 1024.5,1393.3 1024.6,1346.5 1024.8,1324.3 1024.9,1312.1 1025.1,1302.9 1025.2,1295.9 1025.4,1290.5 1025.5,1286.2 1025.7,1282.8 1025.8,1280 1026,1277.6 1026.1,1275.5 1026.3,1273.6 1026.4,1271.9 1026.6,1270.4 1026.8,1269 1026.9,1267.7 1027.1,1268.2 1027.5,1267.3 1028,1258.4 1028.5,1258 1029,1255.5 1029.5,1257.2 1030,1252.5 1030.5,1250.7 1031,1249.3 1031.5,1250.2 1032,1250.1 1032.4,1247.4 1032.9,1248.4 1033.4,1247.1 1033.9,1243.3 1034.4,1243.2 1034.9,1241.2 1035.4,1240 1035.9,1237.7 1036.4,1238 1036.9,1239.9 1037.3,1238.2 1037.8,1240 1038.3,1239.4 1038.8,1236.8 1039.3,1239.2 1039.8,1237 1040.3,1238.3 1040.8,1236.2 1041.3,1234 1041.7,1237.1 1042.2,1235.3 1042.7,1237 1043.2,1236.6 1043.7,1236 1044.2,1232.1 1044.7,1230.7 1045.2,1232.7 1045.7,1233.9 1046.2,1231.8 1046.6,1233.8 1047.1,1232 1047.6,1232.3 1048.1,1232.2 1048.6,1231.2 1049.1,1232.3 1049.6,1231.1 1050.1,1232.7 1050.6,1230.7 1051.1,1231.1 1051.5,1229 1052,1230.3 1052.5,1228.4 1053,1228.1 1053.5,1230.3 1054,1230.2 1054.5,1230.7 1055,1228.1 1055.5,1227.7 1055.9,1228.5 1056.4,1229.7 1056.9,1226.9 1057.4,1231.1 1057.9,1227.5 1058.4,1229.4 1058.9,1232.4 1059.4,1225.5 1059.9,1227.6 1060.4,1229.7 1060.8,1228.2 1061.3,1228.5 1061.8,1228.3 1062.3,1229.9 1062.8,1228 1063.3,1226.4 1063.8,1226.6 1064.3,1225.8 1064.8,1225.6 1065.2,1223.1 1065.7,1227 1066.2,1226 1066.7,1228.6 1067.2,1227 1067.7,1223.8 1068.2,1226.5 1068.7,1224.8 1069.2,1224.9 1069.7,1225.3 1070.1,1224.4 1070.6,1224.7 1071.1,1224.5 1071.6,1222.3 1072.1,1223.2 1072.6,1225.5 1073.1,1225.7 1073.6,1224.7 1074.1,1223.9 1074.6,1222.3 1075,1219.8 1075.5,1221.2 1076,1221.9 1076.5,1221.6 1077,1223.5 1077.5,1223.3 1078,1222.6 1078.5,1222.2 1079,1223 1079.4,1221.2 1079.9,1222 1080.4,1222.2 1080.9,1223.9 1081.4,1220.3 1081.9,1221.2 1082.4,1219.8 1082.9,1220.6 1083.4,1219 1083.9,1221.5 1084.3,1219.7 1084.8,1216.8 1085.3,1221.6 1085.8,1218.5 1086.3,1218.1 1086.8,1219.4 1087.3,1218.7 1087.8,1218.6 1088.3,1221.9 1088.7,1220.4 1089.2,1222 1089.7,1221.4 1090.2,1222 1090.7,1221.4 1091.2,1220.5 1091.7,1220.5 1092.2,1222.5 1092.7,1218.6 1093.2,1218.8 1093.6,1219.2 1094.1,1220.5 1094.6,1219.7 1095.1,1218.9 1095.6,1218.7 1096.1,1221 1096.6,1217.6 1097.1,1214.2 1097.6,1220.5 1098.1,1216.2 1098.5,1216.5 1099,1217.4 1099.5,1215.3 1100,1218.2 1100.5,1216.7 1101,1215.5 1101.5,1216.8 1102,1217.3 1102.5,1216.2 1102.9,1216.4 1103.4,1213.4 1103.9,1216.7 1104.4,1214.6 1104.9,1217.9 1105.4,1214.9 1105.9,1216.2 1106.4,1219.7 1106.9,1216.2 1107.4,1217.7 1107.8,1216.4 1108.3,1214.5 1108.8,1218.1 1109.3,1218.5 1109.8,1215 1110.3,1216.9 1110.8,1215 1111.3,1216.1 1111.8,1218.3 1112.3,1216.2 1112.7,1214.3 1113.2,1214.7 1113.7,1216.3 1114.2,1216.6 1114.7,1216.2 1115.2,1217.3 1115.7,1213.8 1116.2,1215.7 1116.7,1216.3 1117.1,1214.4 1117.6,1213 1118.1,1213 1118.6,1213.6 1119.1,1214.5 1119.6,1213.5 1120.1,1216.2 1120.6,1215.1 1121.1,1211.6 1121.6,1213.3 1122,1212 1122.5,1211.1 1123,1211.7 1123.5,1212.8 1124,1209.8 1124.5,1212.1 1125,1212.9 1125.5,1211.6 1126,1211.7 1126.4,1213.4 1126.9,1212.5 1127.4,1211.8 1127.9,1214.8 1128.4,1212.8 1128.9,1213.4 1129.4,1213.6 1129.9,1214.3 1130.4,1213.1 1130.9,1212.2 1131.3,1211.8 1131.8,1212.9 1132.3,1210.2 1132.8,1212.6 1133.3,1211.5 1133.8,1209.5 1134.3,1211.6 1134.8,1211.7 1135.3,1209.8 1135.8,1212.3 1136.2,1212.7 1136.7,1211.9 1137.2,1210.6 1137.7,1214.6 1138.2,1213.1 1138.7,1212.6 1139.2,1211.7 1139.7,1211.2 1140.2,1210.7 1140.6,1209.1 1141.1,1209.8 1141.6,1209 1142.1,1208.6 1142.6,1210.4 1143.1,1209.6 1143.6,1206.9 1144.1,1208.7 1144.6,1209.7 1145.1,1208.8 1145.5,1209.6 1146,1208.1 1146.4,1208.4 1146.6,1325.1 1146.7,1412.1 1146.9,1475.9 1147,1521.3 1147.2,1552 1147.3,1570.7 1147.5,1582.7 1147.6,1592.4 1147.8,1600.2 1147.9,1606.7 1148.1,1612 1148.2,1616.6 1148.4,1620.5 1148.5,1623.8 1148.7,1626.8 1148.8,1629.4 1149,1631.8 1149.2,1634 1149.3,1636.4 1149.5,1637.5 1149.9,1644.7 1150.4,1647.8 1150.9,1651.7 1151.4,1652.2 1151.9,1654.9 1152.4,1657.6 1152.9,1660.9 1153.4,1662.2 1153.9,1664.1 1154.4,1664.9 1154.8,1664.8 1155.3,1670 1155.8,1669.3 1156.3,1670.6 1156.8,1671.1 1157.3,1673.1 1157.8,1673.2 1158.3,1675 1158.8,1674.3 1159.3,1675.4 1159.7,1676.1 1160.2,1675.9 1160.7,1677.2 1161.2,1680.1 1161.7,1677.6 1162.2,1679.3 1162.7,1681.4 1163.2,1680.6 1163.7,1681.5 1164.1,1684.3 1164.6,1685.1 1165.1,1682.7 1165.6,1683.2 1166.1,1686.7 1166.6,1687.7 1167.1,1686.9 1167.6,1687 1168.1,1689 1168.6,1687.8 1169,1689.2 1169.5,1688.7 1170,1687.1 1170.5,1689.3 1171,1688.8 1171.5,1687.8 1172,1688.7 1172.5,1690.6 1173,1690.2 1173.5,1691.4 1173.9,1688.5 1174.4,1690.3 1174.9,1691.9 1175.4,1691.8 1175.9,1691.4 1176.4,1692.2 1176.9,1691.5 1177.4,1692.6 1177.9,1695.8 1178.3,1695.6 1178.8,1698.2 1179.3,1697 1179.8,1696.8 1180.3,1693.6 1180.8,1696.7 1181.3,1698.9 1181.8,1697.3 1182.3,1696.5 1182.8,1698.8 1183.2,1699.6 1183.7,1699.9 1184.2,1699.8 1184.7,1700.7 1185.2,1702.2 1185.7,1700.6 1186.2,1702.2 1186.7,1701.9 1187.2,1703.3 1187.6,1702.9 1188.1,1701.2 1188.6,1704.3 1189.1,1703 1189.6,1702.9 1190.1,1704.2 1190.6,1703.6 1191.1,1705.1 1191.6,1703.1 1192.1,1703.6 1192.5,1704.9 1193,1707.7 1193.5,1707.5 1194,1706.1 1194.5,1704.8 1195,1706.5 1195.5,1706 1196,1708.1 1196.5,1707.5 1197,1707.6 1197.4,1707.4 1197.9,1710.2 1198.4,1706.9 1198.9,1707.3 1199.4,1711 1199.9,1711.5 1200.4,1710.3 1200.9,1711.5 1201.4,1714.1 1201.8,1710.6 1202.3,1711.6 1202.8,1713.7 1203.3,1710.7 1203.8,1713.9 1204.3,1715.2 1204.8,1714.2 1205.3,1715.5 1205.8,1714.4 1206.3,1713.5 1206.7,1714.3 1207.2,1714.7 1207.7,1713.1 1208.2,1714.7 1208.7,1714.5 1209.2,1715.1 1209.7,1715 1210.2,1714.1 1210.7,1715.9 1211.1,1713.7 1211.6,1717.5 1212.1,1716.7 1212.6,1718.5 1213.1,1717.7 1213.6,1717.2 1214.1,1715.8 1214.6,1718.8 1215.1,1718.6 1215.6,1718.9 1216,1719.1 1216.5,1719.5 1217,1718.9 1217.5,1720.4 1218,1718.3 1218.5,1719 1219,1720.4 1219.5,1721.7 1220,1722.7 1220.5,1719.8 1220.9,1723.8 1221.4,1720.9 1221.9,1722.6 1222.4,1724 1222.9,1724.8 1223.4,1723.1 1223.9,1722.4 1224.4,1725.3 1224.9,1723.5 1225.3,1721.5 1225.8,1722.6 1226.3,1720.7 1226.8,1725.3 1227.3,1724.8 1227.8,1728.1 1228.3,1724.4 1228.8,1727.6 1229.3,1729.1 1229.8,1725.7 1230.2,1725.6 1230.7,1722.9 1231.2,1726.4 1231.7,1726.6 1232.2,1726.8 1232.7,1725.4 1233.2,1727.3 1233.7,1726.5 1234.2,1727.4 1234.7,1728.4 1235.1,1727.8 1235.6,1728.6 1236.1,1730.4 1236.6,1728.2 1237.1,1731.2 1237.6,1728.3 1238.1,1728.6 1238.6,1730.2 1239.1,1731.2 1239.5,1731.1 1240,1730.1 1240.5,1730.4 1241,1731.2 1241.5,1730.6 1242,1733.1 1242.5,1732 1243,1734.9 1243.5,1732.1 1244,1733 1244.4,1734.3 1244.9,1732.6 1245.4,1733.8 1245.9,1738 1246.4,1735.5 1246.9,1737.4 1247.4,1734.3 1247.9,1732.5 1248.4,1736.2 1248.8,1735.4 1249.3,1735.9 1249.8,1735.7 1250.3,1735.3 1250.8,1734.9 1251.3,1737.8 1251.8,1735.5 1252.3,1738.4 1252.8,1737.1 1253.3,1736.6 1253.7,1737.6 1254.2,1739.5 1254.7,1738.3 1255.2,1738.5 1255.7,1738.2 1256.2,1736.9 1256.7,1740.6 1257.2,1738.9 1257.7,1740 1258.2,1739.8 1258.6,1740.4 1259.1,1739.8 1259.6,1740.5 1260.1,1740.3 1260.6,1740.9 1261.1,1740.3 1261.6,1745.2 1262.1,1741.6 1262.6,1743.4 1263,1743.2 1263.5,1743.9 1264,1745.2 1264.5,1743 1265,1743.3 1265.5,1741.9 1266,1744.8 1266.5,1742 1267,1743.7 1267.5,1745 1267.9,1746 1268.4,1746.9 1268.8,1746.8 1269,1591.1 1269.1,1479.6 1269.3,1404.6 1269.4,1359.7 1269.6,1338.9 1269.7,1327.6 1269.9,1319 1270,1312.5 1270.2,1307.5 1270.3,1303.7 1270.5,1300.8 1270.6,1298.6 1270.8,1296.9 1270.9,1295.4 1271.1,1294.1 1271.2,1293 1271.4,1292 1271.6,1291.1 1271.7,1291.5 1271.9,1288.4 1272.3,1287 1272.8,1285.6 1273.3,1287.3 1273.8,1284.9 1274.3,1284 1274.8,1282.3 1275.3,1281.7 1275.8,1278.3 1276.3,1277.7 1276.8,1276.1 1277.2,1275.2 1277.7,1274 1278.2,1274.7 1278.7,1272.4 1279.2,1272.5 1279.7,1272.2 1280.2,1271.6 1280.7,1269.9 1281.2,1268.5 1281.7,1267.5 1282.1,1267.5 1282.6,1266 1283.1,1265.9 1283.6,1263.9 1284.1,1264.8 1284.6,1266.1 1285.1,1261.5 1285.6,1262.2 1286.1,1262.7 1286.5,1260.2 1287,1260.8 1287.5,1256.8 1288,1258 1288.5,1260.4 1289,1258 1289.5,1259 1290,1255.5 1290.5,1259.3 1291,1260 1291.4,1257 1291.9,1257.4 1292.4,1257 1292.9,1258.5 1293.4,1254.7 1293.9,1253.6 1294.4,1256.9 1294.9,1252.4 1295.4,1253.9 1295.9,1250.7 1296.3,1253 1296.8,1253.1 1297.3,1252.2 1297.8,1253 1298.3,1254.2 1298.8,1252.1 1299.3,1253.6 1299.8,1254.5 1300.3,1248.8 1300.7,1250.9 1301.2,1251.6 1301.7,1250.1 1302.2,1251.5 1302.7,1251.6 1303.2,1250.9 1303.7,1250.7 1304.2,1249 1304.7,1247.9 1305.2,1250.8 1305.6,1249.7 1306.1,1249.5 1306.6,1251.6 1307.1,1250.2 1307.6,1251 1308.1,1247.8 1308.6,1247.8 1309.1,1248.1 1309.6,1249.5 1310,1247.9 1310.5,1247.9 1311,1245.4 1311.5,1246.5 1312,1247.2 1312.5,1245 1313,1245.4 1313.5,1247.9 1314,1246.1 1314.5,1247.1 1314.9,1246.8 1315.4,1246.2 1315.9,1247 1316.4,1246.6 1316.9,1245.9 1317.4,1244 1317.9,1243.4 1318.4,1245.3 1318.9,1242.1 1319.4,1243.5 1319.8,1242.9 1320.3,1242.8 1320.8,1244.2 1321.3,1241 1321.8,1243.5 1322.3,1245.1 1322.8,1241.7 1323.3,1243.2 1323.8,1242.7 1324.2,1246.4 1324.7,1241.6 1325.2,1241.7 1325.7,1242 1326.2,1241.8 1326.7,1240.6 1327.2,1242.3 1327.7,1241.7 1328.2,1243.3 1328.7,1242.6 1329.1,1240.8 1329.6,1241.3 1330.1,1243.2 1330.6,1240.9 1331.1,1241.9 1331.6,1243.1 1332.1,1241.8 1332.6,1244.1 1333.1,1245.5 1333.5,1245.5 1334,1241.9 1334.5,1245.9 1335,1243.9 1335.5,1242.7 1336,1243 1336.5,1244.4 1337,1243 1337.5,1242 1338,1240.6 1338.4,1242.5 1338.9,1243 1339.4,1240.5 1339.9,1241.1 1340.4,1242.1 1340.9,1243.6 1341.4,1242.1 1341.9,1242.6 1342.4,1241.9 1342.9,1244.6 1343.3,1242.6 1343.8,1243.5 1344.3,1244.9 1344.8,1242.9 1345.3,1243.9 1345.8,1244.4 1346.3,1243.4 1346.8,1245.6 1347.3,1242.9 1347.7,1243.7 1348.2,1242.5 1348.7,1240.8 1349.2,1243.5 1349.7,1243.4 1350.2,1242 1350.7,1241.2 1351.2,1239.3 1351.7,1242.1 1352.2,1244.3 1352.6,1241.8 1353.1,1244.3 1353.6,1244.9 1354.1,1240.2 1354.6,1243 1355.1,1242.1 1355.6,1242.5 1356.1,1241.1 1356.6,1242.8 1357.1,1242 1357.5,1244.5 1358,1245.3 1358.5,1242.2 1359,1241.4 1359.5,1242.7 1360,1242.5 1360.5,1242.4 1361,1243.2 1361.5,1240.4 1361.9,1242 1362.4,1242.3 1362.9,1242.6 1363.4,1241.5 1363.9,1241.7 1364.4,1240.8 1364.9,1242.9 1365.4,1240.6 1365.9,1238.6 1366.4,1242.2 1366.8,1242 1367.3,1240.9 1367.8,1241.2 1368.3,1241.8 1368.8,1244.2 1369.3,1241.5 1369.8,1244.2 1370.3,1243.7 1370.8,1241.9 1371.2,1242.8 1371.7,1242.1 1372.2,1240 1372.7,1242.6 1373.2,1243.5 1373.7,1245.5 1374.2,1245.4 1374.7,1245.6 1375.2,1244.3 1375.7,1245.3 1376.1,1245 1376.6,1244.3 1377.1,1245.6 1377.6,1246.3 1378.1,1246.1 1378.6,1243.9 1379.1,1243.2 1379.6,1241.9 1380.1,1241.2 1380.6,1243 1381,1242 1381.5,1244.3 1382,1240.1 1382.5,1242.1 1383,1243.7 1383.5,1244.8 1384,1242.5 1384.5,1245.5 1385,1245 1385.4,1243.1 1385.9,1243.8 1386.4,1244.6 1386.9,1243.8 1387.4,1246.3 1387.9,1244.6 1388.4,1245.9 1388.9,1247.8 1389.4,1246.9 1389.9,1248.3 1390.3,1245 1390.8,1248.2 1391.2,1245.6 1391.4,1347.4 1391.5,1422.9 1391.7,1479 1391.8,1520.3 1392,1550.1 1392.1,1570.7 1392.3,1586 1392.4,1598.7 1392.6,1609.2 1392.7,1617.8 1392.9,1624.8 1393,1630.4 1393.2,1634.8 1393.3,1638 1393.5,1640.5 1393.6,1642.6 1393.8,1644.4 1394,1646 1394.1,1646.1 1394.3,1647.5 1394.7,1651.2 1395.2,1653.2 1395.7,1656.3 1396.2,1657.6 1396.7,1662 1397.2,1663.3 1397.7,1661.1 1398.2,1664 1398.7,1663.6 1399.2,1664 1399.6,1665.1 1400.1,1665.7 1400.6,1664.5 1401.1,1669.7 1401.6,1666.1 1402.1,1665.7 1402.6,1668.9 1403.1,1670.4 1403.6,1670.1 1404.1,1669.5 1404.5,1673.7 1405,1672.2 1405.5,1672.4 1406,1672 1406.5,1673.4 1407,1673.5 1407.5,1675.3 1408,1675.3 1408.5,1677 1408.9,1676.7 1409.4,1676.9 1409.9,1677.4 1410.4,1678.9 1410.9,1676.1 1411.4,1678.8 1411.9,1681.4 1412.4,1678.2 1412.9,1680.9 1413.4,1680 1413.8,1681.1 1414.3,1681.2 1414.8,1681.7 1415.3,1683 1415.8,1682.6 1416.3,1680.7 1416.8,1686.1 1417.3,1684.2 1417.8,1684.5 1418.3,1687.3 1418.7,1688 1419.2,1684.6 1419.7,1688.3 1420.2,1685.5 1420.7,1687.3 1421.2,1688.5 1421.7,1687.9 1422.2,1687.9 1422.7,1687.4 1423.1,1688.4 1423.6,1689.3 1424.1,1689.3 1424.6,1688.1 1425.1,1689.5 1425.6,1692 1426.1,1692 1426.6,1691.6 1427.1,1692.9 1427.6,1693.6 1428,1693.5 1428.5,1693.3 1429,1693.2 1429.5,1692.3 1430,1693.7 1430.5,1692.2 1431,1695.7 1431.5,1691.9 1432,1694.6 1432.4,1695.4 1432.9,1696.6 1433.4,1699.1 1433.9,1696.4 1434.4,1696.7 1434.9,1695.2 1435.4,1699.6 1435.9,1696.6 1436.4,1699.5 1436.9,1699 1437.3,1702.3 1437.8,1698.8 1438.3,1699.9 1438.8,1698.7 1439.3,1699.8 1439.8,1700.9 1440.3,1699.1 1440.8,1700.4 1441.3,1700.7 1441.8,1700.6 1442.2,1701.1 1442.7,1702.9 1443.2,1705.1 1443.7,1705.2 1444.2,1702.3 1444.7,1703 1445.2,1703.7 1445.7,1704.5 1446.2,1704.3 1446.6,1704.6 1447.1,1705.4 1447.6,1706.4 1448.1,1703.3 1448.6,1705.9 1449.1,1707.4 1449.6,1708.6 1450.1,1708.6 1450.6,1706.9 1451.1,1707.8 1451.5,1709.8 1452,1709.7 1452.5,1710 1453,1711.1 1453.5,1708.9 1454,1709.8 1454.5,1707.9 1455,1711.5 1455.5,1711.4 1455.9,1710.1 1456.4,1711.5 1456.9,1713 1457.4,1712.2 1457.9,1711.3 1458.4,1711.4 1458.9,1711.5 1459.4,1710.7 1459.9,1710.8 1460.4,1712 1460.8,1712.8 1461.3,1713 1461.8,1713.3 1462.3,1713.5 1462.8,1714.9 1463.3,1714.6 1463.8,1715 1464.3,1717.7 1464.8,1717 1465.3,1714.7 1465.7,1715.7 1466.2,1714.7 1466.7,1717.2 1467.2,1715.3 1467.7,1715.4 1468.2,1716.8 1468.7,1718.3 1469.2,1717.4 1469.7,1717.5 1470.1,1720.3 1470.6,1718.1 1471.1,1717.3 1471.6,1719.3 1472.1,1717.2 1472.6,1720.1 1473.1,1719.7 1473.6,1720 1474.1,1720.3 1474.6,1720.2 1475,1721.2 1475.5,1718.9 1476,1720.4 1476.5,1721.6 1477,1723.2 1477.5,1724.2 1478,1722.7 1478.5,1724.5 1479,1722.7 1479.5,1723.8 1479.9,1722 1480.4,1723.6 1480.9,1723.8 1481.4,1724.6 1481.9,1724.4 1482.4,1723.9 1482.9,1724 1483.4,1725.7 1483.9,1724.4 1484.3,1721.8 1484.8,1725.5 1485.3,1725.5 1485.8,1725.8 1486.3,1727.1 1486.8,1724.6 1487.3,1726.2 1487.8,1726.2 1488.3,1725.3 1488.8,1725.7 1489.2,1730.5 1489.7,1728.3 1490.2,1729.1 1490.7,1729.6 1491.2,1730.1 1491.7,1730.2 1492.2,1728.2 1492.7,1729.6 1493.2,1730.3 1493.6,1730.1 1494.1,1730.5 1494.6,1732.3 1495.1,1732.9 1495.6,1732.2 1496.1,1733.9 1496.6,1734.7 1497.1,1735.4 1497.6,1734.3 1498.1,1735.3 1498.5,1733.6 1499,1734 1499.5,1736.8 1500,1734.9 1500.5,1734.9 1501,1735.6 1501.5,1737.3 1502,1735 1502.5,1737.5 1503,1738 1503.4,1738 1503.9,1737.2 1504.4,1737.1 1504.9,1737.2 1505.4,1739.1 1505.9,1742.4 1506.4,1741.9 1506.9,1742.3 1507.4,1741.3 1507.8,1743.7 1508.3,1742 1508.8,1740.9 1509.3,1742.8 1509.8,1742.8 1510.3,1743.9 1510.8,1744.8 1511.3,1743.8 1511.8,1742.4 1512.3,1742.9 1512.7,1744.9 1513.2,1743.8 1513.6,1745.4 1513.8,1595.2 1513.9,1487.7 1514.1,1415.7 1514.2,1372.8 1514.4,1353.5 1514.5,1343.6 1514.7,1336.4 1514.8,1330.9 1515,1326.6 1515.1,1323.1 1515.3,1320 1515.4,1317.2 1515.6,1314.7 1515.7,1312.4 1515.9,1310.3 1516,1308.4 1516.2,1306.8 1516.4,1305.2 1516.5,1305.3 1516.7,1304.5 1517.1,1299.3 1517.6,1297.6 1518.1,1295.2 1518.6,1294.3 1519.1,1292.1 1519.6,1289.5 1520.1,1289 1520.6,1288.4 1521.1,1286.7 1521.6,1283.6 1522,1283.7 1522.5,1281.3 1523,1282.8 1523.5,1282.2 1524,1283.4 1524.5,1282.6 1525,1279.4 1525.5,1279.9 1526,1278.5 1526.5,1278 1526.9,1277.9 1527.4,1278 1527.9,1277.7 1528.4,1277.3 1528.9,1277.9 1529.4,1277.5 1529.9,1278 1530.4,1279.2 1530.9,1278.6 1531.3,1279.9 1531.8,1277.6 1532.3,1281 1532.8,1278.3 1533.3,1274.4 1533.8,1276.7 1534.3,1276.5 1534.8,1274.7 1535.3,1272.9 1535.8,1274.2 1536.2,1273.2 1536.7,1273.8 1537.2,1275 1537.7,1270.8 1538.2,1274.6 1538.7,1275 1539.2,1274.9 1539.7,1273.8 1540.2,1272.8 1540.7,1271.4 1541.1,1271.6 1541.6,1273 1542.1,1270.5 1542.6,1271.3 1543.1,1271.2 1543.6,1272.9 1544.1,1272 1544.6,1271.8 1545.1,1270.7 1545.5,1272.3 1546,1270.2 1546.5,1269.2 1547,1270.3 1547.5,1269.6 1548,1269.7 1548.5,1267.3 1549,1271.5 1549.5,1269.4 1550,1270.1 1550.4,1269.3 1550.9,1266.9 1551.4,1268.6 1551.9,1267.4 1552.4,1268.1 1552.9,1265.1 1553.4,1265.6 1553.9,1266.3 1554.4,1268.6 1554.8,1268.4 1555.3,1265.2 1555.8,1266.8 1556.3,1266.8 1556.8,1265.8 1557.3,1267.9 1557.8,1265.5 1558.3,1266.8 1558.8,1266.2 1559.3,1267.3 1559.7,1265.7 1560.2,1267.1 1560.7,1264.3 1561.2,1264.6 1561.7,1265.3 1562.2,1265.8 1562.7,1265.7 1563.2,1269.6 1563.7,1265.5 1564.2,1266.7 1564.6,1265.4 1565.1,1266.2 1565.6,1266.6 1566.1,1265 1566.6,1264 1567.1,1262.9 1567.6,1265.8 1568.1,1265.8 1568.6,1263.1 1569,1266.7 1569.5,1262.8 1570,1265.5 1570.5,1266.5 1571,1264.9 1571.5,1263.8 1572,1266.9 1572.5,1263.6 1573,1265.5 1573.5,1262.8 1573.9,1265.1 1574.4,1267.1 1574.9,1264 1575.4,1263.7 1575.9,1262 1576.4,1262.6 1576.9,1263.4 1577.4,1264.4 1577.9,1265.1 1578.3,1264.7 1578.8,1265.2 1579.3,1264.8 1579.8,1267.1 1580.3,1263.9 1580.8,1263.9 1581.3,1260.7 1581.8,1263 1582.3,1265.1 1582.8,1263.8 1583.2,1265.6 1583.7,1265.6 1584.2,1268 1584.7,1264.4 1585.2,1264.3 1585.7,1266.9 1586.2,1266 1586.7,1264.4 1587.2,1263.9 1587.7,1263.7 1588.1,1265.4 1588.6,1265 1589.1,1263.5 1589.6,1262.2 1590.1,1264.7 1590.6,1265.5 1591.1,1263 1591.6,1265.1 1592.1,1263.5 1592.5,1264.5 1593,1263.6 1593.5,1262 1594,1262.8 1594.5,1262.7 1595,1264.8 1595.5,1264.9 1596,1262.7 1596.5,1262.1 1597,1262.6 1597.4,1261.4 1597.9,1263.5 1598.4,1263.8 1598.9,1264 1599.4,1264.6 1599.9,1264.2 1600.4,1265.3 1600.9,1262.8 1601.4,1264.7 1601.9,1262.8 1602.3,1265.2 1602.8,1262.8 1603.3,1265.8 1603.8,1263.4 1604.3,1266.3 1604.8,1265 1605.3,1262.8 1605.8,1265.1 1606.3,1264.5 1606.7,1265.5 1607.2,1268.6 1607.7,1265.2 1608.2,1265.5 1608.7,1267.3 1609.2,1264.9 1609.7,1266.6 1610.2,1266.5 1610.7,1265.8 1611.2,1266.8 1611.6,1263.6 1612.1,1268.5 1612.6,1265.8 1613.1,1265.5 1613.6,1269.1 1614.1,1269.4 1614.6,1266.6 1615.1,1267.6 1615.6,1266.5 1616,1265.5 1616.5,1266.4 1617,1266.6 1617.5,1268.5 1618,1265.7 1618.5,1267.5 1619,1266.5 1619.5,1267 1620,1269 1620.5,1265.4 1620.9,1265.9 1621.4,1265.7 1621.9,1267.9 1622.4,1267 1622.9,1267.2 1623.4,1267.3 1623.9,1268.4 1624.4,1266.6 1624.9,1266.8 1625.4,1266.9 1625.8,1268.1 1626.3,1265.1 1626.8,1266.3 1627.3,1270 1627.8,1267.6 1628.3,1267.2 1628.8,1265.8 1629.3,1267.5 1629.8,1266.9 1630.2,1267.1 1630.7,1265.4 1631.2,1266.3 1631.7,1266.2 1632.2,1267 1632.7,1265.9 1633.2,1267.4 1633.7,1268.6 1634.2,1265.8 1634.7,1267.5 1635.1,1266.8 1635.6,1266.3 1636,1267.1 1636.2,1367.4 1636.3,1442.4 1636.5,1497.9 1636.6,1538.3 1636.8,1566.5 1636.9,1585 1637.1,1597.8 1637.2,1608 1637.4,1616.5 1637.5,1623.4 1637.7,1629.4 1637.8,1634.4 1638,1638.8 1638.1,1642.8 1638.3,1646.3 1638.4,1649.5 1638.6,1652.4 1638.8,1655.2 1638.9,1661.9 1639.1,1661.9 1639.5,1667.9 1640,1672 1640.5,1672.9 1641,1676.6 1641.5,1678.4 1642,1678.6 1642.5,1683.9 1643,1684.5 1643.5,1685.2 1644,1686.8 1644.4,1685.4 1644.9,1687.9 1645.4,1685.9 1645.9,1686.6 1646.4,1687.4 1646.9,1689 1647.4,1688.3 1647.9,1688.3 1648.4,1691 1648.9,1689.6 1649.3,1689.7 1649.8,1690.8 1650.3,1689.8 1650.8,1689.9 1651.3,1692.4 1651.8,1691.6 1652.3,1692.7 1652.8,1691.4 1653.3,1693.9 1653.7,1693.1 1654.2,1693.9 1654.7,1693.5 1655.2,1695.7 1655.7,1697.5 1656.2,1693.5 1656.7,1695.7 1657.2,1695 1657.7,1696.8 1658.2,1697 1658.6,1696 1659.1,1698.8 1659.6,1698.6 1660.1,1702.3 1660.6,1700.7 1661.1,1702.6 1661.6,1703.5 1662.1,1703.8 1662.6,1704.1 1663.1,1703.2 1663.5,1707.6 1664,1706.3 1664.5,1707.4 1665,1706.1 1665.5,1708 1666,1707.8 1666.5,1709 1667,1708.5 1667.5,1709 1667.9,1711.2 1668.4,1711.2 1668.9,1713 1669.4,1711.6 1669.9,1710.6 1670.4,1712.6 1670.9,1710.8 1671.4,1714.9 1671.9,1715.1 1672.4,1715.1 1672.8,1714.6 1673.3,1714.7 1673.8,1715.3 1674.3,1715.5 1674.8,1714.7 1675.3,1716.5 1675.8,1718.3 1676.3,1718.5 1676.8,1715.2 1677.2,1720.7 1677.7,1718.9 1678.2,1717.3 1678.7,1718.1 1679.2,1720 1679.7,1719.4 1680.2,1718.4 1680.7,1717.7 1681.2,1720.2 1681.7,1718.6 1682.1,1719.6 1682.6,1718.6 1683.1,1719 1683.6,1721.7 1684.1,1723.5 1684.6,1721.7 1685.1,1720 1685.6,1721.5 1686.1,1721.8 1686.6,1719.4 1687,1723.9 1687.5,1722.1 1688,1724.3 1688.5,1724.1 1689,1724.4 1689.5,1722.9 1690,1725.5 1690.5,1724.7 1691,1725.8 1691.4,1723.6 1691.9,1725.4 1692.4,1724.8 1692.9,1726 1693.4,1725.7 1693.9,1723.5 1694.4,1724.1 1694.9,1722.8 1695.4,1722.6 1695.9,1724.3 1696.3,1725.3 1696.8,1722.5 1700.3,1723.9" fill="none" stroke="#2FA865" stroke-width="4.6" stroke-linejoin="round" stroke-linecap="round"/>
<polyline points="719.5,1726.1 719.7,1726.1 719.8,1726.2 720,1726.3 720.1,1726.4 720.3,1726.4 720.4,1726.5 720.6,1726.6 720.8,1726.7 720.9,1726.7 721.1,1726.8 721.2,1726.9 721.4,1726.9 721.5,1727 721.7,1727.1 721.8,1727.2 722,1727.2 722.1,1727.3 722.3,1727.4 722.4,1727.2 722.6,1727.5 723.1,1727.9 723.6,1727.7 724.1,1728.5 724.5,1728.7 725,1728 725.5,1728.5 726,1728.9 726.5,1728.9 727,1729.1 727.5,1730.2 728,1730.1 728.5,1730.8 729,1730.6 729.4,1731 729.9,1730.5 730.4,1731 730.9,1731.6 731.4,1731.5 731.9,1732.2 732.4,1731.9 732.9,1731.9 733.4,1732.2 733.9,1732.9 734.3,1732.6 734.8,1732.4 735.3,1732.8 735.8,1732.8 736.3,1733.8 736.8,1733.5 737.3,1734 737.8,1734 738.3,1734 738.7,1733.9 739.2,1734.5 739.7,1734.4 740.2,1735.2 740.7,1735.3 741.2,1734.7 741.7,1735.1 742.2,1736 742.7,1735.7 743.2,1735.4 743.6,1735.1 744.1,1735.6 744.6,1735.9 745.1,1737.1 745.6,1736.8 746.1,1736.7 746.6,1737 747.1,1736.9 747.6,1737.3 748,1736.7 748.5,1737 749,1737.8 749.5,1738.2 750,1737.3 750.5,1738.4 751,1737.8 751.5,1737.7 752,1738.8 752.5,1738.6 752.9,1739.1 753.4,1739 753.9,1739.3 754.4,1738.9 754.9,1739.5 755.4,1740 755.9,1739.7 756.4,1740.4 756.9,1740.5 757.4,1739.8 757.8,1741.1 758.3,1741.1 758.8,1740.9 759.3,1741.4 759.8,1742 760.3,1741.1 760.8,1741.8 761.3,1741.8 761.8,1741.9 762.2,1742.2 762.7,1742.4 763.2,1742 763.7,1741.4 764.2,1742.1 764.7,1742.3 765.2,1743.3 765.7,1743 766.2,1743.5 766.7,1742.9 767.1,1743.5 767.6,1743.4 768.1,1743.7 768.6,1744 769.1,1744.5 769.6,1743.9 770.1,1744.9 770.6,1745 771.1,1744.7 771.5,1745.1 772,1744.9 772.5,1744.8 773,1745.2 773.5,1745.5 774,1745.8 774.5,1745.6 775,1746.8 775.5,1746.2 776,1746.7 776.4,1746.9 776.9,1746.6 777.4,1746.8 777.9,1746.7 778.4,1746.7 778.9,1748 779.4,1747.3 779.9,1746.7 780.4,1747.2 780.7,1747.6 780.9,1678.7 781,1628.6 781.2,1593.1 781.3,1569 781.5,1553.9 781.6,1543.3 781.8,1535 782,1528.3 782.1,1523 782.3,1518.6 782.4,1515 782.6,1512 782.7,1509.4 782.9,1507.2 783,1505.2 783.2,1503.4 783.3,1501.8 783.5,1500.3 783.6,1499.3 783.8,1498.3 784.3,1495.1 784.8,1491.6 785.3,1489.2 785.7,1487.4 786.2,1485.6 786.7,1484.3 787.2,1482.4 787.7,1481.7 788.2,1479.9 788.7,1478 789.2,1477.1 789.7,1476.9 790.2,1476.2 790.6,1474.7 791.1,1473.8 791.6,1474.5 792.1,1473.5 792.6,1472.6 793.1,1471.5 793.6,1471.9 794.1,1470.8 794.6,1470.7 795.1,1469.4 795.5,1469.7 796,1469.7 796.5,1469.4 797,1468.6 797.5,1468.4 798,1468.6 798.5,1467.8 799,1468.2 799.5,1467.6 799.9,1467.7 800.4,1467.4 800.9,1466.9 801.4,1466.8 801.9,1465.9 802.4,1465.6 802.9,1465.8 803.4,1466 803.9,1465.1 804.4,1466 804.8,1465.9 805.3,1464.7 805.8,1464.5 806.3,1464.4 806.8,1464.7 807.3,1465.1 807.8,1464.5 808.3,1464 808.8,1464.4 809.2,1464.1 809.7,1464.3 810.2,1464.1 810.7,1463.3 811.2,1463.2 811.7,1463.8 812.2,1463.7 812.7,1463.4 813.2,1462.7 813.7,1463.4 814.1,1463 814.6,1463.8 815.1,1463.4 815.6,1462.7 816.1,1462.4 816.6,1463.2 817.1,1463 817.6,1462.2 818.1,1462.8 818.6,1462.9 819,1462.5 819.5,1462.6 820,1462.2 820.5,1462.3 821,1462.8 821.5,1462.5 822,1462.4 822.5,1463 823,1462.7 823.4,1462 823.9,1462.8 824.4,1461.8 824.9,1462.1 825.4,1462.1 825.9,1461.9 826.4,1461.8 826.9,1461.5 827.4,1462 827.9,1461.9 828.3,1461.8 828.8,1460.9 829.3,1461.2 829.8,1462 830.3,1461.6 830.8,1461.9 831.3,1461.6 831.8,1461.4 832.3,1460.7 832.8,1462.2 833.2,1461 833.7,1461.2 834.2,1461.7 834.7,1461.4 835.2,1461.4 835.7,1461.3 836.2,1460.8 836.7,1461.7 837.2,1460.7 837.6,1461.4 838.1,1460.8 838.6,1461.2 839.1,1460.9 839.6,1461.2 840.1,1460.9 840.6,1461.3 841.1,1461.5 841.6,1460.9 842.1,1461 842.5,1460.4 843,1462.1 843.5,1461.3 844,1460.8 844.5,1461.7 845,1461.3 845.5,1460.4 846,1460.6 846.5,1461.6 846.9,1460.6 847.4,1460.7 847.9,1460.7 848.4,1460.7 848.9,1460.8 849.4,1461.3 849.9,1461 850.4,1460.5 850.9,1460.8 851.4,1460 851.8,1460.9 852.3,1461.7 852.8,1461 853.3,1460.7 853.8,1460.8 854.3,1461.1 854.8,1461.3 855.3,1460.4 855.8,1461.3 856.3,1460.7 856.7,1461.1 857.2,1461.3 857.7,1460.5 858.2,1462.1 858.7,1461.3 859.2,1460.9 859.7,1461.1 860.2,1460.6 860.7,1460.8 861.1,1460.9 861.6,1460 862.1,1460.8 862.6,1460.8 863.1,1461.2 863.6,1460.9 864.1,1460.3 864.6,1460.2 865.1,1460.4 865.6,1460.8 866,1460.2 866.5,1461.2 867,1460.8 867.5,1460.8 868,1461 868.5,1460.5 869,1460.9 869.5,1461 870,1459.8 870.4,1460.3 870.9,1460.2 871.4,1460.8 871.9,1460.2 872.4,1460.4 872.9,1460.4 873.4,1459.9 873.9,1461.1 874.4,1460.7 874.9,1460.9 875.3,1462.3 875.8,1461.3 876.3,1460.5 876.8,1460.2 877.3,1460.6 877.8,1459.9 878.3,1459.8 878.8,1460.5 879.3,1459.8 879.8,1459.7 880.2,1460.4 880.7,1461 881.2,1460.1 881.7,1460.8 882.2,1461 882.7,1460.9 883.2,1461.2 883.7,1460.4 884.2,1460.4 884.6,1460.2 885.1,1460.5 885.6,1461 886.1,1460.6 886.6,1460.3 887.1,1460.8 887.6,1459.3 888.1,1460.5 888.6,1460.6 889.1,1459.8 889.5,1459.8 890,1460.2 890.5,1460.3 891,1460 891.5,1459.9 892,1460 892.5,1460.5 893,1460.3 893.5,1460.1 893.9,1460.3 894.4,1461.9 894.9,1461.1 895.4,1460.9 895.9,1460.6 896.4,1460.3 896.9,1459.9 897.4,1459.9 897.9,1460 898.4,1460 898.8,1459.3 899.3,1460.4 899.8,1460.1 900.3,1459.7 900.8,1460.3 901.3,1461.4 901.8,1460.5 902.3,1460.7 902.8,1460.7 903.1,1460.4 903.3,1490.1 903.4,1513.3 903.6,1531.9 903.7,1547.2 903.9,1560 904,1570.7 904.2,1580.1 904.4,1588.6 904.5,1596.2 904.7,1602.9 904.8,1608.9 905,1614.1 905.1,1618.7 905.3,1622.6 905.4,1626 905.6,1628.8 905.7,1631.3 905.9,1633.5 906,1635.7 906.2,1637.5 906.7,1642.3 907.2,1645.7 907.7,1649.5 908.1,1652.4 908.6,1655.3 909.1,1657.1 909.6,1659.6 910.1,1662.1 910.6,1664.1 911.1,1665.5 911.6,1668.3 912.1,1669.5 912.6,1671.3 913,1673.2 913.5,1674.4 914,1676.4 914.5,1678 915,1679.1 915.5,1680.7 916,1681.5 916.5,1682.9 917,1683.7 917.5,1684.6 917.9,1687.3 918.4,1687.1 918.9,1688.8 919.4,1689.2 919.9,1690.6 920.4,1691 920.9,1691.3 921.4,1693.3 921.9,1693.4 922.3,1694.3 922.8,1695.8 923.3,1695.8 923.8,1696.7 924.3,1697.5 924.8,1698.4 925.3,1697.6 925.8,1699.5 926.3,1700.7 926.8,1701 927.2,1701.3 927.7,1701.9 928.2,1702.3 928.7,1703.1 929.2,1703 929.7,1703.9 930.2,1704.8 930.7,1705 931.2,1705.5 931.6,1705.6 932.1,1706.3 932.6,1707 933.1,1707.4 933.6,1707.7 934.1,1707.4 934.6,1708.8 935.1,1708.8 935.6,1709.1 936.1,1710.1 936.5,1710.2 937,1710.6 937.5,1711.2 938,1711.2 938.5,1711.4 939,1711.8 939.5,1712.6 940,1712.7 940.5,1712.4 941,1714.1 941.4,1714 941.9,1714.1 942.4,1714.6 942.9,1714.9 943.4,1715.4 943.9,1715.5 944.4,1715.6 944.9,1716.5 945.4,1716.8 945.8,1717.1 946.3,1717.5 946.8,1717.6 947.3,1718.3 947.8,1718 948.3,1717.9 948.8,1718.2 949.3,1718.9 949.8,1719.9 950.3,1719.5 950.7,1720.5 951.2,1720.7 951.7,1720.4 952.2,1721.7 952.7,1721.4 953.2,1721.9 953.7,1722.5 954.2,1722.9 954.7,1722.8 955.1,1723.4 955.6,1723.1 956.1,1723.4 956.6,1724.5 957.1,1724.5 957.6,1724.7 958.1,1725.3 958.6,1725.5 959.1,1725.4 959.6,1725.8 960,1726.7 960.5,1726.7 961,1726.5 961.5,1727.3 962,1727.5 962.5,1727 963,1727.3 963.5,1728.6 964,1729 964.5,1728.7 964.9,1729.6 965.4,1729.7 965.9,1730 966.4,1729.8 966.9,1731.2 967.4,1731.4 967.9,1731.4 968.4,1730.8 968.9,1731.4 969.3,1732.4 969.8,1731.9 970.3,1732.1 970.8,1732.6 971.3,1732.9 971.8,1732.9 972.3,1732.7 972.8,1733.3 973.3,1733.5 973.8,1733.9 974.2,1734.3 974.7,1734.7 975.2,1734.6 975.7,1735 976.2,1735.1 976.7,1734.8 977.2,1735.2 977.7,1735.2 978.2,1736.3 978.7,1735.7 979.1,1736.3 979.6,1736.6 980.1,1736.9 980.6,1736.4 981.1,1736.7 981.6,1737.5 982.1,1737.9 982.6,1737.7 983.1,1738.1 983.5,1737.6 984,1739.1 984.5,1739.5 985,1739.1 985.5,1739.3 986,1739.4 986.5,1739.4 987,1739 987.5,1739.8 988,1740 988.4,1740.6 988.9,1740.1 989.4,1740.1 989.9,1740.8 990.4,1740.6 990.9,1741.2 991.4,1740.8 991.9,1741.3 992.4,1741.9 992.8,1741.9 993.3,1742.3 993.8,1742.6 994.3,1742.1 994.8,1742.1 995.3,1741.7 995.8,1742.6 996.3,1742.8 996.8,1743.3 997.3,1742.5 997.7,1742.9 998.2,1743.4 998.7,1743.1 999.2,1743.4 999.7,1744.3 1000.2,1743.5 1000.7,1743.8 1001.2,1744.2 1001.7,1744.3 1002.2,1743.7 1002.6,1743.9 1003.1,1744 1003.6,1745.2 1004.1,1745.2 1004.6,1744.8 1005.1,1745.7 1005.6,1745.7 1006.1,1746.2 1006.6,1745 1007,1745.5 1007.5,1745.7 1008,1746 1008.5,1746.4 1009,1746.5 1009.5,1746.5 1010,1747.1 1010.5,1746.5 1011,1747.1 1011.5,1747.3 1011.9,1746.7 1012.4,1747 1012.9,1746.8 1013.4,1747.3 1013.9,1748 1014.4,1747 1014.9,1747.8 1015.4,1747.1 1015.9,1748.1 1016.3,1748.3 1016.8,1747.7 1017.3,1747.8 1017.8,1748 1018.3,1748.6 1018.8,1748 1019.3,1749.1 1019.8,1748.8 1020.3,1748.9 1020.8,1749 1021.2,1748.6 1021.7,1749.1 1022.2,1748.9 1022.7,1748.9 1023.2,1749.8 1023.7,1749.7 1024.2,1749.4 1024.7,1749.6 1025.2,1749.2 1025.5,1749.7 1025.7,1682.3 1025.8,1633.4 1026,1598.9 1026.1,1575.6 1026.3,1561.2 1026.4,1551.1 1026.6,1543.1 1026.8,1536.8 1026.9,1531.7 1027.1,1527.6 1027.2,1524.5 1027.4,1522 1027.5,1520 1027.7,1518.2 1027.8,1516.7 1028,1515.3 1028.1,1514 1028.3,1512.9 1028.4,1511 1028.6,1510.2 1029.1,1507.8 1029.6,1505.7 1030.1,1503.9 1030.5,1503 1031,1501.3 1031.5,1500.1 1032,1499 1032.5,1498 1033,1496.8 1033.5,1495.6 1034,1494.7 1034.5,1493.1 1035,1492.1 1035.4,1491 1035.9,1490 1036.4,1489 1036.9,1488.7 1037.4,1487.8 1037.9,1487.6 1038.4,1487 1038.9,1486.2 1039.4,1484.3 1039.9,1485 1040.3,1483.7 1040.8,1482.8 1041.3,1483.1 1041.8,1482 1042.3,1481.4 1042.8,1481.3 1043.3,1480.3 1043.8,1480.6 1044.3,1480.9 1044.7,1480.2 1045.2,1480.4 1045.7,1480.6 1046.2,1480.3 1046.7,1478.9 1047.2,1479.8 1047.7,1479.4 1048.2,1479.4 1048.7,1478.9 1049.2,1478.9 1049.6,1478.7 1050.1,1478.9 1050.6,1478.7 1051.1,1478.3 1051.6,1477.8 1052.1,1477 1052.6,1477.4 1053.1,1477.1 1053.6,1477.5 1054,1477.5 1054.5,1478 1055,1477.4 1055.5,1478 1056,1477.2 1056.5,1476.5 1057,1477 1057.5,1476.6 1058,1477.1 1058.5,1477.5 1058.9,1476.9 1059.4,1476.7 1059.9,1476 1060.4,1475.6 1060.9,1476.7 1061.4,1476.4 1061.9,1476.3 1062.4,1476.3 1062.9,1476.5 1063.4,1475.9 1063.8,1475.7 1064.3,1475.5 1064.8,1476.2 1065.3,1475.6 1065.8,1476.2 1066.3,1475.2 1066.8,1476 1067.3,1475.8 1067.8,1475.7 1068.2,1475.8 1068.7,1476 1069.2,1476.1 1069.7,1474.6 1070.2,1475 1070.7,1475 1071.2,1474.2 1071.7,1475 1072.2,1474.6 1072.7,1474.8 1073.1,1474.4 1073.6,1474.5 1074.1,1474.6 1074.6,1474.8 1075.1,1474.7 1075.6,1474.3 1076.1,1475.5 1076.6,1474.7 1077.1,1474.9 1077.5,1474.6 1078,1475.3 1078.5,1474 1079,1474.5 1079.5,1474.3 1080,1474.4 1080.5,1474.9 1081,1474.3 1081.5,1474.9 1082,1474.5 1082.4,1474.1 1082.9,1473.9 1083.4,1473.7 1083.9,1473.8 1084.4,1472.8 1084.9,1473.5 1085.4,1474 1085.9,1473.8 1086.4,1473.9 1086.9,1473.7 1087.3,1473.8 1087.8,1474.1 1088.3,1473.2 1088.8,1473.7 1089.3,1473.7 1089.8,1473.7 1090.3,1473.5 1090.8,1472.6 1091.3,1472.9 1091.7,1472.6 1092.2,1474.1 1092.7,1472.7 1093.2,1472.3 1093.7,1472.1 1094.2,1472.8 1094.7,1473.6 1095.2,1472.8 1095.7,1473.2 1096.2,1473.8 1096.6,1473.2 1097.1,1472.5 1097.6,1472.3 1098.1,1472.4 1098.6,1473 1099.1,1471.5 1099.6,1473 1100.1,1472.6 1100.6,1473.1 1101.1,1472 1101.5,1472.3 1102,1472.2 1102.5,1472.5 1103,1472.5 1103.5,1472.4 1104,1473.3 1104.5,1472.1 1105,1472.1 1105.5,1472.6 1105.9,1472.4 1106.4,1472.3 1106.9,1471.7 1107.4,1472.1 1107.9,1472.2 1108.4,1472.6 1108.9,1473 1109.4,1472.7 1109.9,1472.5 1110.4,1472.6 1110.8,1472.4 1111.3,1472 1111.8,1472 1112.3,1472 1112.8,1471.8 1113.3,1472 1113.8,1472.1 1114.3,1471.8 1114.8,1472.6 1115.2,1471.2 1115.7,1472.1 1116.2,1471.1 1116.7,1471.5 1117.2,1471 1117.7,1471.5 1118.2,1472 1118.7,1471.1 1119.2,1471.6 1119.7,1471.6 1120.1,1471.5 1120.6,1471.1 1121.1,1471.2 1121.6,1471.5 1122.1,1472.1 1122.6,1471.7 1123.1,1471.5 1123.6,1470.9 1124.1,1471.4 1124.6,1471.5 1125,1471 1125.5,1471.4 1126,1471.4 1126.5,1471.2 1127,1471.8 1127.5,1470.9 1128,1471 1128.5,1471.4 1129,1471.7 1129.4,1471.2 1129.9,1470.6 1130.4,1471.4 1130.9,1471.5 1131.4,1470.8 1131.9,1471.7 1132.4,1472 1132.9,1471.4 1133.4,1471.6 1133.9,1471.5 1134.3,1471.7 1134.8,1471.2 1135.3,1471.3 1135.8,1471.5 1136.3,1471.2 1136.8,1470.7 1137.3,1470.4 1137.8,1470.4 1138.3,1470.5 1138.8,1471.8 1139.2,1471.2 1139.7,1471 1140.2,1470.7 1140.7,1471.5 1141.2,1470.2 1141.7,1470.8 1142.2,1471.1 1142.7,1470.7 1143.2,1470.8 1143.6,1470.8 1144.1,1470.4 1144.6,1470.5 1145.1,1470.8 1145.6,1470.5 1146.1,1470.3 1146.6,1470.7 1147.1,1469.8 1147.6,1470.9 1147.9,1470.5 1148.1,1495.9 1148.2,1516.3 1148.4,1533.3 1148.5,1547.6 1148.7,1559.9 1148.8,1570.7 1149,1580.5 1149.2,1589.7 1149.3,1598.1 1149.5,1605.7 1149.6,1612.5 1149.8,1618.5 1149.9,1623.7 1150.1,1628.2 1150.2,1632 1150.4,1635.1 1150.5,1637.8 1150.7,1640.2 1150.8,1642.4 1151,1644.7 1151.5,1649.3 1152,1654.7 1152.5,1657 1152.9,1660 1153.4,1663.4 1153.9,1665.5 1154.4,1666.8 1154.9,1669.4 1155.4,1670.9 1155.9,1671.8 1156.4,1673.5 1156.9,1674.5 1157.4,1676.2 1157.8,1676.9 1158.3,1677.6 1158.8,1678.9 1159.3,1680.9 1159.8,1680.8 1160.3,1681.9 1160.8,1682.9 1161.3,1682.8 1161.8,1684.5 1162.3,1683.8 1162.7,1685.4 1163.2,1685.1 1163.7,1686.4 1164.2,1687.6 1164.7,1687.8 1165.2,1688.4 1165.7,1688.9 1166.2,1689.2 1166.7,1690.5 1167.1,1690.4 1167.6,1690.6 1168.1,1691.6 1168.6,1692.3 1169.1,1693 1169.6,1692.9 1170.1,1693.5 1170.6,1694.8 1171.1,1695.3 1171.6,1694.8 1172,1696.2 1172.5,1696 1173,1696.7 1173.5,1697.5 1174,1697.3 1174.5,1697.9 1175,1697.7 1175.5,1697.9 1176,1699.2 1176.4,1699.1 1176.9,1699.5 1177.4,1700.6 1177.9,1701.1 1178.4,1700.5 1178.9,1701.8 1179.4,1702.2 1179.9,1702.7 1180.4,1702.9 1180.9,1703.5 1181.3,1703.3 1181.8,1703.4 1182.3,1704.4 1182.8,1705.3 1183.3,1705.1 1183.8,1706.1 1184.3,1706.3 1184.8,1706 1185.3,1705.8 1185.8,1707 1186.2,1708 1186.7,1707.7 1187.2,1709.1 1187.7,1708.9 1188.2,1708.6 1188.7,1709.1 1189.2,1710.2 1189.7,1710.6 1190.2,1710 1190.6,1710.7 1191.1,1711 1191.6,1711 1192.1,1711.6 1192.6,1712.4 1193.1,1711.7 1193.6,1712.5 1194.1,1713 1194.6,1713.4 1195.1,1713.2 1195.5,1714 1196,1713.8 1196.5,1714.6 1197,1714.4 1197.5,1715.3 1198,1715.6 1198.5,1716.4 1199,1716.4 1199.5,1716.1 1200,1715.5 1200.4,1717.3 1200.9,1717.5 1201.4,1717.3 1201.9,1717.6 1202.4,1718.2 1202.9,1718.3 1203.4,1719.3 1203.9,1719.3 1204.4,1719.1 1204.8,1719.1 1205.3,1719.9 1205.8,1720.3 1206.3,1720.2 1206.8,1720.3 1207.3,1720.8 1207.8,1721.5 1208.3,1721.5 1208.8,1721.5 1209.3,1722.4 1209.7,1722.8 1210.2,1722.4 1210.7,1722.7 1211.2,1722.7 1211.7,1723.2 1212.2,1723.7 1212.7,1723.8 1213.2,1724.5 1213.7,1724.7 1214.1,1725 1214.6,1725.3 1215.1,1725 1215.6,1726 1216.1,1725.6 1216.6,1726 1217.1,1725.3 1217.6,1726 1218.1,1726.4 1218.6,1726.4 1219,1726.9 1219.5,1727.4 1220,1727 1220.5,1727.6 1221,1727.5 1221.5,1728.1 1222,1728.4 1222.5,1729 1223,1729.7 1223.5,1729.2 1223.9,1729.6 1224.4,1729.6 1224.9,1730.1 1225.4,1730.5 1225.9,1731 1226.4,1730.6 1226.9,1730.6 1227.4,1731.6 1227.9,1731.5 1228.3,1731.5 1228.8,1732.4 1229.3,1732.4 1229.8,1733 1230.3,1732.3 1230.8,1732.9 1231.3,1733.4 1231.8,1733.8 1232.3,1733.7 1232.8,1733.5 1233.2,1734.1 1233.7,1734.3 1234.2,1734.2 1234.7,1735.3 1235.2,1734.9 1235.7,1735 1236.2,1735.7 1236.7,1736.1 1237.2,1736 1237.6,1736.2 1238.1,1736.5 1238.6,1736.4 1239.1,1736.7 1239.6,1737.2 1240.1,1737.3 1240.6,1737.1 1241.1,1737.1 1241.6,1737.2 1242.1,1738.2 1242.5,1737.8 1243,1738.1 1243.5,1738.6 1244,1738.7 1244.5,1738.7 1245,1738.5 1245.5,1739.7 1246,1739.3 1246.5,1739.7 1247,1740.1 1247.4,1739.8 1247.9,1740.1 1248.4,1741 1248.9,1741 1249.4,1741 1249.9,1741.6 1250.4,1741.2 1250.9,1741.7 1251.4,1741.7 1251.8,1741.9 1252.3,1741.8 1252.8,1742.6 1253.3,1742.8 1253.8,1742.2 1254.3,1743.2 1254.8,1743.4 1255.3,1743.9 1255.8,1743.2 1256.3,1743.8 1256.7,1744 1257.2,1744.3 1257.7,1744.6 1258.2,1745 1258.7,1745.2 1259.2,1745 1259.7,1745.2 1260.2,1745 1260.7,1746.1 1261.2,1746.2 1261.6,1746.7 1262.1,1746 1262.6,1747.2 1263.1,1746.7 1263.6,1746.6 1264.1,1747.4 1264.6,1747.2 1265.1,1748.3 1265.6,1747.7 1266,1748.4 1266.5,1747.9 1267,1748.1 1267.5,1748.6 1268,1748.4 1268.5,1748.9 1269,1749.2 1269.5,1749.5 1270,1750 1270.3,1749.7 1270.5,1684.9 1270.6,1637.9 1270.8,1604.7 1270.9,1582.3 1271.1,1568.5 1271.2,1558.7 1271.4,1551 1271.6,1544.9 1271.7,1540 1271.9,1536.1 1272,1533 1272.2,1530.6 1272.3,1528.6 1272.5,1526.9 1272.6,1525.3 1272.8,1524 1272.9,1522.7 1273.1,1521.6 1273.2,1520.2 1273.4,1519.4 1273.9,1517.5 1274.4,1515.2 1274.9,1513.5 1275.3,1511.6 1275.8,1510.1 1276.3,1509.5 1276.8,1508 1277.3,1505.7 1277.8,1504.7 1278.3,1503.3 1278.8,1502.3 1279.3,1500.7 1279.8,1500.6 1280.2,1498.8 1280.7,1498.7 1281.2,1497.3 1281.7,1496.1 1282.2,1496.3 1282.7,1495 1283.2,1494.6 1283.7,1493.8 1284.2,1493.2 1284.7,1493.1 1285.1,1492.6 1285.6,1491.3 1286.1,1490.7 1286.6,1490.7 1287.1,1490.6 1287.6,1488.8 1288.1,1488.9 1288.6,1488.8 1289.1,1489 1289.5,1488.5 1290,1487.9 1290.5,1488 1291,1486.7 1291.5,1487 1292,1486.6 1292.5,1486.8 1293,1486.3 1293.5,1486.1 1294,1485.5 1294.4,1485.5 1294.9,1485.3 1295.4,1485 1295.9,1484.9 1296.4,1484.3 1296.9,1484.7 1297.4,1484.8 1297.9,1484.4 1298.4,1483.5 1298.8,1484 1299.3,1483.5 1299.8,1483.5 1300.3,1483.2 1300.8,1483 1301.3,1483.4 1301.8,1483.1 1302.3,1482.7 1302.8,1482.5 1303.3,1482.4 1303.7,1482.3 1304.2,1482.4 1304.7,1482.3 1305.2,1481.8 1305.7,1482.4 1306.2,1482 1306.7,1482.6 1307.2,1482.2 1307.7,1482.3 1308.2,1482.3 1308.6,1481.7 1309.1,1482.1 1309.6,1481.9 1310.1,1481.8 1310.6,1481.7 1311.1,1481 1311.6,1481.7 1312.1,1481.3 1312.6,1481.9 1313,1481.6 1313.5,1481.5 1314,1481.3 1314.5,1481.3 1315,1481.1 1315.5,1480.5 1316,1481.1 1316.5,1481.1 1317,1481.1 1317.5,1479.8 1317.9,1480.1 1318.4,1480.5 1318.9,1480.3 1319.4,1480.9 1319.9,1480.7 1320.4,1480.7 1320.9,1480.7 1321.4,1481 1321.9,1481 1322.3,1480.4 1322.8,1480.5 1323.3,1481.4 1323.8,1480.5 1324.3,1480 1324.8,1480.6 1325.3,1480.2 1325.8,1480.8 1326.3,1479.8 1326.8,1480.6 1327.2,1480.6 1327.7,1480.2 1328.2,1479.1 1328.7,1480.2 1329.2,1480.3 1329.7,1479.7 1330.2,1479.6 1330.7,1479.1 1331.2,1480.3 1331.7,1480.3 1332.1,1479.9 1332.6,1479.6 1333.1,1479.6 1333.6,1479.3 1334.1,1480.1 1334.6,1479.9 1335.1,1479.5 1335.6,1479.2 1336.1,1479.2 1336.5,1479.7 1337,1480 1337.5,1479.3 1338,1479.2 1338.5,1478.6 1339,1479.6 1339.5,1478.8 1340,1479.8 1340.5,1479.6 1341,1479.6 1341.4,1479.5 1341.9,1479.6 1342.4,1479.4 1342.9,1479.3 1343.4,1479.3 1343.9,1478.9 1344.4,1479.1 1344.9,1479.1 1345.4,1478.7 1345.9,1479.1 1346.3,1479.1 1346.8,1479.2 1347.3,1479.2 1347.8,1479 1348.3,1479.5 1348.8,1478.6 1349.3,1478.5 1349.8,1478.7 1350.3,1479.2 1350.7,1479.6 1351.2,1479.3 1351.7,1479 1352.2,1478.7 1352.7,1479.1 1353.2,1479.2 1353.7,1478.4 1354.2,1479 1354.7,1478.3 1355.2,1478.4 1355.6,1479.1 1356.1,1478.5 1356.6,1478.8 1357.1,1479 1357.6,1479.3 1358.1,1479.2 1358.6,1478.4 1359.1,1478.7 1359.6,1478.4 1360,1478.9 1360.5,1478.7 1361,1478.9 1361.5,1479.5 1362,1479.4 1362.5,1478.7 1363,1478.7 1363.5,1479.3 1364,1478.7 1364.5,1478.3 1364.9,1477.9 1365.4,1478.9 1365.9,1478.3 1366.4,1477.5 1366.9,1478.4 1367.4,1478 1367.9,1479.5 1368.4,1477.9 1368.9,1478.4 1369.4,1479.2 1369.8,1478.2 1370.3,1478 1370.8,1477.9 1371.3,1478.1 1371.8,1478.6 1372.3,1478.8 1372.8,1478.7 1373.3,1478.6 1373.8,1478.3 1374.2,1478.6 1374.7,1478.3 1375.2,1478 1375.7,1478.3 1376.2,1477.6 1376.7,1477.8 1377.2,1479.2 1377.7,1478.9 1378.2,1479.1 1378.7,1478.9 1379.1,1478.3 1379.6,1478.8 1380.1,1478.6 1380.6,1478.4 1381.1,1478 1381.6,1478.4 1382.1,1478.5 1382.6,1478 1383.1,1478.1 1383.5,1478.1 1384,1477.8 1384.5,1478.6 1385,1478 1385.5,1478.4 1386,1477.9 1386.5,1478 1387,1478.8 1387.5,1477.9 1388,1479 1388.4,1478.2 1388.9,1478.5 1389.4,1478.9 1389.9,1479 1390.4,1478.8 1390.9,1478.6 1391.4,1478.8 1391.9,1478.3 1392.4,1479.1 1392.7,1478.3 1392.9,1504.5 1393,1525.9 1393.2,1543.9 1393.3,1559.4 1393.5,1573 1393.6,1585 1393.8,1596.4 1394,1607.4 1394.1,1617.6 1394.3,1626.6 1394.4,1634.3 1394.6,1640.7 1394.7,1645.7 1394.9,1649.5 1395,1652.3 1395.2,1654.9 1395.3,1657.1 1395.5,1659.1 1395.6,1661.1 1395.8,1663 1396.3,1667.1 1396.8,1670.8 1397.3,1673.4 1397.7,1676 1398.2,1679 1398.7,1680.4 1399.2,1682 1399.7,1684.2 1400.2,1685.8 1400.7,1687.6 1401.2,1689.3 1401.7,1691.1 1402.2,1691.6 1402.6,1692.8 1403.1,1694 1403.6,1695.2 1404.1,1696.2 1404.6,1697.3 1405.1,1698.1 1405.6,1699 1406.1,1699.7 1406.6,1700.8 1407.1,1701.6 1407.5,1701.8 1408,1702.8 1408.5,1704.3 1409,1704.3 1409.5,1705.8 1410,1705 1410.5,1706.3 1411,1706.9 1411.5,1708 1411.9,1708.7 1412.4,1708.9 1412.9,1709.4 1413.4,1710.1 1413.9,1710.4 1414.4,1710.8 1414.9,1711.3 1415.4,1712.4 1415.9,1713.3 1416.4,1713 1416.8,1713.8 1417.3,1713.8 1417.8,1714 1418.3,1714.5 1418.8,1715.4 1419.3,1715.6 1419.8,1715.8 1420.3,1716.8 1420.8,1717 1421.2,1717.1 1421.7,1717.7 1422.2,1718.4 1422.7,1719.1 1423.2,1719.2 1423.7,1720 1424.2,1720 1424.7,1720.8 1425.2,1720.6 1425.7,1720.9 1426.1,1722.2 1426.6,1721.8 1427.1,1722.6 1427.6,1722.4 1428.1,1722.9 1428.6,1723.5 1429.1,1723.5 1429.6,1724.3 1430.1,1724.4 1430.6,1724.7 1431,1725.2 1431.5,1725.3 1432,1726.2 1432.5,1725.9 1433,1726.8 1433.5,1726.3 1434,1726.7 1434.5,1727 1435,1727.8 1435.4,1726.7 1435.9,1728.1 1436.4,1728.2 1436.9,1728.8 1437.4,1728.3 1437.9,1729.1 1438.4,1728.9 1438.9,1729.9 1439.4,1729.8 1439.9,1730.3 1440.3,1730.1 1440.8,1730.7 1441.3,1731.2 1441.8,1730.7 1442.3,1731.6 1442.8,1731.7 1443.3,1731.3 1443.8,1732.4 1444.3,1731.8 1444.8,1732.5 1445.2,1732.9 1445.7,1732.8 1446.2,1733 1446.7,1733.6 1447.2,1733.7 1447.7,1733.6 1448.2,1733.9 1448.7,1734.3 1449.2,1734.7 1449.6,1735 1450.1,1734.9 1450.6,1734.6 1451.1,1734.8 1451.6,1735.1 1452.1,1734.9 1452.6,1735.5 1453.1,1735.8 1453.6,1736 1454.1,1735.4 1454.5,1736.8 1455,1736.2 1455.5,1736.3 1456,1736.5 1456.5,1736 1457,1736.5 1457.5,1736.8 1458,1737.5 1458.5,1737.1 1458.9,1737.6 1459.4,1737.6 1459.9,1737.8 1460.4,1738.2 1460.9,1737.8 1461.4,1737.7 1461.9,1737.9 1462.4,1738.2 1462.9,1739 1463.4,1738 1463.8,1738.1 1464.3,1738.8 1464.8,1739.1 1465.3,1739 1465.8,1739.6 1466.3,1739.4 1466.8,1740.2 1467.3,1740.2 1467.8,1740 1468.3,1740.5 1468.7,1740.3 1469.2,1740.2 1469.7,1740.8 1470.2,1740.1 1470.7,1740.7 1471.2,1740.5 1471.7,1740.5 1472.2,1740.9 1472.7,1740.9 1473.1,1741.4 1473.6,1741.2 1474.1,1741.3 1474.6,1740.5 1475.1,1740.9 1475.6,1741.8 1476.1,1741.4 1476.6,1741.7 1477.1,1742.1 1477.6,1741.9 1478,1741.9 1478.5,1742.4 1479,1742.3 1479.5,1742.1 1480,1742.4 1480.5,1742.2 1481,1742.4 1481.5,1742.8 1482,1743 1482.4,1742.9 1482.9,1742.7 1483.4,1742.8 1483.9,1743.3 1484.4,1742.8 1484.9,1743 1485.4,1742.9 1485.9,1743 1486.4,1744 1486.9,1743.7 1487.3,1743.9 1487.8,1744 1488.3,1743.2 1488.8,1743.5 1489.3,1744.4 1489.8,1743.9 1490.3,1744.2 1490.8,1743.8 1491.3,1744.3 1491.8,1744.5 1492.2,1744.5 1492.7,1744.6 1493.2,1744.9 1493.7,1745 1494.2,1745 1494.7,1745 1495.2,1745.6 1495.7,1745.2 1496.2,1745.4 1496.6,1745.8 1497.1,1745.5 1497.6,1746.2 1498.1,1746 1498.6,1746.4 1499.1,1746.1 1499.6,1746.3 1500.1,1746.2 1500.6,1746.3 1501.1,1747.1 1501.5,1746.4 1502,1746.8 1502.5,1746.8 1503,1747 1503.5,1746.8 1504,1746.9 1504.5,1746.6 1505,1747.2 1505.5,1747.5 1506,1747.5 1506.4,1747.3 1506.9,1747 1507.4,1747.6 1507.9,1747.9 1508.4,1747.8 1508.9,1748 1509.4,1748 1509.9,1748.3 1510.4,1749.3 1510.8,1748.8 1511.3,1748.3 1511.8,1748.8 1512.3,1749.7 1512.8,1749.2 1513.3,1749.8 1513.8,1748.6 1514.3,1749.4 1514.8,1750 1515.1,1749.7 1515.3,1689.9 1515.4,1646.6 1515.6,1616 1515.7,1595.5 1515.9,1583 1516,1574.8 1516.2,1568.6 1516.4,1563.7 1516.5,1559.6 1516.7,1556 1516.8,1552.6 1517,1549.2 1517.1,1545.9 1517.3,1542.7 1517.4,1539.6 1517.6,1536.8 1517.7,1534.1 1517.9,1531.7 1518,1529 1518.2,1527.2 1518.7,1522.4 1519.2,1520.1 1519.7,1517.8 1520.1,1516 1520.6,1514 1521.1,1513.1 1521.6,1511.5 1522.1,1511 1522.6,1509.7 1523.1,1508.9 1523.6,1507.9 1524.1,1507 1524.6,1506.6 1525,1506 1525.5,1506.1 1526,1504.5 1526.5,1504.6 1527,1503.9 1527.5,1503.6 1528,1502.4 1528.5,1502.5 1529,1501.5 1529.5,1500.9 1529.9,1500.3 1530.4,1500 1530.9,1499.7 1531.4,1500 1531.9,1498.6 1532.4,1498.2 1532.9,1498.1 1533.4,1497.7 1533.9,1497.9 1534.3,1497.7 1534.8,1496.8 1535.3,1496.3 1535.8,1496.8 1536.3,1495.7 1536.8,1495.5 1537.3,1494.9 1537.8,1494.8 1538.3,1494.2 1538.8,1493.8 1539.2,1493.7 1539.7,1494.2 1540.2,1493.2 1540.7,1493.3 1541.2,1493.5 1541.7,1492.7 1542.2,1493.3 1542.7,1492.2 1543.2,1491.8 1543.6,1492.4 1544.1,1491.8 1544.6,1491.6 1545.1,1491.3 1545.6,1491.8 1546.1,1490.8 1546.6,1490.9 1547.1,1490.4 1547.6,1490.5 1548.1,1489.9 1548.5,1490.3 1549,1490 1549.5,1489.7 1550,1490 1550.5,1489.5 1551,1489.7 1551.5,1489.3 1552,1489.6 1552.5,1488.9 1553,1488.7 1553.4,1489 1553.9,1488.6 1554.4,1488.7 1554.9,1489.2 1555.4,1488.5 1555.9,1488.1 1556.4,1488.8 1556.9,1489.1 1557.4,1488.4 1557.8,1488.5 1558.3,1487.5 1558.8,1488 1559.3,1487.8 1559.8,1487.8 1560.3,1487.4 1560.8,1487.6 1561.3,1487.6 1561.8,1487.2 1562.3,1487.5 1562.7,1486.8 1563.2,1487.6 1563.7,1487.1 1564.2,1487.4 1564.7,1487.7 1565.2,1486.5 1565.7,1487.8 1566.2,1486.5 1566.7,1487.4 1567.2,1486.7 1567.6,1485.8 1568.1,1487.3 1568.6,1486.8 1569.1,1485.8 1569.6,1486.3 1570.1,1486.5 1570.6,1486.3 1571.1,1486.5 1571.6,1485.9 1572,1485.3 1572.5,1486 1573,1485.6 1573.5,1485.2 1574,1484.9 1574.5,1486 1575,1485.6 1575.5,1485.7 1576,1485.8 1576.5,1485.8 1576.9,1485.8 1577.4,1486.1 1577.9,1486.2 1578.4,1485.7 1578.9,1485.3 1579.4,1484.9 1579.9,1485.6 1580.4,1485.2 1580.9,1484.9 1581.3,1484.8 1581.8,1485.1 1582.3,1485 1582.8,1484.1 1583.3,1485 1583.8,1485 1584.3,1485.3 1584.8,1484.5 1585.3,1484.7 1585.8,1483.8 1586.2,1484.5 1586.7,1484.1 1587.2,1484.1 1587.7,1483.7 1588.2,1484.7 1588.7,1483.6 1589.2,1484.2 1589.7,1484.1 1590.2,1484.1 1590.7,1484.1 1591.1,1484.1 1591.6,1484.9 1592.1,1483.9 1592.6,1484.1 1593.1,1484.4 1593.6,1484 1594.1,1483.1 1594.6,1483.6 1595.1,1483.8 1595.5,1483 1596,1483.9 1596.5,1483.7 1597,1483.8 1597.5,1483.8 1598,1483.4 1598.5,1483.2 1599,1483.6 1599.5,1483.4 1600,1483.2 1600.4,1483.3 1600.9,1483 1601.4,1483.2 1601.9,1483.3 1602.4,1482.9 1602.9,1483.3 1603.4,1482.8 1603.9,1483.1 1604.4,1483.4 1604.8,1483.3 1605.3,1483.3 1605.8,1483.1 1606.3,1483.1 1606.8,1483.1 1607.3,1483.5 1607.8,1482.6 1608.3,1482.7 1608.8,1483 1609.3,1482.6 1609.7,1482.8 1610.2,1482.9 1610.7,1482.7 1611.2,1481.7 1611.7,1482.2 1612.2,1482.1 1612.7,1482.7 1613.2,1482.2 1613.7,1481.8 1614.2,1482.3 1614.6,1482.2 1615.1,1482.2 1615.6,1482.3 1616.1,1481.9 1616.6,1482.4 1617.1,1482.3 1617.6,1482.6 1618.1,1481.2 1618.6,1482 1619,1482.1 1619.5,1481.6 1620,1482.4 1620.5,1482.2 1621,1482.6 1621.5,1482.4 1622,1482.5 1622.5,1482.2 1623,1482.4 1623.5,1482.5 1623.9,1482.3 1624.4,1482.3 1624.9,1482.4 1625.4,1481.8 1625.9,1481.8 1626.4,1482.2 1626.9,1482.7 1627.4,1482.1 1627.9,1482.7 1628.3,1482.3 1628.8,1482.3 1629.3,1482.4 1629.8,1482.6 1630.3,1482.4 1630.8,1481.4 1631.3,1482.1 1631.8,1482.2 1632.3,1481.8 1632.8,1481.8 1633.2,1481.6 1633.7,1482.5 1634.2,1482.4 1634.7,1480.6 1635.2,1482 1635.7,1482 1636.2,1482 1636.7,1481.7 1637.2,1482.5 1637.5,1481.9 1637.7,1504.6 1637.8,1524.4 1638,1541.9 1638.1,1557.7 1638.3,1572 1638.4,1585 1638.6,1598.1 1638.8,1611.1 1638.9,1623.2 1639.1,1633.6 1639.2,1641.9 1639.4,1648 1639.5,1652.8 1639.7,1657 1639.8,1660.9 1640,1664.3 1640.1,1667.5 1640.3,1670.4 1640.4,1673.8 1640.6,1675.3 1641.1,1681.6 1641.6,1686.4 1642.1,1689.8 1642.5,1692.4 1643,1693.7 1643.5,1696.1 1644,1698.2 1644.5,1699.4 1645,1700.1 1645.5,1700.9 1646,1702 1646.5,1702.9 1647,1703.7 1647.4,1705 1647.9,1705.1 1648.4,1706.1 1648.9,1706 1649.4,1706.7 1649.9,1706.8 1650.4,1707.3 1650.9,1708.4 1651.4,1707.9 1651.9,1708.4 1652.3,1709.7 1652.8,1709.6 1653.3,1709.7 1653.8,1710.6 1654.3,1710.6 1654.8,1711.3 1655.3,1711.2 1655.8,1711.7 1656.3,1712.1 1656.7,1712.2 1657.2,1712.3 1657.7,1712.7 1658.2,1713.4 1658.7,1714 1659.2,1714.2 1659.7,1714.5 1660.2,1714.4 1660.7,1714.9 1661.2,1715.5 1661.6,1715.7 1662.1,1715.9 1662.6,1715.8 1663.1,1716.4 1663.6,1717.3 1664.1,1717.2 1664.6,1717.9 1665.1,1718.2 1665.6,1718.6 1666,1719.1 1666.5,1719.8 1667,1720.4 1667.5,1719.8 1668,1719.8 1668.5,1720.8 1669,1720.6 1669.5,1721 1670,1721.1 1670.5,1721.7 1670.9,1721.7 1671.4,1721.9 1671.9,1722.9 1672.4,1722.4 1672.9,1722.7 1673.4,1723.7 1673.9,1722.9 1674.4,1723.4 1674.9,1723.7 1675.4,1724 1675.8,1724.6 1676.3,1725.1 1676.8,1725.2 1677.3,1725.5 1677.8,1724.8 1678.3,1725.2 1678.8,1726.3 1679.3,1726.5 1679.8,1726.4 1680.2,1726.7 1680.7,1727.3 1681.2,1727.6 1681.7,1726.7 1682.2,1727.4 1682.7,1728.7 1683.2,1728.9 1683.7,1728.8 1684.2,1728.7 1684.7,1728.9 1685.1,1729.3 1685.6,1730 1686.1,1729.5 1686.6,1729.8 1687.1,1730.3 1687.6,1730.6 1688.1,1730.4 1688.6,1730.8 1689.1,1731.4 1689.6,1731 1690,1731.6 1690.5,1731.1 1691,1731.4 1691.5,1732.1 1692,1731.9 1692.5,1731.8 1693,1733 1693.5,1732.6 1694,1732.2 1694.4,1733.6 1694.9,1733.2 1695.4,1734 1695.9,1733.6 1696.4,1734.6 1696.9,1734.5 1697.4,1734.3 1697.9,1734.3 1698.4,1734.2 1700.3,1734.4" fill="none" stroke="#8A97FC" stroke-width="4.8" stroke-linejoin="round" stroke-linecap="round"/>
<polyline points="718,1746.8 718.2,1746.9 718.3,1746.9 718.5,1746.9 718.6,1747 718.8,1747 718.9,1747 719.1,1747.1 719.2,1747.1 719.4,1747.1 719.5,1747.2 719.7,1747.2 719.8,1747.2 720,1747.3 720.1,1747.3 720.3,1747.3 720.4,1747.4 720.6,1747.4 720.8,1747.4 720.9,1747.5 721.1,1747.5 721.5,1747.6 722,1747.7 722.5,1747.8 723,1747.9 723.5,1748 724,1748.1 724.5,1748.2 725,1748.3 725.5,1748.4 726,1748.5 726.4,1748.6 726.9,1748.7 727.4,1748.8 727.9,1748.9 728.4,1749 728.9,1749.1 729.4,1749.2 729.9,1749.3 730.4,1749.3 730.9,1749.4 731.3,1749.5 731.8,1749.6 732.3,1749.7 732.8,1749.8 733.3,1749.9 733.8,1750 734.3,1750.1 734.8,1750.1 735.3,1750.2 735.7,1750.3 736.2,1750.4 736.7,1750.5 737.2,1750.6 737.7,1750.6 738.2,1750.7 738.7,1750.8 739.2,1750.9 739.7,1751 740.2,1751 740.6,1751.1 741.1,1751.2 741.6,1751.3 742.1,1751.4 742.6,1751.4 743.1,1751.5 743.6,1751.6 744.1,1751.7 744.6,1751.7 745.1,1751.8 745.5,1751.9 746,1752 746.5,1752 747,1752.1 747.5,1752.2 748,1752.2 748.5,1752.3 749,1752.4 749.5,1752.5 749.9,1752.5 750.4,1752.6 750.9,1752.7 751.4,1752.7 751.9,1752.8 752.4,1752.9 752.9,1752.9 753.4,1753 753.9,1753.1 754.4,1753.1 754.8,1753.2 755.3,1753.3 755.8,1753.3 756.3,1753.4 756.8,1753.5 757.3,1753.5 757.8,1753.6 758.3,1753.6 758.8,1753.7 759.2,1753.7 759.7,1753.8 760.2,1753.8 760.7,1753.9 761.2,1754 761.7,1754 762.2,1754 762.7,1754.1 763.2,1754.1 763.7,1754.2 764.1,1754.2 764.6,1754.3 765.1,1754.3 765.6,1754.4 766.1,1754.4 766.6,1754.5 767.1,1754.5 767.6,1754.6 768.1,1754.6 768.6,1754.7 769,1754.7 769.5,1754.8 770,1754.8 770.5,1754.9 771,1754.9 771.5,1755 772,1755 772.5,1755.1 773,1755.1 773.4,1755.2 773.9,1755.3 774.4,1755.3 774.9,1755.4 775.4,1755.5 775.9,1755.5 776.4,1755.6 776.9,1755.7 777.4,1755.8 777.9,1755.8 778.3,1755.9 778.8,1756.1 779.2,1756.1 779.4,1752.5 779.5,1749.4 779.7,1746.7 779.8,1744.3 780,1742.1 780.1,1740.1 780.3,1738.3 780.4,1736.6 780.6,1735 780.7,1733.5 780.9,1732.2 781,1730.9 781.2,1729.8 781.3,1728.7 781.5,1727.7 781.6,1726.8 781.8,1725.9 782,1725.1 782.1,1724.3 782.3,1723.6 782.7,1721.3 783.2,1719.4 783.7,1717.6 784.2,1716.1 784.7,1714.8 785.2,1713.5 785.7,1712.4 786.2,1711.5 786.7,1710.6 787.2,1709.8 787.6,1709.1 788.1,1708.5 788.6,1707.9 789.1,1707.4 789.6,1706.9 790.1,1706.4 790.6,1706 791.1,1705.6 791.6,1705.2 792.1,1704.9 792.5,1704.5 793,1704.2 793.5,1703.9 794,1703.6 794.5,1703.4 795,1703.1 795.5,1702.8 796,1702.6 796.5,1702.4 796.9,1702.1 797.4,1701.9 797.9,1701.7 798.4,1701.5 798.9,1701.3 799.4,1701.1 799.9,1700.9 800.4,1700.8 800.9,1700.6 801.4,1700.4 801.8,1700.2 802.3,1700.1 802.8,1699.9 803.3,1699.8 803.8,1699.6 804.3,1699.5 804.8,1699.3 805.3,1699.2 805.8,1699 806.3,1698.9 806.7,1698.7 807.2,1698.6 807.7,1698.5 808.2,1698.3 808.7,1698.2 809.2,1698.1 809.7,1698 810.2,1697.9 810.7,1697.8 811.1,1697.6 811.6,1697.5 812.1,1697.4 812.6,1697.3 813.1,1697.2 813.6,1697.1 814.1,1697 814.6,1696.9 815.1,1696.9 815.6,1696.8 816,1696.7 816.5,1696.6 817,1696.5 817.5,1696.4 818,1696.3 818.5,1696.2 819,1696.2 819.5,1696.1 820,1696 820.4,1695.9 820.9,1695.9 821.4,1695.8 821.9,1695.7 822.4,1695.6 822.9,1695.5 823.4,1695.5 823.9,1695.4 824.4,1695.3 824.9,1695.3 825.3,1695.2 825.8,1695.1 826.3,1695 826.8,1695 827.3,1694.9 827.8,1694.8 828.3,1694.8 828.8,1694.7 829.3,1694.6 829.8,1694.6 830.2,1694.5 830.7,1694.4 831.2,1694.4 831.7,1694.3 832.2,1694.2 832.7,1694.2 833.2,1694.1 833.7,1694 834.2,1694 834.6,1693.9 835.1,1693.8 835.6,1693.8 836.1,1693.7 836.6,1693.6 837.1,1693.6 837.6,1693.5 838.1,1693.4 838.6,1693.4 839.1,1693.3 839.5,1693.2 840,1693.2 840.5,1693.1 841,1693.1 841.5,1693 842,1692.9 842.5,1692.9 843,1692.8 843.5,1692.7 843.9,1692.7 844.4,1692.6 844.9,1692.6 845.4,1692.5 845.9,1692.4 846.4,1692.4 846.9,1692.3 847.4,1692.2 847.9,1692.2 848.4,1692.1 848.8,1692.1 849.3,1692 849.8,1691.9 850.3,1691.9 850.8,1691.8 851.3,1691.8 851.8,1691.7 852.3,1691.6 852.8,1691.6 853.3,1691.5 853.7,1691.5 854.2,1691.4 854.7,1691.4 855.2,1691.3 855.7,1691.2 856.2,1691.2 856.7,1691.1 857.2,1691.1 857.7,1691 858.1,1691 858.6,1690.9 859.1,1690.9 859.6,1690.8 860.1,1690.7 860.6,1690.7 861.1,1690.6 861.6,1690.6 862.1,1690.5 862.6,1690.5 863,1690.4 863.5,1690.4 864,1690.3 864.5,1690.3 865,1690.2 865.5,1690.1 866,1690.1 866.5,1690 867,1690 867.5,1689.9 867.9,1689.9 868.4,1689.8 868.9,1689.8 869.4,1689.7 869.9,1689.7 870.4,1689.6 870.9,1689.6 871.4,1689.5 871.9,1689.5 872.3,1689.4 872.8,1689.4 873.3,1689.3 873.8,1689.3 874.3,1689.2 874.8,1689.2 875.3,1689.1 875.8,1689.1 876.3,1689 876.8,1689 877.2,1688.9 877.7,1688.9 878.2,1688.8 878.7,1688.8 879.2,1688.7 879.7,1688.7 880.2,1688.6 880.7,1688.6 881.2,1688.5 881.6,1688.5 882.1,1688.4 882.6,1688.4 883.1,1688.4 883.6,1688.3 884.1,1688.3 884.6,1688.2 885.1,1688.2 885.6,1688.1 886.1,1688.1 886.5,1688 887,1688 887.5,1687.9 888,1687.9 888.5,1687.8 889,1687.8 889.5,1687.8 890,1687.7 890.5,1687.7 891,1687.6 891.4,1687.6 891.9,1687.5 892.4,1687.5 892.9,1687.4 893.4,1687.4 893.9,1687.4 894.4,1687.3 894.9,1687.3 895.4,1687.2 895.8,1687.2 896.3,1687.1 896.8,1687.1 897.3,1687.1 897.8,1687 898.3,1687 898.8,1686.9 899.3,1686.9 899.8,1686.8 900.3,1686.8 900.7,1686.8 901.2,1686.7 901.6,1686.7 901.8,1689 901.9,1691 902.1,1692.8 902.2,1694.3 902.4,1695.7 902.5,1697 902.7,1698.1 902.8,1699.2 903,1700.2 903.1,1701.1 903.3,1702 903.4,1702.8 903.6,1703.6 903.7,1704.4 903.9,1705.1 904,1705.8 904.2,1706.4 904.4,1707 904.5,1707.6 904.7,1708.2 905.1,1709.9 905.6,1711.4 906.1,1712.8 906.6,1714 907.1,1715.2 907.6,1716.3 908.1,1717.3 908.6,1718.3 909.1,1719.2 909.6,1720 910,1720.8 910.5,1721.6 911,1722.4 911.5,1723.1 912,1723.8 912.5,1724.4 913,1725 913.5,1725.6 914,1726.2 914.5,1726.8 914.9,1727.3 915.4,1727.9 915.9,1728.4 916.4,1728.9 916.9,1729.4 917.4,1729.9 917.9,1730.4 918.4,1730.9 918.9,1731.4 919.3,1731.8 919.8,1732.3 920.3,1732.7 920.8,1733.1 921.3,1733.5 921.8,1733.9 922.3,1734.3 922.8,1734.7 923.3,1735.1 923.8,1735.4 924.2,1735.8 924.7,1736.1 925.2,1736.5 925.7,1736.8 926.2,1737.1 926.7,1737.4 927.2,1737.7 927.7,1738 928.2,1738.3 928.7,1738.6 929.1,1738.8 929.6,1739.1 930.1,1739.4 930.6,1739.6 931.1,1739.9 931.6,1740.1 932.1,1740.3 932.6,1740.6 933.1,1740.8 933.5,1741 934,1741.2 934.5,1741.4 935,1741.6 935.5,1741.8 936,1742 936.5,1742.2 937,1742.4 937.5,1742.6 938,1742.8 938.4,1743 938.9,1743.2 939.4,1743.3 939.9,1743.5 940.4,1743.7 940.9,1743.8 941.4,1744 941.9,1744.2 942.4,1744.3 942.8,1744.5 943.3,1744.7 943.8,1744.8 944.3,1745 944.8,1745.1 945.3,1745.3 945.8,1745.4 946.3,1745.6 946.8,1745.7 947.3,1745.8 947.7,1746 948.2,1746.1 948.7,1746.2 949.2,1746.4 949.7,1746.5 950.2,1746.6 950.7,1746.8 951.2,1746.9 951.7,1747 952.2,1747.1 952.6,1747.3 953.1,1747.4 953.6,1747.5 954.1,1747.6 954.6,1747.7 955.1,1747.9 955.6,1748 956.1,1748.1 956.6,1748.2 957,1748.3 957.5,1748.4 958,1748.5 958.5,1748.6 959,1748.7 959.5,1748.8 960,1748.9 960.5,1749 961,1749.1 961.5,1749.2 961.9,1749.3 962.4,1749.4 962.9,1749.5 963.4,1749.6 963.9,1749.7 964.4,1749.8 964.9,1749.9 965.4,1750 965.9,1750.1 966.3,1750.2 966.8,1750.3 967.3,1750.4 967.8,1750.4 968.3,1750.5 968.8,1750.6 969.3,1750.7 969.8,1750.8 970.3,1750.9 970.8,1751 971.2,1751 971.7,1751.1 972.2,1751.2 972.7,1751.3 973.2,1751.4 973.7,1751.4 974.2,1751.5 974.7,1751.6 975.2,1751.7 975.7,1751.7 976.1,1751.8 976.6,1751.9 977.1,1752 977.6,1752 978.1,1752.1 978.6,1752.2 979.1,1752.2 979.6,1752.3 980.1,1752.4 980.5,1752.5 981,1752.5 981.5,1752.6 982,1752.7 982.5,1752.7 983,1752.8 983.5,1752.9 984,1752.9 984.5,1753 985,1753 985.4,1753.1 985.9,1753.2 986.4,1753.2 986.9,1753.3 987.4,1753.4 987.9,1753.4 988.4,1753.5 988.9,1753.5 989.4,1753.6 989.9,1753.7 990.3,1753.7 990.8,1753.8 991.3,1753.8 991.8,1753.9 992.3,1753.9 992.8,1754 993.3,1754 993.8,1754.1 994.3,1754.2 994.7,1754.2 995.2,1754.3 995.7,1754.3 996.2,1754.4 996.7,1754.4 997.2,1754.5 997.7,1754.5 998.2,1754.6 998.7,1754.6 999.2,1754.7 999.6,1754.7 1000.1,1754.8 1000.6,1754.8 1001.1,1754.9 1001.6,1754.9 1002.1,1755 1002.6,1755 1003.1,1755.1 1003.6,1755.1 1004,1755.2 1004.5,1755.2 1005,1755.3 1005.5,1755.3 1006,1755.4 1006.5,1755.4 1007,1755.4 1007.5,1755.5 1008,1755.5 1008.5,1755.6 1008.9,1755.6 1009.4,1755.7 1009.9,1755.7 1010.4,1755.8 1010.9,1755.8 1011.4,1755.8 1011.9,1755.9 1012.4,1755.9 1012.9,1756 1013.4,1756 1013.8,1756.1 1014.3,1756.1 1014.8,1756.1 1015.3,1756.2 1015.8,1756.2 1016.3,1756.3 1016.8,1756.3 1017.3,1756.3 1017.8,1756.4 1018.2,1756.4 1018.7,1756.5 1019.2,1756.5 1019.7,1756.5 1020.2,1756.6 1020.7,1756.6 1021.2,1756.6 1021.7,1756.7 1022.2,1756.7 1022.7,1756.8 1023.1,1756.8 1023.6,1756.8 1024,1756.9 1024.2,1753.2 1024.3,1750.3 1024.5,1747.7 1024.6,1745.5 1024.8,1743.6 1024.9,1741.9 1025.1,1740.4 1025.2,1739 1025.4,1737.7 1025.5,1736.5 1025.7,1735.4 1025.8,1734.3 1026,1733.4 1026.1,1732.5 1026.3,1731.6 1026.4,1730.8 1026.6,1730 1026.8,1729.3 1026.9,1728.5 1027.1,1727.9 1027.5,1725.8 1028,1724 1028.5,1722.3 1029,1720.7 1029.5,1719.3 1030,1717.9 1030.5,1716.6 1031,1715.5 1031.5,1714.4 1032,1713.4 1032.4,1712.5 1032.9,1711.7 1033.4,1710.9 1033.9,1710.1 1034.4,1709.5 1034.9,1708.8 1035.4,1708.2 1035.9,1707.7 1036.4,1707.2 1036.9,1706.7 1037.3,1706.3 1037.8,1705.9 1038.3,1705.5 1038.8,1705.1 1039.3,1704.8 1039.8,1704.4 1040.3,1704.1 1040.8,1703.8 1041.3,1703.4 1041.7,1703.2 1042.2,1702.9 1042.7,1702.6 1043.2,1702.3 1043.7,1702.1 1044.2,1701.8 1044.7,1701.6 1045.2,1701.4 1045.7,1701.2 1046.2,1701 1046.6,1700.8 1047.1,1700.6 1047.6,1700.4 1048.1,1700.2 1048.6,1700 1049.1,1699.8 1049.6,1699.7 1050.1,1699.5 1050.6,1699.4 1051.1,1699.2 1051.5,1699.1 1052,1698.9 1052.5,1698.8 1053,1698.7 1053.5,1698.6 1054,1698.4 1054.5,1698.3 1055,1698.2 1055.5,1698.1 1055.9,1698 1056.4,1697.9 1056.9,1697.8 1057.4,1697.7 1057.9,1697.6 1058.4,1697.5 1058.9,1697.4 1059.4,1697.4 1059.9,1697.3 1060.4,1697.2 1060.8,1697.2 1061.3,1697.1 1061.8,1697 1062.3,1697 1062.8,1696.9 1063.3,1696.8 1063.8,1696.8 1064.3,1696.7 1064.8,1696.7 1065.2,1696.6 1065.7,1696.6 1066.2,1696.5 1066.7,1696.4 1067.2,1696.4 1067.7,1696.3 1068.2,1696.3 1068.7,1696.2 1069.2,1696.2 1069.7,1696.2 1070.1,1696.1 1070.6,1696.1 1071.1,1696 1071.6,1696 1072.1,1695.9 1072.6,1695.9 1073.1,1695.8 1073.6,1695.8 1074.1,1695.7 1074.6,1695.7 1075,1695.6 1075.5,1695.6 1076,1695.5 1076.5,1695.5 1077,1695.4 1077.5,1695.4 1078,1695.4 1078.5,1695.3 1079,1695.3 1079.4,1695.2 1079.9,1695.2 1080.4,1695.1 1080.9,1695.1 1081.4,1695 1081.9,1695 1082.4,1694.9 1082.9,1694.9 1083.4,1694.8 1083.9,1694.8 1084.3,1694.7 1084.8,1694.7 1085.3,1694.6 1085.8,1694.6 1086.3,1694.5 1086.8,1694.4 1087.3,1694.4 1087.8,1694.3 1088.3,1694.3 1088.7,1694.2 1089.2,1694.2 1089.7,1694.1 1090.2,1694.1 1090.7,1694 1091.2,1693.9 1091.7,1693.9 1092.2,1693.8 1092.7,1693.8 1093.2,1693.7 1093.6,1693.6 1094.1,1693.6 1094.6,1693.5 1095.1,1693.4 1095.6,1693.4 1096.1,1693.3 1096.6,1693.2 1097.1,1693.2 1097.6,1693.1 1098.1,1693 1098.5,1693 1099,1692.9 1099.5,1692.8 1100,1692.8 1100.5,1692.7 1101,1692.6 1101.5,1692.5 1102,1692.5 1102.5,1692.4 1102.9,1692.3 1103.4,1692.2 1103.9,1692.2 1104.4,1692.1 1104.9,1692 1105.4,1691.9 1105.9,1691.8 1106.4,1691.8 1106.9,1691.7 1107.4,1691.6 1107.8,1691.5 1108.3,1691.4 1108.8,1691.4 1109.3,1691.3 1109.8,1691.2 1110.3,1691.1 1110.8,1691 1111.3,1691 1111.8,1690.9 1112.3,1690.8 1112.7,1690.7 1113.2,1690.6 1113.7,1690.6 1114.2,1690.5 1114.7,1690.4 1115.2,1690.3 1115.7,1690.2 1116.2,1690.2 1116.7,1690.1 1117.1,1690 1117.6,1689.9 1118.1,1689.8 1118.6,1689.7 1119.1,1689.7 1119.6,1689.6 1120.1,1689.5 1120.6,1689.4 1121.1,1689.3 1121.6,1689.3 1122,1689.2 1122.5,1689.1 1123,1689 1123.5,1688.9 1124,1688.8 1124.5,1688.8 1125,1688.7 1125.5,1688.6 1126,1688.5 1126.4,1688.4 1126.9,1688.4 1127.4,1688.3 1127.9,1688.2 1128.4,1688.1 1128.9,1688 1129.4,1688 1129.9,1687.9 1130.4,1687.8 1130.9,1687.7 1131.3,1687.6 1131.8,1687.6 1132.3,1687.5 1132.8,1687.4 1133.3,1687.3 1133.8,1687.2 1134.3,1687.2 1134.8,1687.1 1135.3,1687 1135.8,1686.9 1136.2,1686.8 1136.7,1686.8 1137.2,1686.7 1137.7,1686.6 1138.2,1686.5 1138.7,1686.5 1139.2,1686.4 1139.7,1686.3 1140.2,1686.2 1140.6,1686.1 1141.1,1686.1 1141.6,1686 1142.1,1685.9 1142.6,1685.8 1143.1,1685.8 1143.6,1685.7 1144.1,1685.6 1144.6,1685.5 1145.1,1685.5 1145.5,1685.4 1146,1685.3 1146.4,1685.3 1146.6,1687.4 1146.7,1689.3 1146.9,1691 1147,1692.4 1147.2,1693.7 1147.3,1694.9 1147.5,1696 1147.6,1697.1 1147.8,1698 1147.9,1698.9 1148.1,1699.7 1148.2,1700.5 1148.4,1701.3 1148.5,1702 1148.7,1702.7 1148.8,1703.3 1149,1703.9 1149.2,1704.5 1149.3,1705.1 1149.5,1705.7 1149.9,1707.3 1150.4,1708.8 1150.9,1710.2 1151.4,1711.5 1151.9,1712.6 1152.4,1713.7 1152.9,1714.7 1153.4,1715.7 1153.9,1716.6 1154.4,1717.4 1154.8,1718.2 1155.3,1719 1155.8,1719.7 1156.3,1720.4 1156.8,1721 1157.3,1721.6 1157.8,1722.2 1158.3,1722.8 1158.8,1723.4 1159.3,1723.9 1159.7,1724.4 1160.2,1724.9 1160.7,1725.4 1161.2,1725.8 1161.7,1726.3 1162.2,1726.7 1162.7,1727.1 1163.2,1727.5 1163.7,1727.9 1164.1,1728.3 1164.6,1728.7 1165.1,1729 1165.6,1729.4 1166.1,1729.7 1166.6,1730.1 1167.1,1730.4 1167.6,1730.7 1168.1,1731 1168.6,1731.3 1169,1731.6 1169.5,1731.9 1170,1732.2 1170.5,1732.4 1171,1732.7 1171.5,1732.9 1172,1733.2 1172.5,1733.4 1173,1733.7 1173.5,1733.9 1173.9,1734.2 1174.4,1734.4 1174.9,1734.6 1175.4,1734.8 1175.9,1735.1 1176.4,1735.3 1176.9,1735.5 1177.4,1735.7 1177.9,1735.9 1178.3,1736.1 1178.8,1736.3 1179.3,1736.5 1179.8,1736.7 1180.3,1736.9 1180.8,1737.1 1181.3,1737.3 1181.8,1737.5 1182.3,1737.6 1182.8,1737.8 1183.2,1738 1183.7,1738.2 1184.2,1738.3 1184.7,1738.5 1185.2,1738.7 1185.7,1738.9 1186.2,1739 1186.7,1739.2 1187.2,1739.4 1187.6,1739.5 1188.1,1739.7 1188.6,1739.8 1189.1,1740 1189.6,1740.2 1190.1,1740.3 1190.6,1740.5 1191.1,1740.6 1191.6,1740.8 1192.1,1740.9 1192.5,1741.1 1193,1741.2 1193.5,1741.4 1194,1741.5 1194.5,1741.7 1195,1741.8 1195.5,1742 1196,1742.1 1196.5,1742.2 1197,1742.4 1197.4,1742.5 1197.9,1742.7 1198.4,1742.8 1198.9,1742.9 1199.4,1743.1 1199.9,1743.2 1200.4,1743.3 1200.9,1743.5 1201.4,1743.6 1201.8,1743.7 1202.3,1743.9 1202.8,1744 1203.3,1744.1 1203.8,1744.3 1204.3,1744.4 1204.8,1744.5 1205.3,1744.6 1205.8,1744.8 1206.3,1744.9 1206.7,1745 1207.2,1745.2 1207.7,1745.3 1208.2,1745.4 1208.7,1745.5 1209.2,1745.6 1209.7,1745.8 1210.2,1745.9 1210.7,1746 1211.1,1746.1 1211.6,1746.3 1212.1,1746.4 1212.6,1746.5 1213.1,1746.6 1213.6,1746.7 1214.1,1746.8 1214.6,1747 1215.1,1747.1 1215.6,1747.2 1216,1747.3 1216.5,1747.4 1217,1747.5 1217.5,1747.6 1218,1747.8 1218.5,1747.9 1219,1748 1219.5,1748.1 1220,1748.2 1220.5,1748.3 1220.9,1748.4 1221.4,1748.5 1221.9,1748.6 1222.4,1748.7 1222.9,1748.8 1223.4,1748.9 1223.9,1749 1224.4,1749.2 1224.9,1749.3 1225.3,1749.4 1225.8,1749.5 1226.3,1749.6 1226.8,1749.7 1227.3,1749.8 1227.8,1749.9 1228.3,1750 1228.8,1750.1 1229.3,1750.2 1229.8,1750.3 1230.2,1750.4 1230.7,1750.5 1231.2,1750.6 1231.7,1750.7 1232.2,1750.8 1232.7,1750.9 1233.2,1751 1233.7,1751 1234.2,1751.1 1234.7,1751.2 1235.1,1751.3 1235.6,1751.4 1236.1,1751.5 1236.6,1751.6 1237.1,1751.7 1237.6,1751.8 1238.1,1751.9 1238.6,1752 1239.1,1752.1 1239.5,1752.2 1240,1752.2 1240.5,1752.3 1241,1752.4 1241.5,1752.5 1242,1752.6 1242.5,1752.7 1243,1752.8 1243.5,1752.9 1244,1752.9 1244.4,1753 1244.9,1753.1 1245.4,1753.2 1245.9,1753.3 1246.4,1753.4 1246.9,1753.5 1247.4,1753.5 1247.9,1753.6 1248.4,1753.7 1248.8,1753.8 1249.3,1753.9 1249.8,1753.9 1250.3,1754 1250.8,1754.1 1251.3,1754.2 1251.8,1754.3 1252.3,1754.4 1252.8,1754.4 1253.3,1754.5 1253.7,1754.6 1254.2,1754.7 1254.7,1754.7 1255.2,1754.8 1255.7,1754.9 1256.2,1755 1256.7,1755.1 1257.2,1755.1 1257.7,1755.2 1258.2,1755.3 1258.6,1755.4 1259.1,1755.4 1259.6,1755.5 1260.1,1755.6 1260.6,1755.7 1261.1,1755.7 1261.6,1755.8 1262.1,1755.9 1262.6,1755.9 1263,1756 1263.5,1756.1 1264,1756.2 1264.5,1756.2 1265,1756.3 1265.5,1756.4 1266,1756.4 1266.5,1756.5 1267,1756.6 1267.5,1756.7 1267.9,1756.7 1268.4,1756.8 1268.8,1756.9 1269,1753.7 1269.1,1750.8 1269.3,1748.2 1269.4,1745.8 1269.6,1743.5 1269.7,1741.3 1269.9,1739 1270,1736.9 1270.2,1734.9 1270.3,1733 1270.5,1731.3 1270.6,1729.8 1270.8,1728.4 1270.9,1727.2 1271.1,1726.2 1271.2,1725.4 1271.4,1724.6 1271.6,1723.9 1271.7,1723.3 1271.9,1722.6 1272.3,1721 1272.8,1719.6 1273.3,1718.4 1273.8,1717.3 1274.3,1716.4 1274.8,1715.6 1275.3,1714.9 1275.8,1714.2 1276.3,1713.5 1276.8,1713 1277.2,1712.4 1277.7,1711.9 1278.2,1711.4 1278.7,1710.9 1279.2,1710.5 1279.7,1710 1280.2,1709.6 1280.7,1709.2 1281.2,1708.8 1281.7,1708.5 1282.1,1708.1 1282.6,1707.8 1283.1,1707.5 1283.6,1707.2 1284.1,1706.9 1284.6,1706.6 1285.1,1706.3 1285.6,1706 1286.1,1705.8 1286.5,1705.6 1287,1705.3 1287.5,1705.1 1288,1704.9 1288.5,1704.7 1289,1704.5 1289.5,1704.3 1290,1704.1 1290.5,1703.9 1291,1703.7 1291.4,1703.5 1291.9,1703.4 1292.4,1703.2 1292.9,1703 1293.4,1702.9 1293.9,1702.7 1294.4,1702.6 1294.9,1702.4 1295.4,1702.3 1295.9,1702.2 1296.3,1702.1 1296.8,1701.9 1297.3,1701.8 1297.8,1701.7 1298.3,1701.6 1298.8,1701.5 1299.3,1701.4 1299.8,1701.3 1300.3,1701.2 1300.7,1701.1 1301.2,1701 1301.7,1700.9 1302.2,1700.8 1302.7,1700.7 1303.2,1700.6 1303.7,1700.6 1304.2,1700.5 1304.7,1700.4 1305.2,1700.3 1305.6,1700.3 1306.1,1700.2 1306.6,1700.1 1307.1,1700 1307.6,1700 1308.1,1699.9 1308.6,1699.8 1309.1,1699.7 1309.6,1699.7 1310,1699.6 1310.5,1699.5 1311,1699.5 1311.5,1699.4 1312,1699.3 1312.5,1699.3 1313,1699.2 1313.5,1699.1 1314,1699.1 1314.5,1699 1314.9,1699 1315.4,1698.9 1315.9,1698.8 1316.4,1698.8 1316.9,1698.7 1317.4,1698.6 1317.9,1698.6 1318.4,1698.5 1318.9,1698.5 1319.4,1698.4 1319.8,1698.3 1320.3,1698.3 1320.8,1698.2 1321.3,1698.1 1321.8,1698.1 1322.3,1698 1322.8,1698 1323.3,1697.9 1323.8,1697.8 1324.2,1697.8 1324.7,1697.7 1325.2,1697.7 1325.7,1697.6 1326.2,1697.5 1326.7,1697.5 1327.2,1697.4 1327.7,1697.4 1328.2,1697.3 1328.7,1697.2 1329.1,1697.2 1329.6,1697.1 1330.1,1697 1330.6,1697 1331.1,1696.9 1331.6,1696.9 1332.1,1696.8 1332.6,1696.7 1333.1,1696.7 1333.5,1696.6 1334,1696.6 1334.5,1696.5 1335,1696.4 1335.5,1696.4 1336,1696.3 1336.5,1696.2 1337,1696.2 1337.5,1696.1 1338,1696 1338.4,1696 1338.9,1695.9 1339.4,1695.9 1339.9,1695.8 1340.4,1695.7 1340.9,1695.7 1341.4,1695.6 1341.9,1695.5 1342.4,1695.5 1342.9,1695.4 1343.3,1695.3 1343.8,1695.3 1344.3,1695.2 1344.8,1695.1 1345.3,1695.1 1345.8,1695 1346.3,1694.9 1346.8,1694.9 1347.3,1694.8 1347.7,1694.7 1348.2,1694.6 1348.7,1694.6 1349.2,1694.5 1349.7,1694.4 1350.2,1694.3 1350.7,1694.3 1351.2,1694.2 1351.7,1694.1 1352.2,1694.1 1352.6,1694 1353.1,1693.9 1353.6,1693.8 1354.1,1693.8 1354.6,1693.7 1355.1,1693.6 1355.6,1693.5 1356.1,1693.4 1356.6,1693.4 1357.1,1693.3 1357.5,1693.2 1358,1693.1 1358.5,1693.1 1359,1693 1359.5,1692.9 1360,1692.8 1360.5,1692.8 1361,1692.7 1361.5,1692.6 1361.9,1692.5 1362.4,1692.4 1362.9,1692.4 1363.4,1692.3 1363.9,1692.2 1364.4,1692.1 1364.9,1692.1 1365.4,1692 1365.9,1691.9 1366.4,1691.8 1366.8,1691.7 1367.3,1691.7 1367.8,1691.6 1368.3,1691.5 1368.8,1691.4 1369.3,1691.4 1369.8,1691.3 1370.3,1691.2 1370.8,1691.1 1371.2,1691.1 1371.7,1691 1372.2,1690.9 1372.7,1690.8 1373.2,1690.8 1373.7,1690.7 1374.2,1690.6 1374.7,1690.5 1375.2,1690.5 1375.7,1690.4 1376.1,1690.3 1376.6,1690.2 1377.1,1690.2 1377.6,1690.1 1378.1,1690 1378.6,1689.9 1379.1,1689.9 1379.6,1689.8 1380.1,1689.7 1380.6,1689.6 1381,1689.6 1381.5,1689.5 1382,1689.4 1382.5,1689.4 1383,1689.3 1383.5,1689.2 1384,1689.1 1384.5,1689.1 1385,1689 1385.4,1688.9 1385.9,1688.9 1386.4,1688.8 1386.9,1688.7 1387.4,1688.7 1387.9,1688.6 1388.4,1688.5 1388.9,1688.4 1389.4,1688.4 1389.9,1688.3 1390.3,1688.2 1390.8,1688.2 1391.2,1688.1 1391.4,1689.4 1391.5,1690.6 1391.7,1691.8 1391.8,1692.8 1392,1693.8 1392.1,1694.8 1392.3,1695.6 1392.4,1696.5 1392.6,1697.3 1392.7,1698 1392.9,1698.7 1393,1699.4 1393.2,1700 1393.3,1700.6 1393.5,1701.2 1393.6,1701.8 1393.8,1702.4 1394,1702.9 1394.1,1703.4 1394.3,1703.9 1394.7,1705.4 1395.2,1706.9 1395.7,1708.3 1396.2,1709.6 1396.7,1710.9 1397.2,1712.1 1397.7,1713.3 1398.2,1714.4 1398.7,1715.4 1399.2,1716.4 1399.6,1717.3 1400.1,1718.2 1400.6,1719 1401.1,1719.8 1401.6,1720.6 1402.1,1721.3 1402.6,1722 1403.1,1722.7 1403.6,1723.3 1404.1,1723.9 1404.5,1724.5 1405,1725 1405.5,1725.6 1406,1726.1 1406.5,1726.6 1407,1727 1407.5,1727.5 1408,1727.9 1408.5,1728.3 1408.9,1728.7 1409.4,1729.1 1409.9,1729.5 1410.4,1729.9 1410.9,1730.2 1411.4,1730.6 1411.9,1730.9 1412.4,1731.2 1412.9,1731.5 1413.4,1731.9 1413.8,1732.2 1414.3,1732.5 1414.8,1732.8 1415.3,1733 1415.8,1733.3 1416.3,1733.6 1416.8,1733.9 1417.3,1734.1 1417.8,1734.4 1418.3,1734.7 1418.7,1734.9 1419.2,1735.1 1419.7,1735.4 1420.2,1735.6 1420.7,1735.9 1421.2,1736.1 1421.7,1736.3 1422.2,1736.5 1422.7,1736.8 1423.1,1737 1423.6,1737.2 1424.1,1737.4 1424.6,1737.6 1425.1,1737.8 1425.6,1738 1426.1,1738.2 1426.6,1738.4 1427.1,1738.6 1427.6,1738.8 1428,1739 1428.5,1739.2 1429,1739.3 1429.5,1739.5 1430,1739.7 1430.5,1739.9 1431,1740.1 1431.5,1740.2 1432,1740.4 1432.4,1740.6 1432.9,1740.7 1433.4,1740.9 1433.9,1741.1 1434.4,1741.2 1434.9,1741.4 1435.4,1741.5 1435.9,1741.7 1436.4,1741.8 1436.9,1742 1437.3,1742.1 1437.8,1742.2 1438.3,1742.4 1438.8,1742.5 1439.3,1742.6 1439.8,1742.8 1440.3,1742.9 1440.8,1743 1441.3,1743.1 1441.8,1743.2 1442.2,1743.3 1442.7,1743.4 1443.2,1743.5 1443.7,1743.6 1444.2,1743.7 1444.7,1743.8 1445.2,1743.9 1445.7,1744 1446.2,1744.1 1446.6,1744.2 1447.1,1744.3 1447.6,1744.4 1448.1,1744.5 1448.6,1744.6 1449.1,1744.7 1449.6,1744.8 1450.1,1744.9 1450.6,1745 1451.1,1745 1451.5,1745.1 1452,1745.2 1452.5,1745.3 1453,1745.4 1453.5,1745.5 1454,1745.5 1454.5,1745.6 1455,1745.7 1455.5,1745.8 1455.9,1745.9 1456.4,1745.9 1456.9,1746 1457.4,1746.1 1457.9,1746.2 1458.4,1746.3 1458.9,1746.3 1459.4,1746.4 1459.9,1746.5 1460.4,1746.6 1460.8,1746.7 1461.3,1746.7 1461.8,1746.8 1462.3,1746.9 1462.8,1747 1463.3,1747 1463.8,1747.1 1464.3,1747.2 1464.8,1747.3 1465.3,1747.4 1465.7,1747.4 1466.2,1747.5 1466.7,1747.6 1467.2,1747.7 1467.7,1747.8 1468.2,1747.8 1468.7,1747.9 1469.2,1748 1469.7,1748.1 1470.1,1748.1 1470.6,1748.2 1471.1,1748.3 1471.6,1748.4 1472.1,1748.5 1472.6,1748.6 1473.1,1748.6 1473.6,1748.7 1474.1,1748.8 1474.6,1748.9 1475,1749 1475.5,1749 1476,1749.1 1476.5,1749.2 1477,1749.3 1477.5,1749.4 1478,1749.5 1478.5,1749.5 1479,1749.6 1479.5,1749.7 1479.9,1749.8 1480.4,1749.9 1480.9,1750 1481.4,1750.1 1481.9,1750.1 1482.4,1750.2 1482.9,1750.3 1483.4,1750.4 1483.9,1750.5 1484.3,1750.6 1484.8,1750.7 1485.3,1750.8 1485.8,1750.9 1486.3,1750.9 1486.8,1751 1487.3,1751.1 1487.8,1751.2 1488.3,1751.3 1488.8,1751.4 1489.2,1751.5 1489.7,1751.6 1490.2,1751.7 1490.7,1751.8 1491.2,1751.9 1491.7,1752 1492.2,1752.1 1492.7,1752.2 1493.2,1752.2 1493.6,1752.3 1494.1,1752.4 1494.6,1752.5 1495.1,1752.6 1495.6,1752.7 1496.1,1752.8 1496.6,1752.9 1497.1,1753 1497.6,1753.1 1498.1,1753.2 1498.5,1753.3 1499,1753.4 1499.5,1753.5 1500,1753.6 1500.5,1753.7 1501,1753.8 1501.5,1753.9 1502,1754 1502.5,1754.1 1503,1754.2 1503.4,1754.3 1503.9,1754.4 1504.4,1754.5 1504.9,1754.6 1505.4,1754.8 1505.9,1754.9 1506.4,1755 1506.9,1755.1 1507.4,1755.2 1507.8,1755.3 1508.3,1755.4 1508.8,1755.5 1509.3,1755.6 1509.8,1755.7 1510.3,1755.8 1510.8,1755.9 1511.3,1756 1511.8,1756.1 1512.3,1756.3 1512.7,1756.5 1513.2,1756.7 1513.6,1756.9 1513.8,1753.7 1513.9,1750.8 1514.1,1748.2 1514.2,1745.8 1514.4,1743.5 1514.5,1741.3 1514.7,1739.1 1514.8,1737 1515,1735 1515.1,1733.2 1515.3,1731.5 1515.4,1729.9 1515.6,1728.6 1515.7,1727.4 1515.9,1726.3 1516,1725.4 1516.2,1724.5 1516.4,1723.7 1516.5,1723 1516.7,1722.3 1517.1,1720.4 1517.6,1718.7 1518.1,1717.3 1518.6,1716 1519.1,1714.9 1519.6,1713.9 1520.1,1713 1520.6,1712.2 1521.1,1711.4 1521.6,1710.7 1522,1710.1 1522.5,1709.5 1523,1708.9 1523.5,1708.4 1524,1707.9 1524.5,1707.4 1525,1707 1525.5,1706.5 1526,1706.1 1526.5,1705.7 1526.9,1705.4 1527.4,1705 1527.9,1704.7 1528.4,1704.4 1528.9,1704.1 1529.4,1703.8 1529.9,1703.5 1530.4,1703.3 1530.9,1703 1531.3,1702.8 1531.8,1702.6 1532.3,1702.3 1532.8,1702.1 1533.3,1701.9 1533.8,1701.7 1534.3,1701.5 1534.8,1701.3 1535.3,1701.1 1535.8,1700.9 1536.2,1700.7 1536.7,1700.6 1537.2,1700.4 1537.7,1700.2 1538.2,1700.1 1538.7,1699.9 1539.2,1699.7 1539.7,1699.6 1540.2,1699.4 1540.7,1699.3 1541.1,1699.2 1541.6,1699 1542.1,1698.9 1542.6,1698.7 1543.1,1698.6 1543.6,1698.5 1544.1,1698.3 1544.6,1698.2 1545.1,1698.1 1545.5,1698 1546,1697.8 1546.5,1697.7 1547,1697.6 1547.5,1697.5 1548,1697.4 1548.5,1697.3 1549,1697.1 1549.5,1697 1550,1696.9 1550.4,1696.8 1550.9,1696.7 1551.4,1696.6 1551.9,1696.5 1552.4,1696.4 1552.9,1696.3 1553.4,1696.2 1553.9,1696.1 1554.4,1696 1554.8,1695.9 1555.3,1695.8 1555.8,1695.8 1556.3,1695.7 1556.8,1695.6 1557.3,1695.5 1557.8,1695.4 1558.3,1695.3 1558.8,1695.2 1559.3,1695.2 1559.7,1695.1 1560.2,1695 1560.7,1694.9 1561.2,1694.8 1561.7,1694.8 1562.2,1694.7 1562.7,1694.6 1563.2,1694.5 1563.7,1694.4 1564.2,1694.4 1564.6,1694.3 1565.1,1694.2 1565.6,1694.2 1566.1,1694.1 1566.6,1694 1567.1,1693.9 1567.6,1693.9 1568.1,1693.8 1568.6,1693.7 1569,1693.7 1569.5,1693.6 1570,1693.5 1570.5,1693.5 1571,1693.4 1571.5,1693.4 1572,1693.3 1572.5,1693.2 1573,1693.2 1573.5,1693.1 1573.9,1693 1574.4,1693 1574.9,1692.9 1575.4,1692.9 1575.9,1692.8 1576.4,1692.7 1576.9,1692.7 1577.4,1692.6 1577.9,1692.6 1578.3,1692.5 1578.8,1692.5 1579.3,1692.4 1579.8,1692.4 1580.3,1692.3 1580.8,1692.3 1581.3,1692.2 1581.8,1692.1 1582.3,1692.1 1582.8,1692 1583.2,1692 1583.7,1691.9 1584.2,1691.9 1584.7,1691.8 1585.2,1691.8 1585.7,1691.7 1586.2,1691.7 1586.7,1691.6 1587.2,1691.6 1587.7,1691.5 1588.1,1691.5 1588.6,1691.5 1589.1,1691.4 1589.6,1691.4 1590.1,1691.3 1590.6,1691.3 1591.1,1691.2 1591.6,1691.2 1592.1,1691.1 1592.5,1691.1 1593,1691 1593.5,1691 1594,1691 1594.5,1690.9 1595,1690.9 1595.5,1690.8 1596,1690.8 1596.5,1690.8 1597,1690.7 1597.4,1690.7 1597.9,1690.6 1598.4,1690.6 1598.9,1690.5 1599.4,1690.5 1599.9,1690.5 1600.4,1690.4 1600.9,1690.4 1601.4,1690.4 1601.9,1690.3 1602.3,1690.3 1602.8,1690.2 1603.3,1690.2 1603.8,1690.2 1604.3,1690.1 1604.8,1690.1 1605.3,1690 1605.8,1690 1606.3,1690 1606.7,1689.9 1607.2,1689.9 1607.7,1689.9 1608.2,1689.8 1608.7,1689.8 1609.2,1689.8 1609.7,1689.7 1610.2,1689.7 1610.7,1689.7 1611.2,1689.6 1611.6,1689.6 1612.1,1689.6 1612.6,1689.5 1613.1,1689.5 1613.6,1689.5 1614.1,1689.4 1614.6,1689.4 1615.1,1689.4 1615.6,1689.3 1616,1689.3 1616.5,1689.3 1617,1689.2 1617.5,1689.2 1618,1689.2 1618.5,1689.1 1619,1689.1 1619.5,1689.1 1620,1689 1620.5,1689 1620.9,1689 1621.4,1689 1621.9,1688.9 1622.4,1688.9 1622.9,1688.9 1623.4,1688.8 1623.9,1688.8 1624.4,1688.8 1624.9,1688.7 1625.4,1688.7 1625.8,1688.7 1626.3,1688.7 1626.8,1688.6 1627.3,1688.6 1627.8,1688.6 1628.3,1688.5 1628.8,1688.5 1629.3,1688.5 1629.8,1688.5 1630.2,1688.4 1630.7,1688.4 1631.2,1688.4 1631.7,1688.4 1632.2,1688.3 1632.7,1688.3 1633.2,1688.3 1633.7,1688.2 1634.2,1688.2 1634.7,1688.2 1635.1,1688.2 1635.6,1688.1 1636,1688.1 1636.2,1690.1 1636.3,1691.8 1636.5,1693.3 1636.6,1694.7 1636.8,1696 1636.9,1697.2 1637.1,1698.3 1637.2,1699.3 1637.4,1700.3 1637.5,1701.2 1637.7,1702 1637.8,1702.8 1638,1703.6 1638.1,1704.4 1638.3,1705.1 1638.4,1705.7 1638.6,1706.4 1638.8,1707 1638.9,1707.6 1639.1,1708.2 1639.5,1709.9 1640,1711.5 1640.5,1712.9 1641,1714.2 1641.5,1715.5 1642,1716.7 1642.5,1717.9 1643,1719.1 1643.5,1720.2 1644,1721.3 1644.4,1722.3 1644.9,1723.2 1645.4,1724.2 1645.9,1725 1646.4,1725.9 1646.9,1726.7 1647.4,1727.4 1647.9,1728.2 1648.4,1728.9 1648.9,1729.5 1649.3,1730.1 1649.8,1730.7 1650.3,1731.3 1650.8,1731.9 1651.3,1732.4 1651.8,1732.9 1652.3,1733.3 1652.8,1733.8 1653.3,1734.2 1653.7,1734.6 1654.2,1735 1654.7,1735.4 1655.2,1735.7 1655.7,1736 1656.2,1736.3 1656.7,1736.7 1657.2,1736.9 1657.7,1737.2 1658.2,1737.5 1658.6,1737.7 1659.1,1738 1659.6,1738.2 1660.1,1738.5 1660.6,1738.7 1661.1,1738.9 1661.6,1739.1 1662.1,1739.3 1662.6,1739.5 1663.1,1739.7 1663.5,1739.9 1664,1740.1 1664.5,1740.3 1665,1740.4 1665.5,1740.6 1666,1740.8 1666.5,1741 1667,1741.1 1667.5,1741.3 1667.9,1741.4 1668.4,1741.6 1668.9,1741.7 1669.4,1741.9 1669.9,1742 1670.4,1742.2 1670.9,1742.3 1671.4,1742.4 1671.9,1742.6 1672.4,1742.7 1672.8,1742.9 1673.3,1743 1673.8,1743.1 1674.3,1743.2 1674.8,1743.4 1675.3,1743.5 1675.8,1743.6 1676.3,1743.8 1676.8,1743.9 1677.2,1744 1677.7,1744.1 1678.2,1744.2 1678.7,1744.4 1679.2,1744.5 1679.7,1744.6 1680.2,1744.7 1680.7,1744.8 1681.2,1745 1681.7,1745.1 1682.1,1745.2 1682.6,1745.3 1683.1,1745.4 1683.6,1745.5 1684.1,1745.6 1684.6,1745.7 1685.1,1745.9 1685.6,1746 1686.1,1746.1 1686.6,1746.2 1687,1746.3 1687.5,1746.4 1688,1746.5 1688.5,1746.6 1689,1746.7 1689.5,1746.9 1690,1747 1690.5,1747.1 1691,1747.2 1691.4,1747.3 1691.9,1747.4 1692.4,1747.5 1692.9,1747.6 1693.4,1747.7 1693.9,1747.8 1694.4,1747.9 1694.9,1748 1695.4,1748.1 1695.9,1748.2 1696.3,1748.4 1696.8,1748.5 1700.3,1748.6" fill="none" stroke="#F0D38E" stroke-width="4.8" stroke-linejoin="round" stroke-linecap="round"/>
</g>
<line x1="1400.3" y1="1043.5" x2="1488.3" y2="1043.5" stroke="#2FA865" stroke-width="4.8"/>
<text x="1497.7" y="1058.5" text-anchor="start" font-size="47.5" textLength="147.5" lengthAdjust="spacingAndGlyphs">CNO-B</text>
<line x1="1400.3" y1="1100.1" x2="1488.3" y2="1100.1" stroke="#8A97FC" stroke-width="4.8"/>
<text x="1497.7" y="1115.1" text-anchor="start" font-size="47.5" textLength="100" lengthAdjust="spacingAndGlyphs">CNO</text>
<line x1="1400.3" y1="1156.7" x2="1488.3" y2="1156.7" stroke="#F0D38E" stroke-width="4.8"/>
<text x="1497.7" y="1171.7" text-anchor="start" font-size="47.5" textLength="65" lengthAdjust="spacingAndGlyphs">CN</text>
</svg>
</body></html>
